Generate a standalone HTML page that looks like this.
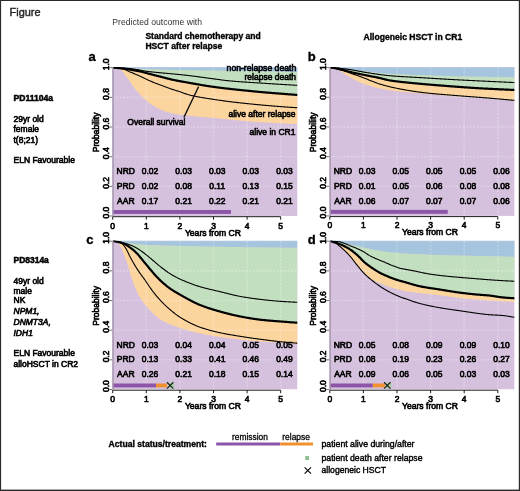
<!DOCTYPE html>
<html><head><meta charset="utf-8"><style>
html,body{margin:0;padding:0;background:#fff;}
svg{display:block;font-family:"Liberation Sans",sans-serif;}
</style></head><body>
<svg width="520" height="491" viewBox="0 0 520 491">
<defs><clipPath id="clipa"><rect x="112.5" y="67.0" width="185.0" height="149.0"/></clipPath><clipPath id="clipb"><rect x="329.6" y="66.89999999999999" width="185.0" height="149.0"/></clipPath><clipPath id="clipc"><rect x="112.5" y="240.5" width="185.0" height="149.0"/></clipPath><clipPath id="clipd"><rect x="329.6" y="240.5" width="185.0" height="149.0"/></clipPath><filter id="bl" x="0" y="0" width="100%" height="100%" filterUnits="userSpaceOnUse"><feGaussianBlur stdDeviation="0.3"/></filter></defs>
<rect x="0" y="0" width="520" height="491" fill="#fff"/>
<g filter="url(#bl)">
<g clip-path="url(#clipa)">
<rect x="112.5" y="67.0" width="185.0" height="0.8" fill="#a5c4de"/>
<rect x="112.5" y="67.7" width="185.0" height="148.3" fill="#d5c1dd"/>
<polygon points="112.70,67.70 113.37,67.70 114.04,67.70 114.72,67.70 115.39,67.70 116.06,67.70 116.73,67.70 117.40,67.70 118.08,67.70 118.75,67.70 119.42,67.70 120.09,67.70 120.76,67.70 121.44,67.70 122.11,67.70 122.78,67.70 123.45,67.70 124.12,67.70 124.80,67.70 125.47,67.70 126.14,67.70 126.81,67.70 127.48,67.70 128.16,67.70 128.83,67.70 129.50,67.70 130.17,67.70 130.84,67.70 131.52,67.70 132.19,67.70 132.86,67.70 133.53,67.70 134.20,67.70 134.88,67.70 135.55,67.70 136.22,67.70 136.89,67.70 137.56,67.70 138.24,67.70 138.91,67.70 139.58,67.70 140.25,67.70 140.92,67.70 141.60,67.70 142.27,67.70 142.94,67.70 143.61,67.70 144.28,67.70 144.96,67.70 145.63,67.70 146.30,67.70 146.97,67.70 147.64,67.70 148.32,67.70 148.99,67.70 149.66,67.70 150.33,67.70 151.00,67.70 151.68,67.70 152.35,67.70 153.02,67.70 153.69,67.70 154.36,67.70 155.04,67.70 155.71,67.70 156.38,67.70 157.05,67.70 157.72,67.70 158.40,67.70 159.07,67.70 159.74,67.70 160.41,67.70 161.08,67.70 161.76,67.70 162.43,67.70 163.10,67.70 163.77,67.70 164.44,67.70 165.12,67.70 165.79,67.70 166.46,67.70 167.13,67.70 167.80,67.70 168.48,67.70 169.15,67.70 169.82,67.70 170.49,67.70 171.16,67.70 171.84,67.70 172.51,67.70 173.18,67.70 173.85,67.70 174.52,67.70 175.20,67.70 175.87,67.70 176.54,67.70 177.21,67.70 177.88,67.70 178.56,67.70 179.23,67.70 179.90,67.70 180.57,67.70 181.24,67.70 181.92,67.70 182.59,67.70 183.26,67.70 183.93,67.70 184.60,67.70 185.28,67.70 185.95,67.70 186.62,67.70 187.29,67.70 187.96,67.70 188.64,67.70 189.31,67.70 189.98,67.70 190.65,67.70 191.32,67.70 192.00,67.70 192.67,67.70 193.34,67.70 194.01,67.70 194.68,67.70 195.36,67.70 196.03,67.70 196.70,67.70 197.37,67.70 198.04,67.70 198.72,67.70 199.39,67.70 200.06,67.70 200.73,67.70 201.40,67.70 202.08,67.70 202.75,67.70 203.42,67.70 204.09,67.70 204.76,67.70 205.44,67.70 206.11,67.70 206.78,67.70 207.45,67.70 208.12,67.70 208.80,67.70 209.47,67.70 210.14,67.70 210.81,67.70 211.48,67.70 212.16,67.70 212.83,67.70 213.50,67.70 214.17,67.70 214.84,67.70 215.52,67.70 216.19,67.70 216.86,67.70 217.53,67.70 218.20,67.70 218.88,67.70 219.55,67.70 220.22,67.70 220.89,67.70 221.56,67.70 222.24,67.70 222.91,67.70 223.58,67.70 224.25,67.70 224.92,67.70 225.60,67.70 226.27,67.70 226.94,67.70 227.61,67.70 228.28,67.70 228.96,67.70 229.63,67.70 230.30,67.70 230.97,67.70 231.64,67.70 232.32,67.70 232.99,67.70 233.66,67.70 234.33,67.70 235.00,67.70 235.68,67.70 236.35,67.70 237.02,67.70 237.69,67.70 238.36,67.70 239.04,67.70 239.71,67.70 240.38,67.70 241.05,67.70 241.72,67.70 242.40,67.70 243.07,67.70 243.74,67.70 244.41,67.70 245.08,67.70 245.76,67.70 246.43,67.70 247.10,67.70 247.77,67.70 248.44,67.70 249.12,67.70 249.79,67.70 250.46,67.70 251.13,67.70 251.80,67.70 252.48,67.70 253.15,67.70 253.82,67.70 254.49,67.70 255.16,67.70 255.84,67.70 256.51,67.70 257.18,67.70 257.85,67.70 258.52,67.70 259.20,67.70 259.87,67.70 260.54,67.70 261.21,67.70 261.88,67.70 262.56,67.70 263.23,67.70 263.90,67.70 264.57,67.70 265.24,67.70 265.92,67.70 266.59,67.70 267.26,67.70 267.93,67.70 268.60,67.70 269.28,67.70 269.95,67.70 270.62,67.70 271.29,67.70 271.96,67.70 272.64,67.70 273.31,67.70 273.98,67.70 274.65,67.70 275.32,67.70 276.00,67.70 276.67,67.70 277.34,67.70 278.01,67.70 278.68,67.70 279.36,67.70 280.03,67.70 280.70,67.70 281.37,67.70 282.04,67.70 282.72,67.70 283.39,67.70 284.06,67.70 284.73,67.70 285.40,67.70 286.08,67.70 286.75,67.70 287.42,67.70 288.09,67.70 288.76,67.70 289.44,67.70 290.11,67.70 290.78,67.70 291.45,67.70 292.12,67.70 292.80,67.70 293.47,67.70 294.14,67.70 294.81,67.70 295.48,67.70 296.16,67.70 296.83,67.70 297.50,67.70 297.50,72.15 296.83,72.13 296.16,72.12 295.48,72.10 294.81,72.09 294.14,72.07 293.47,72.06 292.80,72.04 292.12,72.03 291.45,72.01 290.78,72.00 290.11,71.98 289.44,71.97 288.76,71.95 288.09,71.94 287.42,71.92 286.75,71.91 286.08,71.89 285.40,71.87 284.73,71.86 284.06,71.84 283.39,71.83 282.72,71.81 282.04,71.80 281.37,71.78 280.70,71.77 280.03,71.75 279.36,71.74 278.68,71.72 278.01,71.71 277.34,71.69 276.67,71.68 276.00,71.66 275.32,71.65 274.65,71.63 273.98,71.62 273.31,71.60 272.64,71.59 271.96,71.57 271.29,71.56 270.62,71.54 269.95,71.53 269.28,71.52 268.60,71.50 267.93,71.49 267.26,71.47 266.59,71.46 265.92,71.45 265.24,71.43 264.57,71.42 263.90,71.41 263.23,71.39 262.56,71.38 261.88,71.37 261.21,71.36 260.54,71.34 259.87,71.33 259.20,71.32 258.52,71.30 257.85,71.29 257.18,71.28 256.51,71.27 255.84,71.25 255.16,71.24 254.49,71.23 253.82,71.22 253.15,71.21 252.48,71.19 251.80,71.18 251.13,71.17 250.46,71.16 249.79,71.15 249.12,71.13 248.44,71.12 247.77,71.11 247.10,71.10 246.43,71.09 245.76,71.08 245.08,71.06 244.41,71.05 243.74,71.04 243.07,71.03 242.40,71.02 241.72,71.01 241.05,71.00 240.38,70.98 239.71,70.97 239.04,70.96 238.36,70.95 237.69,70.94 237.02,70.93 236.35,70.92 235.68,70.91 235.00,70.90 234.33,70.89 233.66,70.87 232.99,70.86 232.32,70.85 231.64,70.84 230.97,70.83 230.30,70.82 229.63,70.81 228.96,70.80 228.28,70.79 227.61,70.78 226.94,70.77 226.27,70.76 225.60,70.75 224.92,70.74 224.25,70.73 223.58,70.72 222.91,70.71 222.24,70.70 221.56,70.69 220.89,70.68 220.22,70.67 219.55,70.66 218.88,70.65 218.20,70.64 217.53,70.63 216.86,70.62 216.19,70.61 215.52,70.60 214.84,70.59 214.17,70.58 213.50,70.57 212.83,70.56 212.16,70.55 211.48,70.54 210.81,70.53 210.14,70.53 209.47,70.52 208.80,70.51 208.12,70.50 207.45,70.49 206.78,70.48 206.11,70.47 205.44,70.46 204.76,70.45 204.09,70.44 203.42,70.43 202.75,70.42 202.08,70.41 201.40,70.40 200.73,70.39 200.06,70.38 199.39,70.37 198.72,70.36 198.04,70.35 197.37,70.34 196.70,70.33 196.03,70.32 195.36,70.31 194.68,70.30 194.01,70.29 193.34,70.28 192.67,70.27 192.00,70.25 191.32,70.24 190.65,70.23 189.98,70.22 189.31,70.21 188.64,70.20 187.96,70.19 187.29,70.18 186.62,70.16 185.95,70.15 185.28,70.14 184.60,70.13 183.93,70.12 183.26,70.11 182.59,70.09 181.92,70.08 181.24,70.07 180.57,70.06 179.90,70.05 179.23,70.03 178.56,70.02 177.88,70.01 177.21,70.00 176.54,69.98 175.87,69.97 175.20,69.96 174.52,69.95 173.85,69.93 173.18,69.92 172.51,69.91 171.84,69.89 171.16,69.88 170.49,69.87 169.82,69.85 169.15,69.84 168.48,69.82 167.80,69.81 167.13,69.79 166.46,69.78 165.79,69.76 165.12,69.75 164.44,69.73 163.77,69.72 163.10,69.70 162.43,69.69 161.76,69.67 161.08,69.65 160.41,69.64 159.74,69.62 159.07,69.60 158.40,69.58 157.72,69.57 157.05,69.55 156.38,69.53 155.71,69.51 155.04,69.49 154.36,69.47 153.69,69.45 153.02,69.43 152.35,69.41 151.68,69.38 151.00,69.36 150.33,69.34 149.66,69.31 148.99,69.29 148.32,69.26 147.64,69.24 146.97,69.21 146.30,69.18 145.63,69.15 144.96,69.12 144.28,69.08 143.61,69.05 142.94,69.00 142.27,68.96 141.60,68.92 140.92,68.87 140.25,68.82 139.58,68.78 138.91,68.73 138.24,68.68 137.56,68.63 136.89,68.58 136.22,68.53 135.55,68.48 134.88,68.44 134.20,68.39 133.53,68.35 132.86,68.31 132.19,68.27 131.52,68.24 130.84,68.20 130.17,68.17 129.50,68.14 128.83,68.12 128.16,68.09 127.48,68.07 126.81,68.04 126.14,68.02 125.47,67.99 124.80,67.97 124.12,67.95 123.45,67.92 122.78,67.90 122.11,67.88 121.44,67.85 120.76,67.83 120.09,67.82 119.42,67.80 118.75,67.78 118.08,67.76 117.40,67.75 116.73,67.74 116.06,67.73 115.39,67.72 114.72,67.71 114.04,67.70 113.37,67.70 112.70,67.70" fill="#a5c4de"/>
<polygon points="112.70,67.70 113.37,67.70 114.04,67.70 114.72,67.71 115.39,67.72 116.06,67.73 116.73,67.74 117.40,67.75 118.08,67.76 118.75,67.78 119.42,67.80 120.09,67.82 120.76,67.83 121.44,67.85 122.11,67.88 122.78,67.90 123.45,67.92 124.12,67.95 124.80,67.97 125.47,67.99 126.14,68.02 126.81,68.04 127.48,68.07 128.16,68.09 128.83,68.12 129.50,68.14 130.17,68.17 130.84,68.20 131.52,68.24 132.19,68.27 132.86,68.31 133.53,68.35 134.20,68.39 134.88,68.44 135.55,68.48 136.22,68.53 136.89,68.58 137.56,68.63 138.24,68.68 138.91,68.73 139.58,68.78 140.25,68.82 140.92,68.87 141.60,68.92 142.27,68.96 142.94,69.00 143.61,69.05 144.28,69.08 144.96,69.12 145.63,69.15 146.30,69.18 146.97,69.21 147.64,69.24 148.32,69.26 148.99,69.29 149.66,69.31 150.33,69.34 151.00,69.36 151.68,69.38 152.35,69.41 153.02,69.43 153.69,69.45 154.36,69.47 155.04,69.49 155.71,69.51 156.38,69.53 157.05,69.55 157.72,69.57 158.40,69.58 159.07,69.60 159.74,69.62 160.41,69.64 161.08,69.65 161.76,69.67 162.43,69.69 163.10,69.70 163.77,69.72 164.44,69.73 165.12,69.75 165.79,69.76 166.46,69.78 167.13,69.79 167.80,69.81 168.48,69.82 169.15,69.84 169.82,69.85 170.49,69.87 171.16,69.88 171.84,69.89 172.51,69.91 173.18,69.92 173.85,69.93 174.52,69.95 175.20,69.96 175.87,69.97 176.54,69.98 177.21,70.00 177.88,70.01 178.56,70.02 179.23,70.03 179.90,70.05 180.57,70.06 181.24,70.07 181.92,70.08 182.59,70.09 183.26,70.11 183.93,70.12 184.60,70.13 185.28,70.14 185.95,70.15 186.62,70.16 187.29,70.18 187.96,70.19 188.64,70.20 189.31,70.21 189.98,70.22 190.65,70.23 191.32,70.24 192.00,70.25 192.67,70.27 193.34,70.28 194.01,70.29 194.68,70.30 195.36,70.31 196.03,70.32 196.70,70.33 197.37,70.34 198.04,70.35 198.72,70.36 199.39,70.37 200.06,70.38 200.73,70.39 201.40,70.40 202.08,70.41 202.75,70.42 203.42,70.43 204.09,70.44 204.76,70.45 205.44,70.46 206.11,70.47 206.78,70.48 207.45,70.49 208.12,70.50 208.80,70.51 209.47,70.52 210.14,70.53 210.81,70.53 211.48,70.54 212.16,70.55 212.83,70.56 213.50,70.57 214.17,70.58 214.84,70.59 215.52,70.60 216.19,70.61 216.86,70.62 217.53,70.63 218.20,70.64 218.88,70.65 219.55,70.66 220.22,70.67 220.89,70.68 221.56,70.69 222.24,70.70 222.91,70.71 223.58,70.72 224.25,70.73 224.92,70.74 225.60,70.75 226.27,70.76 226.94,70.77 227.61,70.78 228.28,70.79 228.96,70.80 229.63,70.81 230.30,70.82 230.97,70.83 231.64,70.84 232.32,70.85 232.99,70.86 233.66,70.87 234.33,70.89 235.00,70.90 235.68,70.91 236.35,70.92 237.02,70.93 237.69,70.94 238.36,70.95 239.04,70.96 239.71,70.97 240.38,70.98 241.05,71.00 241.72,71.01 242.40,71.02 243.07,71.03 243.74,71.04 244.41,71.05 245.08,71.06 245.76,71.08 246.43,71.09 247.10,71.10 247.77,71.11 248.44,71.12 249.12,71.13 249.79,71.15 250.46,71.16 251.13,71.17 251.80,71.18 252.48,71.19 253.15,71.21 253.82,71.22 254.49,71.23 255.16,71.24 255.84,71.25 256.51,71.27 257.18,71.28 257.85,71.29 258.52,71.30 259.20,71.32 259.87,71.33 260.54,71.34 261.21,71.36 261.88,71.37 262.56,71.38 263.23,71.39 263.90,71.41 264.57,71.42 265.24,71.43 265.92,71.45 266.59,71.46 267.26,71.47 267.93,71.49 268.60,71.50 269.28,71.52 269.95,71.53 270.62,71.54 271.29,71.56 271.96,71.57 272.64,71.59 273.31,71.60 273.98,71.62 274.65,71.63 275.32,71.65 276.00,71.66 276.67,71.68 277.34,71.69 278.01,71.71 278.68,71.72 279.36,71.74 280.03,71.75 280.70,71.77 281.37,71.78 282.04,71.80 282.72,71.81 283.39,71.83 284.06,71.84 284.73,71.86 285.40,71.87 286.08,71.89 286.75,71.91 287.42,71.92 288.09,71.94 288.76,71.95 289.44,71.97 290.11,71.98 290.78,72.00 291.45,72.01 292.12,72.03 292.80,72.04 293.47,72.06 294.14,72.07 294.81,72.09 295.48,72.10 296.16,72.12 296.83,72.13 297.50,72.15 297.50,94.99 296.83,94.93 296.16,94.88 295.48,94.83 294.81,94.77 294.14,94.72 293.47,94.66 292.80,94.61 292.12,94.56 291.45,94.50 290.78,94.45 290.11,94.39 289.44,94.34 288.76,94.29 288.09,94.23 287.42,94.18 286.75,94.13 286.08,94.08 285.40,94.03 284.73,93.97 284.06,93.92 283.39,93.87 282.72,93.82 282.04,93.77 281.37,93.72 280.70,93.67 280.03,93.61 279.36,93.56 278.68,93.51 278.01,93.46 277.34,93.41 276.67,93.36 276.00,93.30 275.32,93.25 274.65,93.20 273.98,93.15 273.31,93.10 272.64,93.04 271.96,92.99 271.29,92.94 270.62,92.88 269.95,92.83 269.28,92.77 268.60,92.72 267.93,92.66 267.26,92.61 266.59,92.55 265.92,92.49 265.24,92.43 264.57,92.38 263.90,92.32 263.23,92.26 262.56,92.20 261.88,92.14 261.21,92.08 260.54,92.01 259.87,91.95 259.20,91.89 258.52,91.82 257.85,91.76 257.18,91.69 256.51,91.63 255.84,91.56 255.16,91.50 254.49,91.43 253.82,91.36 253.15,91.29 252.48,91.23 251.80,91.16 251.13,91.09 250.46,91.02 249.79,90.96 249.12,90.89 248.44,90.82 247.77,90.75 247.10,90.69 246.43,90.62 245.76,90.55 245.08,90.48 244.41,90.42 243.74,90.35 243.07,90.28 242.40,90.22 241.72,90.15 241.05,90.08 240.38,90.01 239.71,89.95 239.04,89.88 238.36,89.81 237.69,89.74 237.02,89.67 236.35,89.60 235.68,89.53 235.00,89.46 234.33,89.39 233.66,89.32 232.99,89.24 232.32,89.17 231.64,89.10 230.97,89.02 230.30,88.95 229.63,88.87 228.96,88.79 228.28,88.71 227.61,88.64 226.94,88.56 226.27,88.48 225.60,88.40 224.92,88.32 224.25,88.24 223.58,88.16 222.91,88.08 222.24,87.99 221.56,87.91 220.89,87.83 220.22,87.74 219.55,87.66 218.88,87.57 218.20,87.49 217.53,87.40 216.86,87.31 216.19,87.22 215.52,87.13 214.84,87.04 214.17,86.95 213.50,86.86 212.83,86.77 212.16,86.67 211.48,86.58 210.81,86.48 210.14,86.39 209.47,86.29 208.80,86.19 208.12,86.09 207.45,85.98 206.78,85.88 206.11,85.77 205.44,85.66 204.76,85.55 204.09,85.44 203.42,85.33 202.75,85.22 202.08,85.11 201.40,84.99 200.73,84.88 200.06,84.76 199.39,84.64 198.72,84.53 198.04,84.41 197.37,84.29 196.70,84.17 196.03,84.05 195.36,83.93 194.68,83.81 194.01,83.69 193.34,83.57 192.67,83.45 192.00,83.33 191.32,83.21 190.65,83.09 189.98,82.97 189.31,82.86 188.64,82.74 187.96,82.62 187.29,82.50 186.62,82.38 185.95,82.27 185.28,82.15 184.60,82.03 183.93,81.91 183.26,81.79 182.59,81.68 181.92,81.56 181.24,81.43 180.57,81.31 179.90,81.19 179.23,81.06 178.56,80.94 177.88,80.81 177.21,80.68 176.54,80.55 175.87,80.42 175.20,80.28 174.52,80.14 173.85,80.00 173.18,79.86 172.51,79.71 171.84,79.56 171.16,79.41 170.49,79.25 169.82,79.09 169.15,78.93 168.48,78.76 167.80,78.59 167.13,78.42 166.46,78.25 165.79,78.08 165.12,77.90 164.44,77.73 163.77,77.55 163.10,77.38 162.43,77.20 161.76,77.03 161.08,76.85 160.41,76.68 159.74,76.51 159.07,76.34 158.40,76.17 157.72,76.00 157.05,75.83 156.38,75.66 155.71,75.49 155.04,75.31 154.36,75.14 153.69,74.97 153.02,74.79 152.35,74.62 151.68,74.45 151.00,74.27 150.33,74.10 149.66,73.93 148.99,73.75 148.32,73.57 147.64,73.39 146.97,73.21 146.30,73.02 145.63,72.83 144.96,72.65 144.28,72.47 143.61,72.29 142.94,72.11 142.27,71.94 141.60,71.78 140.92,71.63 140.25,71.48 139.58,71.34 138.91,71.20 138.24,71.07 137.56,70.93 136.89,70.80 136.22,70.67 135.55,70.55 134.88,70.42 134.20,70.30 133.53,70.18 132.86,70.06 132.19,69.94 131.52,69.83 130.84,69.72 130.17,69.61 129.50,69.50 128.83,69.40 128.16,69.29 127.48,69.20 126.81,69.10 126.14,69.01 125.47,68.92 124.80,68.83 124.12,68.75 123.45,68.67 122.78,68.59 122.11,68.51 121.44,68.43 120.76,68.35 120.09,68.27 119.42,68.19 118.75,68.11 118.08,68.04 117.40,67.97 116.73,67.90 116.06,67.85 115.39,67.80 114.72,67.76 114.04,67.73 113.37,67.71 112.70,67.70" fill="#c2dfc0"/>
<polygon points="112.70,67.70 113.37,67.71 114.04,67.73 114.72,67.76 115.39,67.80 116.06,67.85 116.73,67.90 117.40,67.97 118.08,68.04 118.75,68.11 119.42,68.19 120.09,68.27 120.76,68.35 121.44,68.43 122.11,68.51 122.78,68.59 123.45,68.67 124.12,68.75 124.80,68.83 125.47,68.92 126.14,69.01 126.81,69.10 127.48,69.20 128.16,69.29 128.83,69.40 129.50,69.50 130.17,69.61 130.84,69.72 131.52,69.83 132.19,69.94 132.86,70.06 133.53,70.18 134.20,70.30 134.88,70.42 135.55,70.55 136.22,70.67 136.89,70.80 137.56,70.93 138.24,71.07 138.91,71.20 139.58,71.34 140.25,71.48 140.92,71.63 141.60,71.78 142.27,71.94 142.94,72.11 143.61,72.29 144.28,72.47 144.96,72.65 145.63,72.83 146.30,73.02 146.97,73.21 147.64,73.39 148.32,73.57 148.99,73.75 149.66,73.93 150.33,74.10 151.00,74.27 151.68,74.45 152.35,74.62 153.02,74.79 153.69,74.97 154.36,75.14 155.04,75.31 155.71,75.49 156.38,75.66 157.05,75.83 157.72,76.00 158.40,76.17 159.07,76.34 159.74,76.51 160.41,76.68 161.08,76.85 161.76,77.03 162.43,77.20 163.10,77.38 163.77,77.55 164.44,77.73 165.12,77.90 165.79,78.08 166.46,78.25 167.13,78.42 167.80,78.59 168.48,78.76 169.15,78.93 169.82,79.09 170.49,79.25 171.16,79.41 171.84,79.56 172.51,79.71 173.18,79.86 173.85,80.00 174.52,80.14 175.20,80.28 175.87,80.42 176.54,80.55 177.21,80.68 177.88,80.81 178.56,80.94 179.23,81.06 179.90,81.19 180.57,81.31 181.24,81.43 181.92,81.56 182.59,81.68 183.26,81.79 183.93,81.91 184.60,82.03 185.28,82.15 185.95,82.27 186.62,82.38 187.29,82.50 187.96,82.62 188.64,82.74 189.31,82.86 189.98,82.97 190.65,83.09 191.32,83.21 192.00,83.33 192.67,83.45 193.34,83.57 194.01,83.69 194.68,83.81 195.36,83.93 196.03,84.05 196.70,84.17 197.37,84.29 198.04,84.41 198.72,84.53 199.39,84.64 200.06,84.76 200.73,84.88 201.40,84.99 202.08,85.11 202.75,85.22 203.42,85.33 204.09,85.44 204.76,85.55 205.44,85.66 206.11,85.77 206.78,85.88 207.45,85.98 208.12,86.09 208.80,86.19 209.47,86.29 210.14,86.39 210.81,86.48 211.48,86.58 212.16,86.67 212.83,86.77 213.50,86.86 214.17,86.95 214.84,87.04 215.52,87.13 216.19,87.22 216.86,87.31 217.53,87.40 218.20,87.49 218.88,87.57 219.55,87.66 220.22,87.74 220.89,87.83 221.56,87.91 222.24,87.99 222.91,88.08 223.58,88.16 224.25,88.24 224.92,88.32 225.60,88.40 226.27,88.48 226.94,88.56 227.61,88.64 228.28,88.71 228.96,88.79 229.63,88.87 230.30,88.95 230.97,89.02 231.64,89.10 232.32,89.17 232.99,89.24 233.66,89.32 234.33,89.39 235.00,89.46 235.68,89.53 236.35,89.60 237.02,89.67 237.69,89.74 238.36,89.81 239.04,89.88 239.71,89.95 240.38,90.01 241.05,90.08 241.72,90.15 242.40,90.22 243.07,90.28 243.74,90.35 244.41,90.42 245.08,90.48 245.76,90.55 246.43,90.62 247.10,90.69 247.77,90.75 248.44,90.82 249.12,90.89 249.79,90.96 250.46,91.02 251.13,91.09 251.80,91.16 252.48,91.23 253.15,91.29 253.82,91.36 254.49,91.43 255.16,91.50 255.84,91.56 256.51,91.63 257.18,91.69 257.85,91.76 258.52,91.82 259.20,91.89 259.87,91.95 260.54,92.01 261.21,92.08 261.88,92.14 262.56,92.20 263.23,92.26 263.90,92.32 264.57,92.38 265.24,92.43 265.92,92.49 266.59,92.55 267.26,92.61 267.93,92.66 268.60,92.72 269.28,92.77 269.95,92.83 270.62,92.88 271.29,92.94 271.96,92.99 272.64,93.04 273.31,93.10 273.98,93.15 274.65,93.20 275.32,93.25 276.00,93.30 276.67,93.36 277.34,93.41 278.01,93.46 278.68,93.51 279.36,93.56 280.03,93.61 280.70,93.67 281.37,93.72 282.04,93.77 282.72,93.82 283.39,93.87 284.06,93.92 284.73,93.97 285.40,94.03 286.08,94.08 286.75,94.13 287.42,94.18 288.09,94.23 288.76,94.29 289.44,94.34 290.11,94.39 290.78,94.45 291.45,94.50 292.12,94.56 292.80,94.61 293.47,94.66 294.14,94.72 294.81,94.77 295.48,94.83 296.16,94.88 296.83,94.93 297.50,94.99 297.50,124.20 296.83,124.17 296.16,124.13 295.48,124.10 294.81,124.06 294.14,124.02 293.47,123.99 292.80,123.95 292.12,123.92 291.45,123.88 290.78,123.85 290.11,123.81 289.44,123.78 288.76,123.74 288.09,123.70 287.42,123.67 286.75,123.63 286.08,123.60 285.40,123.56 284.73,123.53 284.06,123.49 283.39,123.45 282.72,123.42 282.04,123.38 281.37,123.35 280.70,123.31 280.03,123.28 279.36,123.24 278.68,123.21 278.01,123.17 277.34,123.14 276.67,123.10 276.00,123.07 275.32,123.04 274.65,123.00 273.98,122.97 273.31,122.93 272.64,122.90 271.96,122.87 271.29,122.83 270.62,122.80 269.95,122.76 269.28,122.73 268.60,122.69 267.93,122.65 267.26,122.62 266.59,122.58 265.92,122.54 265.24,122.50 264.57,122.46 263.90,122.42 263.23,122.38 262.56,122.34 261.88,122.30 261.21,122.26 260.54,122.21 259.87,122.17 259.20,122.13 258.52,122.08 257.85,122.04 257.18,121.99 256.51,121.94 255.84,121.90 255.16,121.85 254.49,121.80 253.82,121.75 253.15,121.71 252.48,121.66 251.80,121.61 251.13,121.55 250.46,121.50 249.79,121.45 249.12,121.40 248.44,121.34 247.77,121.29 247.10,121.24 246.43,121.18 245.76,121.12 245.08,121.06 244.41,121.00 243.74,120.94 243.07,120.88 242.40,120.82 241.72,120.75 241.05,120.69 240.38,120.62 239.71,120.55 239.04,120.49 238.36,120.42 237.69,120.35 237.02,120.28 236.35,120.21 235.68,120.14 235.00,120.08 234.33,120.01 233.66,119.94 232.99,119.87 232.32,119.80 231.64,119.74 230.97,119.67 230.30,119.61 229.63,119.54 228.96,119.47 228.28,119.41 227.61,119.34 226.94,119.28 226.27,119.21 225.60,119.14 224.92,119.08 224.25,119.01 223.58,118.94 222.91,118.88 222.24,118.81 221.56,118.75 220.89,118.68 220.22,118.61 219.55,118.55 218.88,118.48 218.20,118.42 217.53,118.35 216.86,118.29 216.19,118.23 215.52,118.16 214.84,118.10 214.17,118.04 213.50,117.97 212.83,117.91 212.16,117.85 211.48,117.79 210.81,117.73 210.14,117.67 209.47,117.62 208.80,117.56 208.12,117.50 207.45,117.44 206.78,117.39 206.11,117.33 205.44,117.27 204.76,117.21 204.09,117.15 203.42,117.09 202.75,117.04 202.08,116.97 201.40,116.91 200.73,116.85 200.06,116.79 199.39,116.72 198.72,116.66 198.04,116.59 197.37,116.53 196.70,116.46 196.03,116.39 195.36,116.32 194.68,116.25 194.01,116.18 193.34,116.11 192.67,116.04 192.00,115.97 191.32,115.90 190.65,115.82 189.98,115.75 189.31,115.68 188.64,115.60 187.96,115.53 187.29,115.46 186.62,115.38 185.95,115.31 185.28,115.23 184.60,115.16 183.93,115.08 183.26,115.00 182.59,114.92 181.92,114.83 181.24,114.75 180.57,114.66 179.90,114.56 179.23,114.47 178.56,114.37 177.88,114.27 177.21,114.17 176.54,114.07 175.87,113.96 175.20,113.85 174.52,113.73 173.85,113.61 173.18,113.49 172.51,113.36 171.84,113.23 171.16,113.09 170.49,112.94 169.82,112.78 169.15,112.62 168.48,112.44 167.80,112.25 167.13,112.05 166.46,111.83 165.79,111.61 165.12,111.38 164.44,111.13 163.77,110.88 163.10,110.62 162.43,110.36 161.76,110.08 161.08,109.80 160.41,109.52 159.74,109.22 159.07,108.92 158.40,108.59 157.72,108.25 157.05,107.90 156.38,107.53 155.71,107.15 155.04,106.75 154.36,106.35 153.69,105.94 153.02,105.52 152.35,105.08 151.68,104.63 151.00,104.16 150.33,103.67 149.66,103.17 148.99,102.65 148.32,102.13 147.64,101.59 146.97,101.03 146.30,100.47 145.63,99.90 144.96,99.31 144.28,98.70 143.61,98.08 142.94,97.44 142.27,96.79 141.60,96.12 140.92,95.44 140.25,94.74 139.58,94.04 138.91,93.32 138.24,92.58 137.56,91.82 136.89,91.04 136.22,90.24 135.55,89.43 134.88,88.59 134.20,87.73 133.53,86.83 132.86,85.89 132.19,84.94 131.52,83.96 130.84,82.99 130.17,82.03 129.50,81.06 128.83,80.08 128.16,79.08 127.48,78.10 126.81,77.17 126.14,76.30 125.47,75.45 124.80,74.58 124.12,73.70 123.45,72.84 122.78,72.02 122.11,71.25 121.44,70.56 120.76,69.97 120.09,69.51 119.42,69.18 118.75,68.94 118.08,68.71 117.40,68.50 116.73,68.31 116.06,68.13 115.39,67.99 114.72,67.87 114.04,67.78 113.37,67.72 112.70,67.70" fill="#fcd49e"/>
<line x1="146.3" y1="67.7" x2="146.3" y2="216.0" stroke="#fff" stroke-opacity="0.25" stroke-width="1.6" stroke-dasharray="2,1.5"/>
<line x1="179.9" y1="67.7" x2="179.9" y2="216.0" stroke="#fff" stroke-opacity="0.25" stroke-width="1.6" stroke-dasharray="2,1.5"/>
<line x1="213.5" y1="67.7" x2="213.5" y2="216.0" stroke="#fff" stroke-opacity="0.25" stroke-width="1.6" stroke-dasharray="2,1.5"/>
<line x1="247.1" y1="67.7" x2="247.1" y2="216.0" stroke="#fff" stroke-opacity="0.25" stroke-width="1.6" stroke-dasharray="2,1.5"/>
<line x1="280.7" y1="67.7" x2="280.7" y2="216.0" stroke="#fff" stroke-opacity="0.25" stroke-width="1.6" stroke-dasharray="2,1.5"/>
<line x1="112.5" y1="186.3" x2="297.5" y2="186.3" stroke="#fff" stroke-opacity="0.25" stroke-width="1.6" stroke-dasharray="2,1.5"/>
<line x1="112.5" y1="156.7" x2="297.5" y2="156.7" stroke="#fff" stroke-opacity="0.25" stroke-width="1.6" stroke-dasharray="2,1.5"/>
<line x1="112.5" y1="127.0" x2="297.5" y2="127.0" stroke="#fff" stroke-opacity="0.25" stroke-width="1.6" stroke-dasharray="2,1.5"/>
<line x1="112.5" y1="97.4" x2="297.5" y2="97.4" stroke="#fff" stroke-opacity="0.25" stroke-width="1.6" stroke-dasharray="2,1.5"/>
<polyline points="112.70,67.70 113.37,67.70 114.04,67.71 114.72,67.72 115.39,67.73 116.06,67.74 116.73,67.76 117.40,67.78 118.08,67.80 118.75,67.83 119.42,67.85 120.09,67.88 120.76,67.91 121.44,67.94 122.11,67.97 122.78,68.00 123.45,68.03 124.12,68.07 124.80,68.11 125.47,68.17 126.14,68.22 126.81,68.28 127.48,68.35 128.16,68.41 128.83,68.49 129.50,68.56 130.17,68.64 130.84,68.72 131.52,68.80 132.19,68.88 132.86,68.97 133.53,69.05 134.20,69.14 134.88,69.23 135.55,69.32 136.22,69.43 136.89,69.54 137.56,69.66 138.24,69.79 138.91,69.91 139.58,70.05 140.25,70.18 140.92,70.31 141.60,70.45 142.27,70.58 142.94,70.70 143.61,70.83 144.28,70.95 144.96,71.06 145.63,71.16 146.30,71.26 146.97,71.35 147.64,71.43 148.32,71.52 148.99,71.60 149.66,71.68 150.33,71.76 151.00,71.83 151.68,71.90 152.35,71.98 153.02,72.05 153.69,72.11 154.36,72.18 155.04,72.25 155.71,72.32 156.38,72.38 157.05,72.45 157.72,72.51 158.40,72.58 159.07,72.64 159.74,72.71 160.41,72.78 161.08,72.84 161.76,72.90 162.43,72.97 163.10,73.03 163.77,73.09 164.44,73.15 165.12,73.21 165.79,73.26 166.46,73.32 167.13,73.38 167.80,73.44 168.48,73.50 169.15,73.56 169.82,73.62 170.49,73.68 171.16,73.74 171.84,73.80 172.51,73.86 173.18,73.93 173.85,73.99 174.52,74.06 175.20,74.13 175.87,74.19 176.54,74.26 177.21,74.33 177.88,74.40 178.56,74.46 179.23,74.53 179.90,74.60 180.57,74.67 181.24,74.74 181.92,74.81 182.59,74.88 183.26,74.95 183.93,75.03 184.60,75.10 185.28,75.17 185.95,75.25 186.62,75.32 187.29,75.40 187.96,75.48 188.64,75.55 189.31,75.63 189.98,75.71 190.65,75.79 191.32,75.87 192.00,75.95 192.67,76.03 193.34,76.12 194.01,76.20 194.68,76.29 195.36,76.38 196.03,76.47 196.70,76.56 197.37,76.65 198.04,76.74 198.72,76.83 199.39,76.92 200.06,77.01 200.73,77.10 201.40,77.20 202.08,77.29 202.75,77.38 203.42,77.47 204.09,77.57 204.76,77.66 205.44,77.75 206.11,77.84 206.78,77.93 207.45,78.02 208.12,78.11 208.80,78.20 209.47,78.29 210.14,78.38 210.81,78.47 211.48,78.55 212.16,78.64 212.83,78.74 213.50,78.83 214.17,78.92 214.84,79.01 215.52,79.11 216.19,79.20 216.86,79.29 217.53,79.38 218.20,79.48 218.88,79.57 219.55,79.66 220.22,79.75 220.89,79.84 221.56,79.93 222.24,80.02 222.91,80.11 223.58,80.19 224.25,80.28 224.92,80.36 225.60,80.44 226.27,80.51 226.94,80.59 227.61,80.66 228.28,80.73 228.96,80.80 229.63,80.87 230.30,80.93 230.97,80.99 231.64,81.05 232.32,81.11 232.99,81.17 233.66,81.23 234.33,81.28 235.00,81.34 235.68,81.39 236.35,81.44 237.02,81.50 237.69,81.55 238.36,81.60 239.04,81.65 239.71,81.70 240.38,81.75 241.05,81.80 241.72,81.85 242.40,81.89 243.07,81.94 243.74,81.99 244.41,82.03 245.08,82.08 245.76,82.12 246.43,82.17 247.10,82.21 247.77,82.25 248.44,82.30 249.12,82.34 249.79,82.38 250.46,82.43 251.13,82.47 251.80,82.51 252.48,82.55 253.15,82.59 253.82,82.64 254.49,82.68 255.16,82.72 255.84,82.76 256.51,82.80 257.18,82.84 257.85,82.89 258.52,82.93 259.20,82.97 259.87,83.01 260.54,83.05 261.21,83.10 261.88,83.14 262.56,83.18 263.23,83.23 263.90,83.27 264.57,83.32 265.24,83.36 265.92,83.40 266.59,83.45 267.26,83.49 267.93,83.53 268.60,83.58 269.28,83.62 269.95,83.66 270.62,83.70 271.29,83.75 271.96,83.79 272.64,83.83 273.31,83.87 273.98,83.92 274.65,83.96 275.32,84.00 276.00,84.04 276.67,84.08 277.34,84.12 278.01,84.16 278.68,84.21 279.36,84.25 280.03,84.29 280.70,84.33 281.37,84.37 282.04,84.41 282.72,84.45 283.39,84.49 284.06,84.53 284.73,84.58 285.40,84.62 286.08,84.66 286.75,84.70 287.42,84.74 288.09,84.78 288.76,84.82 289.44,84.86 290.11,84.90 290.78,84.94 291.45,84.98 292.12,85.03 292.80,85.07 293.47,85.11 294.14,85.15 294.81,85.19 295.48,85.23 296.16,85.27 296.83,85.31 297.50,85.35" fill="none" stroke="#000" stroke-width="1.1" stroke-linejoin="round"/>
<polyline points="112.70,67.70 113.37,67.71 114.04,67.72 114.72,67.75 115.39,67.80 116.06,67.85 116.73,67.90 117.40,67.97 118.08,68.04 118.75,68.12 119.42,68.21 120.09,68.30 120.76,68.39 121.44,68.50 122.11,68.64 122.78,68.83 123.45,69.05 124.12,69.30 124.80,69.58 125.47,69.87 126.14,70.18 126.81,70.49 127.48,70.81 128.16,71.12 128.83,71.42 129.50,71.70 130.17,71.98 130.84,72.25 131.52,72.53 132.19,72.81 132.86,73.09 133.53,73.37 134.20,73.66 134.88,73.95 135.55,74.23 136.22,74.52 136.89,74.82 137.56,75.11 138.24,75.41 138.91,75.70 139.58,76.00 140.25,76.30 140.92,76.61 141.60,76.93 142.27,77.25 142.94,77.57 143.61,77.90 144.28,78.23 144.96,78.55 145.63,78.88 146.30,79.20 146.97,79.53 147.64,79.84 148.32,80.15 148.99,80.46 149.66,80.75 150.33,81.04 151.00,81.32 151.68,81.60 152.35,81.88 153.02,82.16 153.69,82.43 154.36,82.69 155.04,82.96 155.71,83.22 156.38,83.49 157.05,83.75 157.72,84.00 158.40,84.26 159.07,84.52 159.74,84.77 160.41,85.03 161.08,85.29 161.76,85.54 162.43,85.79 163.10,86.04 163.77,86.30 164.44,86.55 165.12,86.79 165.79,87.04 166.46,87.28 167.13,87.53 167.80,87.77 168.48,88.01 169.15,88.24 169.82,88.48 170.49,88.71 171.16,88.94 171.84,89.17 172.51,89.39 173.18,89.61 173.85,89.82 174.52,90.03 175.20,90.24 175.87,90.45 176.54,90.66 177.21,90.87 177.88,91.08 178.56,91.29 179.23,91.51 179.90,91.72 180.57,91.95 181.24,92.18 181.92,92.42 182.59,92.67 183.26,92.91 183.93,93.16 184.60,93.41 185.28,93.65 185.95,93.89 186.62,94.13 187.29,94.35 187.96,94.57 188.64,94.77 189.31,94.96 189.98,95.14 190.65,95.30 191.32,95.46 192.00,95.61 192.67,95.76 193.34,95.91 194.01,96.05 194.68,96.19 195.36,96.33 196.03,96.46 196.70,96.59 197.37,96.72 198.04,96.85 198.72,96.97 199.39,97.09 200.06,97.21 200.73,97.32 201.40,97.44 202.08,97.55 202.75,97.66 203.42,97.77 204.09,97.88 204.76,97.99 205.44,98.10 206.11,98.20 206.78,98.31 207.45,98.42 208.12,98.52 208.80,98.63 209.47,98.74 210.14,98.84 210.81,98.95 211.48,99.06 212.16,99.16 212.83,99.27 213.50,99.37 214.17,99.47 214.84,99.58 215.52,99.68 216.19,99.78 216.86,99.88 217.53,99.98 218.20,100.07 218.88,100.17 219.55,100.27 220.22,100.36 220.89,100.46 221.56,100.55 222.24,100.64 222.91,100.74 223.58,100.83 224.25,100.92 224.92,101.01 225.60,101.10 226.27,101.19 226.94,101.27 227.61,101.36 228.28,101.45 228.96,101.53 229.63,101.62 230.30,101.70 230.97,101.79 231.64,101.87 232.32,101.95 232.99,102.03 233.66,102.11 234.33,102.19 235.00,102.27 235.68,102.35 236.35,102.42 237.02,102.50 237.69,102.58 238.36,102.65 239.04,102.73 239.71,102.80 240.38,102.87 241.05,102.95 241.72,103.02 242.40,103.09 243.07,103.16 243.74,103.24 244.41,103.31 245.08,103.38 245.76,103.45 246.43,103.52 247.10,103.59 247.77,103.66 248.44,103.73 249.12,103.80 249.79,103.87 250.46,103.94 251.13,104.00 251.80,104.07 252.48,104.14 253.15,104.21 253.82,104.27 254.49,104.34 255.16,104.41 255.84,104.47 256.51,104.54 257.18,104.60 257.85,104.67 258.52,104.73 259.20,104.79 259.87,104.86 260.54,104.92 261.21,104.98 261.88,105.04 262.56,105.10 263.23,105.16 263.90,105.22 264.57,105.28 265.24,105.34 265.92,105.40 266.59,105.45 267.26,105.51 267.93,105.57 268.60,105.63 269.28,105.69 269.95,105.74 270.62,105.80 271.29,105.86 271.96,105.91 272.64,105.97 273.31,106.03 273.98,106.08 274.65,106.14 275.32,106.19 276.00,106.25 276.67,106.30 277.34,106.35 278.01,106.41 278.68,106.46 279.36,106.51 280.03,106.57 280.70,106.62 281.37,106.67 282.04,106.72 282.72,106.77 283.39,106.82 284.06,106.87 284.73,106.92 285.40,106.97 286.08,107.02 286.75,107.07 287.42,107.11 288.09,107.16 288.76,107.21 289.44,107.25 290.11,107.30 290.78,107.34 291.45,107.38 292.12,107.42 292.80,107.46 293.47,107.50 294.14,107.54 294.81,107.58 295.48,107.62 296.16,107.66 296.83,107.70 297.50,107.74" fill="none" stroke="#000" stroke-width="1.1" stroke-linejoin="round"/>
<polyline points="112.70,67.70 113.37,67.71 114.04,67.73 114.72,67.76 115.39,67.80 116.06,67.85 116.73,67.90 117.40,67.97 118.08,68.04 118.75,68.11 119.42,68.19 120.09,68.27 120.76,68.35 121.44,68.43 122.11,68.51 122.78,68.59 123.45,68.67 124.12,68.75 124.80,68.83 125.47,68.92 126.14,69.01 126.81,69.10 127.48,69.20 128.16,69.29 128.83,69.40 129.50,69.50 130.17,69.61 130.84,69.72 131.52,69.83 132.19,69.94 132.86,70.06 133.53,70.18 134.20,70.30 134.88,70.42 135.55,70.55 136.22,70.67 136.89,70.80 137.56,70.93 138.24,71.07 138.91,71.20 139.58,71.34 140.25,71.48 140.92,71.63 141.60,71.78 142.27,71.94 142.94,72.11 143.61,72.29 144.28,72.47 144.96,72.65 145.63,72.83 146.30,73.02 146.97,73.21 147.64,73.39 148.32,73.57 148.99,73.75 149.66,73.93 150.33,74.10 151.00,74.27 151.68,74.45 152.35,74.62 153.02,74.79 153.69,74.97 154.36,75.14 155.04,75.31 155.71,75.49 156.38,75.66 157.05,75.83 157.72,76.00 158.40,76.17 159.07,76.34 159.74,76.51 160.41,76.68 161.08,76.85 161.76,77.03 162.43,77.20 163.10,77.38 163.77,77.55 164.44,77.73 165.12,77.90 165.79,78.08 166.46,78.25 167.13,78.42 167.80,78.59 168.48,78.76 169.15,78.93 169.82,79.09 170.49,79.25 171.16,79.41 171.84,79.56 172.51,79.71 173.18,79.86 173.85,80.00 174.52,80.14 175.20,80.28 175.87,80.42 176.54,80.55 177.21,80.68 177.88,80.81 178.56,80.94 179.23,81.06 179.90,81.19 180.57,81.31 181.24,81.43 181.92,81.56 182.59,81.68 183.26,81.79 183.93,81.91 184.60,82.03 185.28,82.15 185.95,82.27 186.62,82.38 187.29,82.50 187.96,82.62 188.64,82.74 189.31,82.86 189.98,82.97 190.65,83.09 191.32,83.21 192.00,83.33 192.67,83.45 193.34,83.57 194.01,83.69 194.68,83.81 195.36,83.93 196.03,84.05 196.70,84.17 197.37,84.29 198.04,84.41 198.72,84.53 199.39,84.64 200.06,84.76 200.73,84.88 201.40,84.99 202.08,85.11 202.75,85.22 203.42,85.33 204.09,85.44 204.76,85.55 205.44,85.66 206.11,85.77 206.78,85.88 207.45,85.98 208.12,86.09 208.80,86.19 209.47,86.29 210.14,86.39 210.81,86.48 211.48,86.58 212.16,86.67 212.83,86.77 213.50,86.86 214.17,86.95 214.84,87.04 215.52,87.13 216.19,87.22 216.86,87.31 217.53,87.40 218.20,87.49 218.88,87.57 219.55,87.66 220.22,87.74 220.89,87.83 221.56,87.91 222.24,87.99 222.91,88.08 223.58,88.16 224.25,88.24 224.92,88.32 225.60,88.40 226.27,88.48 226.94,88.56 227.61,88.64 228.28,88.71 228.96,88.79 229.63,88.87 230.30,88.95 230.97,89.02 231.64,89.10 232.32,89.17 232.99,89.24 233.66,89.32 234.33,89.39 235.00,89.46 235.68,89.53 236.35,89.60 237.02,89.67 237.69,89.74 238.36,89.81 239.04,89.88 239.71,89.95 240.38,90.01 241.05,90.08 241.72,90.15 242.40,90.22 243.07,90.28 243.74,90.35 244.41,90.42 245.08,90.48 245.76,90.55 246.43,90.62 247.10,90.69 247.77,90.75 248.44,90.82 249.12,90.89 249.79,90.96 250.46,91.02 251.13,91.09 251.80,91.16 252.48,91.23 253.15,91.29 253.82,91.36 254.49,91.43 255.16,91.50 255.84,91.56 256.51,91.63 257.18,91.69 257.85,91.76 258.52,91.82 259.20,91.89 259.87,91.95 260.54,92.01 261.21,92.08 261.88,92.14 262.56,92.20 263.23,92.26 263.90,92.32 264.57,92.38 265.24,92.43 265.92,92.49 266.59,92.55 267.26,92.61 267.93,92.66 268.60,92.72 269.28,92.77 269.95,92.83 270.62,92.88 271.29,92.94 271.96,92.99 272.64,93.04 273.31,93.10 273.98,93.15 274.65,93.20 275.32,93.25 276.00,93.30 276.67,93.36 277.34,93.41 278.01,93.46 278.68,93.51 279.36,93.56 280.03,93.61 280.70,93.67 281.37,93.72 282.04,93.77 282.72,93.82 283.39,93.87 284.06,93.92 284.73,93.97 285.40,94.03 286.08,94.08 286.75,94.13 287.42,94.18 288.09,94.23 288.76,94.29 289.44,94.34 290.11,94.39 290.78,94.45 291.45,94.50 292.12,94.56 292.80,94.61 293.47,94.66 294.14,94.72 294.81,94.77 295.48,94.83 296.16,94.88 296.83,94.93 297.50,94.99" fill="none" stroke="#000" stroke-width="2.2" stroke-linejoin="round"/>
</g>
<rect x="112.70" y="210.00" width="118.27" height="3.9" fill="#8b55a8"/>
<line x1="113.00" y1="67.7" x2="113.00" y2="216.0" stroke="#a494ac" stroke-width="1.5"/>
<line x1="109.20" y1="216.00" x2="112.20" y2="216.00" stroke="#666" stroke-width="0.9"/>
<text x="108.90" y="212.60" font-size="8.5" text-anchor="middle" fill="#000" stroke="#000" stroke-width="0.6" transform="rotate(-90 108.90 212.60)">0.0</text>
<line x1="109.20" y1="186.34" x2="112.20" y2="186.34" stroke="#666" stroke-width="0.9"/>
<text x="108.90" y="182.94" font-size="8.5" text-anchor="middle" fill="#000" stroke="#000" stroke-width="0.6" transform="rotate(-90 108.90 182.94)">0.2</text>
<line x1="109.20" y1="156.68" x2="112.20" y2="156.68" stroke="#666" stroke-width="0.9"/>
<text x="108.90" y="153.28" font-size="8.5" text-anchor="middle" fill="#000" stroke="#000" stroke-width="0.6" transform="rotate(-90 108.90 153.28)">0.4</text>
<line x1="109.20" y1="127.02" x2="112.20" y2="127.02" stroke="#666" stroke-width="0.9"/>
<text x="108.90" y="123.62" font-size="8.5" text-anchor="middle" fill="#000" stroke="#000" stroke-width="0.6" transform="rotate(-90 108.90 123.62)">0.6</text>
<line x1="109.20" y1="97.36" x2="112.20" y2="97.36" stroke="#666" stroke-width="0.9"/>
<text x="108.90" y="93.96" font-size="8.5" text-anchor="middle" fill="#000" stroke="#000" stroke-width="0.6" transform="rotate(-90 108.90 93.96)">0.8</text>
<line x1="109.20" y1="67.70" x2="112.20" y2="67.70" stroke="#666" stroke-width="0.9"/>
<text x="108.90" y="64.30" font-size="8.5" text-anchor="middle" fill="#000" stroke="#000" stroke-width="0.6" transform="rotate(-90 108.90 64.30)">1.0</text>
<line x1="112.70" y1="216.70" x2="280.70" y2="216.70" stroke="#000" stroke-width="0.9"/>
<line x1="112.70" y1="216.70" x2="112.70" y2="219.70" stroke="#000" stroke-width="0.9"/>
<text x="112.70" y="228.50" font-size="8.5" text-anchor="middle" fill="#000" stroke="#000" stroke-width="0.6">0</text>
<line x1="146.30" y1="216.70" x2="146.30" y2="219.70" stroke="#000" stroke-width="0.9"/>
<text x="146.30" y="228.50" font-size="8.5" text-anchor="middle" fill="#000" stroke="#000" stroke-width="0.6">1</text>
<line x1="179.90" y1="216.70" x2="179.90" y2="219.70" stroke="#000" stroke-width="0.9"/>
<text x="179.90" y="228.50" font-size="8.5" text-anchor="middle" fill="#000" stroke="#000" stroke-width="0.6">2</text>
<line x1="213.50" y1="216.70" x2="213.50" y2="219.70" stroke="#000" stroke-width="0.9"/>
<text x="213.50" y="228.50" font-size="8.5" text-anchor="middle" fill="#000" stroke="#000" stroke-width="0.6">3</text>
<line x1="247.10" y1="216.70" x2="247.10" y2="219.70" stroke="#000" stroke-width="0.9"/>
<text x="247.10" y="228.50" font-size="8.5" text-anchor="middle" fill="#000" stroke="#000" stroke-width="0.6">4</text>
<line x1="280.70" y1="216.70" x2="280.70" y2="219.70" stroke="#000" stroke-width="0.9"/>
<text x="280.70" y="228.50" font-size="8.5" text-anchor="middle" fill="#000" stroke="#000" stroke-width="0.6">5</text>
<text x="212.90" y="236.10" font-size="8.5" text-anchor="middle" textLength="56" lengthAdjust="spacingAndGlyphs" fill="#000" stroke="#000" stroke-width="0.6">Years from CR</text>
<text x="98.70" y="132.40" font-size="8.5" text-anchor="middle" fill="#000" stroke="#000" stroke-width="0.6" transform="rotate(-90 98.70 132.40)">Probability</text>
<text x="125.80" y="174.01" font-size="8.5" text-anchor="middle" fill="#000" stroke="#000" stroke-width="0.6">NRD</text>
<text x="150.00" y="174.01" font-size="8.5" text-anchor="middle" fill="#000" stroke="#000" stroke-width="0.6">0.02</text>
<text x="183.60" y="174.01" font-size="8.5" text-anchor="middle" fill="#000" stroke="#000" stroke-width="0.6">0.03</text>
<text x="217.20" y="174.01" font-size="8.5" text-anchor="middle" fill="#000" stroke="#000" stroke-width="0.6">0.03</text>
<text x="250.80" y="174.01" font-size="8.5" text-anchor="middle" fill="#000" stroke="#000" stroke-width="0.6">0.03</text>
<text x="284.40" y="174.01" font-size="8.5" text-anchor="middle" fill="#000" stroke="#000" stroke-width="0.6">0.03</text>
<text x="125.80" y="188.84" font-size="8.5" text-anchor="middle" fill="#000" stroke="#000" stroke-width="0.6">PRD</text>
<text x="150.00" y="188.84" font-size="8.5" text-anchor="middle" fill="#000" stroke="#000" stroke-width="0.6">0.02</text>
<text x="183.60" y="188.84" font-size="8.5" text-anchor="middle" fill="#000" stroke="#000" stroke-width="0.6">0.08</text>
<text x="217.20" y="188.84" font-size="8.5" text-anchor="middle" fill="#000" stroke="#000" stroke-width="0.6">0.11</text>
<text x="250.80" y="188.84" font-size="8.5" text-anchor="middle" fill="#000" stroke="#000" stroke-width="0.6">0.13</text>
<text x="284.40" y="188.84" font-size="8.5" text-anchor="middle" fill="#000" stroke="#000" stroke-width="0.6">0.15</text>
<text x="125.80" y="203.67" font-size="8.5" text-anchor="middle" fill="#000" stroke="#000" stroke-width="0.6">AAR</text>
<text x="150.00" y="203.67" font-size="8.5" text-anchor="middle" fill="#000" stroke="#000" stroke-width="0.6">0.17</text>
<text x="183.60" y="203.67" font-size="8.5" text-anchor="middle" fill="#000" stroke="#000" stroke-width="0.6">0.21</text>
<text x="217.20" y="203.67" font-size="8.5" text-anchor="middle" fill="#000" stroke="#000" stroke-width="0.6">0.22</text>
<text x="250.80" y="203.67" font-size="8.5" text-anchor="middle" fill="#000" stroke="#000" stroke-width="0.6">0.21</text>
<text x="284.40" y="203.67" font-size="8.5" text-anchor="middle" fill="#000" stroke="#000" stroke-width="0.6">0.21</text>
<g clip-path="url(#clipb)">
<rect x="329.6" y="66.89999999999999" width="185.0" height="0.8" fill="#a5c4de"/>
<rect x="329.6" y="67.6" width="185.0" height="148.3" fill="#d5c1dd"/>
<polygon points="329.80,67.60 330.47,67.60 331.14,67.60 331.82,67.60 332.49,67.60 333.16,67.60 333.83,67.60 334.50,67.60 335.18,67.60 335.85,67.60 336.52,67.60 337.19,67.60 337.86,67.60 338.54,67.60 339.21,67.60 339.88,67.60 340.55,67.60 341.22,67.60 341.90,67.60 342.57,67.60 343.24,67.60 343.91,67.60 344.58,67.60 345.26,67.60 345.93,67.60 346.60,67.60 347.27,67.60 347.94,67.60 348.62,67.60 349.29,67.60 349.96,67.60 350.63,67.60 351.30,67.60 351.98,67.60 352.65,67.60 353.32,67.60 353.99,67.60 354.66,67.60 355.34,67.60 356.01,67.60 356.68,67.60 357.35,67.60 358.02,67.60 358.70,67.60 359.37,67.60 360.04,67.60 360.71,67.60 361.38,67.60 362.06,67.60 362.73,67.60 363.40,67.60 364.07,67.60 364.74,67.60 365.42,67.60 366.09,67.60 366.76,67.60 367.43,67.60 368.10,67.60 368.78,67.60 369.45,67.60 370.12,67.60 370.79,67.60 371.46,67.60 372.14,67.60 372.81,67.60 373.48,67.60 374.15,67.60 374.82,67.60 375.50,67.60 376.17,67.60 376.84,67.60 377.51,67.60 378.18,67.60 378.86,67.60 379.53,67.60 380.20,67.60 380.87,67.60 381.54,67.60 382.22,67.60 382.89,67.60 383.56,67.60 384.23,67.60 384.90,67.60 385.58,67.60 386.25,67.60 386.92,67.60 387.59,67.60 388.26,67.60 388.94,67.60 389.61,67.60 390.28,67.60 390.95,67.60 391.62,67.60 392.30,67.60 392.97,67.60 393.64,67.60 394.31,67.60 394.98,67.60 395.66,67.60 396.33,67.60 397.00,67.60 397.67,67.60 398.34,67.60 399.02,67.60 399.69,67.60 400.36,67.60 401.03,67.60 401.70,67.60 402.38,67.60 403.05,67.60 403.72,67.60 404.39,67.60 405.06,67.60 405.74,67.60 406.41,67.60 407.08,67.60 407.75,67.60 408.42,67.60 409.10,67.60 409.77,67.60 410.44,67.60 411.11,67.60 411.78,67.60 412.46,67.60 413.13,67.60 413.80,67.60 414.47,67.60 415.14,67.60 415.82,67.60 416.49,67.60 417.16,67.60 417.83,67.60 418.50,67.60 419.18,67.60 419.85,67.60 420.52,67.60 421.19,67.60 421.86,67.60 422.54,67.60 423.21,67.60 423.88,67.60 424.55,67.60 425.22,67.60 425.90,67.60 426.57,67.60 427.24,67.60 427.91,67.60 428.58,67.60 429.26,67.60 429.93,67.60 430.60,67.60 431.27,67.60 431.94,67.60 432.62,67.60 433.29,67.60 433.96,67.60 434.63,67.60 435.30,67.60 435.98,67.60 436.65,67.60 437.32,67.60 437.99,67.60 438.66,67.60 439.34,67.60 440.01,67.60 440.68,67.60 441.35,67.60 442.02,67.60 442.70,67.60 443.37,67.60 444.04,67.60 444.71,67.60 445.38,67.60 446.06,67.60 446.73,67.60 447.40,67.60 448.07,67.60 448.74,67.60 449.42,67.60 450.09,67.60 450.76,67.60 451.43,67.60 452.10,67.60 452.78,67.60 453.45,67.60 454.12,67.60 454.79,67.60 455.46,67.60 456.14,67.60 456.81,67.60 457.48,67.60 458.15,67.60 458.82,67.60 459.50,67.60 460.17,67.60 460.84,67.60 461.51,67.60 462.18,67.60 462.86,67.60 463.53,67.60 464.20,67.60 464.87,67.60 465.54,67.60 466.22,67.60 466.89,67.60 467.56,67.60 468.23,67.60 468.90,67.60 469.58,67.60 470.25,67.60 470.92,67.60 471.59,67.60 472.26,67.60 472.94,67.60 473.61,67.60 474.28,67.60 474.95,67.60 475.62,67.60 476.30,67.60 476.97,67.60 477.64,67.60 478.31,67.60 478.98,67.60 479.66,67.60 480.33,67.60 481.00,67.60 481.67,67.60 482.34,67.60 483.02,67.60 483.69,67.60 484.36,67.60 485.03,67.60 485.70,67.60 486.38,67.60 487.05,67.60 487.72,67.60 488.39,67.60 489.06,67.60 489.74,67.60 490.41,67.60 491.08,67.60 491.75,67.60 492.42,67.60 493.10,67.60 493.77,67.60 494.44,67.60 495.11,67.60 495.78,67.60 496.46,67.60 497.13,67.60 497.80,67.60 498.47,67.60 499.14,67.60 499.82,67.60 500.49,67.60 501.16,67.60 501.83,67.60 502.50,67.60 503.18,67.60 503.85,67.60 504.52,67.60 505.19,67.60 505.86,67.60 506.54,67.60 507.21,67.60 507.88,67.60 508.55,67.60 509.22,67.60 509.90,67.60 510.57,67.60 511.24,67.60 511.91,67.60 512.58,67.60 513.26,67.60 513.93,67.60 514.60,67.60 514.60,77.24 513.93,77.23 513.26,77.22 512.58,77.21 511.91,77.20 511.24,77.19 510.57,77.18 509.90,77.17 509.22,77.16 508.55,77.15 507.88,77.15 507.21,77.14 506.54,77.13 505.86,77.12 505.19,77.11 504.52,77.10 503.85,77.09 503.18,77.08 502.50,77.07 501.83,77.07 501.16,77.06 500.49,77.05 499.82,77.04 499.14,77.03 498.47,77.02 497.80,77.01 497.13,77.01 496.46,77.00 495.78,76.99 495.11,76.98 494.44,76.97 493.77,76.96 493.10,76.95 492.42,76.94 491.75,76.94 491.08,76.93 490.41,76.92 489.74,76.91 489.06,76.90 488.39,76.89 487.72,76.88 487.05,76.87 486.38,76.86 485.70,76.85 485.03,76.85 484.36,76.84 483.69,76.83 483.02,76.82 482.34,76.81 481.67,76.80 481.00,76.79 480.33,76.78 479.66,76.77 478.98,76.76 478.31,76.75 477.64,76.74 476.97,76.73 476.30,76.72 475.62,76.71 474.95,76.69 474.28,76.68 473.61,76.67 472.94,76.66 472.26,76.65 471.59,76.64 470.92,76.63 470.25,76.61 469.58,76.60 468.90,76.59 468.23,76.58 467.56,76.56 466.89,76.55 466.22,76.54 465.54,76.53 464.87,76.51 464.20,76.50 463.53,76.48 462.86,76.47 462.18,76.45 461.51,76.44 460.84,76.42 460.17,76.41 459.50,76.39 458.82,76.37 458.15,76.36 457.48,76.34 456.81,76.32 456.14,76.30 455.46,76.28 454.79,76.26 454.12,76.24 453.45,76.22 452.78,76.20 452.10,76.18 451.43,76.16 450.76,76.14 450.09,76.12 449.42,76.10 448.74,76.08 448.07,76.06 447.40,76.03 446.73,76.01 446.06,75.99 445.38,75.97 444.71,75.94 444.04,75.92 443.37,75.90 442.70,75.88 442.02,75.85 441.35,75.83 440.68,75.81 440.01,75.78 439.34,75.76 438.66,75.74 437.99,75.71 437.32,75.69 436.65,75.67 435.98,75.64 435.30,75.62 434.63,75.60 433.96,75.57 433.29,75.55 432.62,75.53 431.94,75.51 431.27,75.48 430.60,75.46 429.93,75.44 429.26,75.42 428.58,75.39 427.91,75.37 427.24,75.35 426.57,75.33 425.90,75.31 425.22,75.29 424.55,75.27 423.88,75.25 423.21,75.22 422.54,75.20 421.86,75.18 421.19,75.16 420.52,75.14 419.85,75.12 419.18,75.10 418.50,75.08 417.83,75.06 417.16,75.04 416.49,75.02 415.82,75.00 415.14,74.98 414.47,74.96 413.80,74.94 413.13,74.92 412.46,74.89 411.78,74.87 411.11,74.85 410.44,74.83 409.77,74.81 409.10,74.78 408.42,74.76 407.75,74.74 407.08,74.71 406.41,74.69 405.74,74.67 405.06,74.64 404.39,74.62 403.72,74.59 403.05,74.57 402.38,74.54 401.70,74.51 401.03,74.49 400.36,74.46 399.69,74.43 399.02,74.40 398.34,74.37 397.67,74.34 397.00,74.31 396.33,74.28 395.66,74.25 394.98,74.22 394.31,74.19 393.64,74.15 392.97,74.12 392.30,74.09 391.62,74.05 390.95,74.01 390.28,73.98 389.61,73.94 388.94,73.90 388.26,73.85 387.59,73.81 386.92,73.76 386.25,73.71 385.58,73.66 384.90,73.61 384.23,73.55 383.56,73.50 382.89,73.44 382.22,73.38 381.54,73.31 380.87,73.25 380.20,73.19 379.53,73.12 378.86,73.05 378.18,72.98 377.51,72.91 376.84,72.84 376.17,72.77 375.50,72.70 374.82,72.62 374.15,72.55 373.48,72.47 372.81,72.40 372.14,72.32 371.46,72.24 370.79,72.17 370.12,72.09 369.45,72.01 368.78,71.93 368.10,71.85 367.43,71.78 366.76,71.70 366.09,71.62 365.42,71.54 364.74,71.46 364.07,71.38 363.40,71.31 362.73,71.23 362.06,71.15 361.38,71.06 360.71,70.98 360.04,70.89 359.37,70.80 358.70,70.70 358.02,70.61 357.35,70.51 356.68,70.42 356.01,70.32 355.34,70.22 354.66,70.13 353.99,70.03 353.32,69.94 352.65,69.84 351.98,69.75 351.30,69.66 350.63,69.57 349.96,69.48 349.29,69.40 348.62,69.31 347.94,69.23 347.27,69.16 346.60,69.08 345.93,69.01 345.26,68.94 344.58,68.86 343.91,68.78 343.24,68.70 342.57,68.62 341.90,68.54 341.22,68.46 340.55,68.38 339.88,68.30 339.21,68.23 338.54,68.15 337.86,68.08 337.19,68.02 336.52,67.95 335.85,67.89 335.18,67.83 334.50,67.78 333.83,67.74 333.16,67.70 332.49,67.66 331.82,67.64 331.14,67.62 330.47,67.60 329.80,67.60" fill="#a5c4de"/>
<polygon points="329.80,67.60 330.47,67.60 331.14,67.62 331.82,67.64 332.49,67.66 333.16,67.70 333.83,67.74 334.50,67.78 335.18,67.83 335.85,67.89 336.52,67.95 337.19,68.02 337.86,68.08 338.54,68.15 339.21,68.23 339.88,68.30 340.55,68.38 341.22,68.46 341.90,68.54 342.57,68.62 343.24,68.70 343.91,68.78 344.58,68.86 345.26,68.94 345.93,69.01 346.60,69.08 347.27,69.16 347.94,69.23 348.62,69.31 349.29,69.40 349.96,69.48 350.63,69.57 351.30,69.66 351.98,69.75 352.65,69.84 353.32,69.94 353.99,70.03 354.66,70.13 355.34,70.22 356.01,70.32 356.68,70.42 357.35,70.51 358.02,70.61 358.70,70.70 359.37,70.80 360.04,70.89 360.71,70.98 361.38,71.06 362.06,71.15 362.73,71.23 363.40,71.31 364.07,71.38 364.74,71.46 365.42,71.54 366.09,71.62 366.76,71.70 367.43,71.78 368.10,71.85 368.78,71.93 369.45,72.01 370.12,72.09 370.79,72.17 371.46,72.24 372.14,72.32 372.81,72.40 373.48,72.47 374.15,72.55 374.82,72.62 375.50,72.70 376.17,72.77 376.84,72.84 377.51,72.91 378.18,72.98 378.86,73.05 379.53,73.12 380.20,73.19 380.87,73.25 381.54,73.31 382.22,73.38 382.89,73.44 383.56,73.50 384.23,73.55 384.90,73.61 385.58,73.66 386.25,73.71 386.92,73.76 387.59,73.81 388.26,73.85 388.94,73.90 389.61,73.94 390.28,73.98 390.95,74.01 391.62,74.05 392.30,74.09 392.97,74.12 393.64,74.15 394.31,74.19 394.98,74.22 395.66,74.25 396.33,74.28 397.00,74.31 397.67,74.34 398.34,74.37 399.02,74.40 399.69,74.43 400.36,74.46 401.03,74.49 401.70,74.51 402.38,74.54 403.05,74.57 403.72,74.59 404.39,74.62 405.06,74.64 405.74,74.67 406.41,74.69 407.08,74.71 407.75,74.74 408.42,74.76 409.10,74.78 409.77,74.81 410.44,74.83 411.11,74.85 411.78,74.87 412.46,74.89 413.13,74.92 413.80,74.94 414.47,74.96 415.14,74.98 415.82,75.00 416.49,75.02 417.16,75.04 417.83,75.06 418.50,75.08 419.18,75.10 419.85,75.12 420.52,75.14 421.19,75.16 421.86,75.18 422.54,75.20 423.21,75.22 423.88,75.25 424.55,75.27 425.22,75.29 425.90,75.31 426.57,75.33 427.24,75.35 427.91,75.37 428.58,75.39 429.26,75.42 429.93,75.44 430.60,75.46 431.27,75.48 431.94,75.51 432.62,75.53 433.29,75.55 433.96,75.57 434.63,75.60 435.30,75.62 435.98,75.64 436.65,75.67 437.32,75.69 437.99,75.71 438.66,75.74 439.34,75.76 440.01,75.78 440.68,75.81 441.35,75.83 442.02,75.85 442.70,75.88 443.37,75.90 444.04,75.92 444.71,75.94 445.38,75.97 446.06,75.99 446.73,76.01 447.40,76.03 448.07,76.06 448.74,76.08 449.42,76.10 450.09,76.12 450.76,76.14 451.43,76.16 452.10,76.18 452.78,76.20 453.45,76.22 454.12,76.24 454.79,76.26 455.46,76.28 456.14,76.30 456.81,76.32 457.48,76.34 458.15,76.36 458.82,76.37 459.50,76.39 460.17,76.41 460.84,76.42 461.51,76.44 462.18,76.45 462.86,76.47 463.53,76.48 464.20,76.50 464.87,76.51 465.54,76.53 466.22,76.54 466.89,76.55 467.56,76.56 468.23,76.58 468.90,76.59 469.58,76.60 470.25,76.61 470.92,76.63 471.59,76.64 472.26,76.65 472.94,76.66 473.61,76.67 474.28,76.68 474.95,76.69 475.62,76.71 476.30,76.72 476.97,76.73 477.64,76.74 478.31,76.75 478.98,76.76 479.66,76.77 480.33,76.78 481.00,76.79 481.67,76.80 482.34,76.81 483.02,76.82 483.69,76.83 484.36,76.84 485.03,76.85 485.70,76.85 486.38,76.86 487.05,76.87 487.72,76.88 488.39,76.89 489.06,76.90 489.74,76.91 490.41,76.92 491.08,76.93 491.75,76.94 492.42,76.94 493.10,76.95 493.77,76.96 494.44,76.97 495.11,76.98 495.78,76.99 496.46,77.00 497.13,77.01 497.80,77.01 498.47,77.02 499.14,77.03 499.82,77.04 500.49,77.05 501.16,77.06 501.83,77.07 502.50,77.07 503.18,77.08 503.85,77.09 504.52,77.10 505.19,77.11 505.86,77.12 506.54,77.13 507.21,77.14 507.88,77.15 508.55,77.15 509.22,77.16 509.90,77.17 510.57,77.18 511.24,77.19 511.91,77.20 512.58,77.21 513.26,77.22 513.93,77.23 514.60,77.24 514.60,89.99 513.93,89.96 513.26,89.93 512.58,89.90 511.91,89.86 511.24,89.83 510.57,89.80 509.90,89.77 509.22,89.74 508.55,89.71 507.88,89.68 507.21,89.65 506.54,89.61 505.86,89.58 505.19,89.55 504.52,89.52 503.85,89.49 503.18,89.46 502.50,89.43 501.83,89.40 501.16,89.37 500.49,89.34 499.82,89.31 499.14,89.28 498.47,89.24 497.80,89.21 497.13,89.18 496.46,89.15 495.78,89.12 495.11,89.09 494.44,89.06 493.77,89.02 493.10,88.99 492.42,88.96 491.75,88.93 491.08,88.89 490.41,88.86 489.74,88.83 489.06,88.79 488.39,88.76 487.72,88.72 487.05,88.69 486.38,88.66 485.70,88.62 485.03,88.58 484.36,88.55 483.69,88.51 483.02,88.48 482.34,88.44 481.67,88.40 481.00,88.36 480.33,88.32 479.66,88.28 478.98,88.24 478.31,88.20 477.64,88.16 476.97,88.12 476.30,88.08 475.62,88.04 474.95,88.00 474.28,87.96 473.61,87.91 472.94,87.87 472.26,87.83 471.59,87.78 470.92,87.74 470.25,87.69 469.58,87.65 468.90,87.60 468.23,87.56 467.56,87.51 466.89,87.46 466.22,87.42 465.54,87.37 464.87,87.32 464.20,87.28 463.53,87.23 462.86,87.18 462.18,87.13 461.51,87.08 460.84,87.03 460.17,86.99 459.50,86.94 458.82,86.89 458.15,86.84 457.48,86.79 456.81,86.74 456.14,86.69 455.46,86.64 454.79,86.59 454.12,86.54 453.45,86.49 452.78,86.44 452.10,86.39 451.43,86.34 450.76,86.29 450.09,86.24 449.42,86.18 448.74,86.13 448.07,86.08 447.40,86.03 446.73,85.98 446.06,85.93 445.38,85.88 444.71,85.82 444.04,85.77 443.37,85.72 442.70,85.67 442.02,85.62 441.35,85.56 440.68,85.51 440.01,85.46 439.34,85.40 438.66,85.35 437.99,85.30 437.32,85.24 436.65,85.19 435.98,85.14 435.30,85.08 434.63,85.03 433.96,84.97 433.29,84.92 432.62,84.86 431.94,84.80 431.27,84.75 430.60,84.69 429.93,84.63 429.26,84.58 428.58,84.52 427.91,84.46 427.24,84.41 426.57,84.35 425.90,84.29 425.22,84.23 424.55,84.17 423.88,84.11 423.21,84.05 422.54,83.99 421.86,83.93 421.19,83.87 420.52,83.81 419.85,83.75 419.18,83.68 418.50,83.62 417.83,83.56 417.16,83.49 416.49,83.43 415.82,83.37 415.14,83.30 414.47,83.24 413.80,83.17 413.13,83.11 412.46,83.04 411.78,82.98 411.11,82.91 410.44,82.85 409.77,82.78 409.10,82.72 408.42,82.65 407.75,82.59 407.08,82.53 406.41,82.46 405.74,82.39 405.06,82.33 404.39,82.26 403.72,82.19 403.05,82.12 402.38,82.05 401.70,81.98 401.03,81.91 400.36,81.84 399.69,81.76 399.02,81.68 398.34,81.60 397.67,81.52 397.00,81.44 396.33,81.36 395.66,81.27 394.98,81.19 394.31,81.10 393.64,81.00 392.97,80.91 392.30,80.81 391.62,80.71 390.95,80.61 390.28,80.50 389.61,80.39 388.94,80.26 388.26,80.13 387.59,79.98 386.92,79.83 386.25,79.67 385.58,79.50 384.90,79.33 384.23,79.16 383.56,78.99 382.89,78.81 382.22,78.64 381.54,78.47 380.87,78.30 380.20,78.14 379.53,77.98 378.86,77.83 378.18,77.69 377.51,77.55 376.84,77.41 376.17,77.27 375.50,77.14 374.82,77.00 374.15,76.87 373.48,76.74 372.81,76.61 372.14,76.48 371.46,76.35 370.79,76.22 370.12,76.09 369.45,75.96 368.78,75.83 368.10,75.70 367.43,75.57 366.76,75.43 366.09,75.30 365.42,75.16 364.74,75.03 364.07,74.89 363.40,74.76 362.73,74.62 362.06,74.49 361.38,74.35 360.71,74.22 360.04,74.08 359.37,73.95 358.70,73.81 358.02,73.67 357.35,73.53 356.68,73.39 356.01,73.25 355.34,73.10 354.66,72.96 353.99,72.81 353.32,72.66 352.65,72.50 351.98,72.35 351.30,72.18 350.63,72.01 349.96,71.83 349.29,71.64 348.62,71.44 347.94,71.25 347.27,71.04 346.60,70.84 345.93,70.64 345.26,70.44 344.58,70.25 343.91,70.06 343.24,69.87 342.57,69.69 341.90,69.52 341.22,69.36 340.55,69.22 339.88,69.08 339.21,68.95 338.54,68.82 337.86,68.69 337.19,68.55 336.52,68.42 335.85,68.29 335.18,68.16 334.50,68.05 333.83,67.94 333.16,67.84 332.49,67.76 331.82,67.69 331.14,67.64 330.47,67.61 329.80,67.60" fill="#c2dfc0"/>
<polygon points="329.80,67.60 330.47,67.61 331.14,67.64 331.82,67.69 332.49,67.76 333.16,67.84 333.83,67.94 334.50,68.05 335.18,68.16 335.85,68.29 336.52,68.42 337.19,68.55 337.86,68.69 338.54,68.82 339.21,68.95 339.88,69.08 340.55,69.22 341.22,69.36 341.90,69.52 342.57,69.69 343.24,69.87 343.91,70.06 344.58,70.25 345.26,70.44 345.93,70.64 346.60,70.84 347.27,71.04 347.94,71.25 348.62,71.44 349.29,71.64 349.96,71.83 350.63,72.01 351.30,72.18 351.98,72.35 352.65,72.50 353.32,72.66 353.99,72.81 354.66,72.96 355.34,73.10 356.01,73.25 356.68,73.39 357.35,73.53 358.02,73.67 358.70,73.81 359.37,73.95 360.04,74.08 360.71,74.22 361.38,74.35 362.06,74.49 362.73,74.62 363.40,74.76 364.07,74.89 364.74,75.03 365.42,75.16 366.09,75.30 366.76,75.43 367.43,75.57 368.10,75.70 368.78,75.83 369.45,75.96 370.12,76.09 370.79,76.22 371.46,76.35 372.14,76.48 372.81,76.61 373.48,76.74 374.15,76.87 374.82,77.00 375.50,77.14 376.17,77.27 376.84,77.41 377.51,77.55 378.18,77.69 378.86,77.83 379.53,77.98 380.20,78.14 380.87,78.30 381.54,78.47 382.22,78.64 382.89,78.81 383.56,78.99 384.23,79.16 384.90,79.33 385.58,79.50 386.25,79.67 386.92,79.83 387.59,79.98 388.26,80.13 388.94,80.26 389.61,80.39 390.28,80.50 390.95,80.61 391.62,80.71 392.30,80.81 392.97,80.91 393.64,81.00 394.31,81.10 394.98,81.19 395.66,81.27 396.33,81.36 397.00,81.44 397.67,81.52 398.34,81.60 399.02,81.68 399.69,81.76 400.36,81.84 401.03,81.91 401.70,81.98 402.38,82.05 403.05,82.12 403.72,82.19 404.39,82.26 405.06,82.33 405.74,82.39 406.41,82.46 407.08,82.53 407.75,82.59 408.42,82.65 409.10,82.72 409.77,82.78 410.44,82.85 411.11,82.91 411.78,82.98 412.46,83.04 413.13,83.11 413.80,83.17 414.47,83.24 415.14,83.30 415.82,83.37 416.49,83.43 417.16,83.49 417.83,83.56 418.50,83.62 419.18,83.68 419.85,83.75 420.52,83.81 421.19,83.87 421.86,83.93 422.54,83.99 423.21,84.05 423.88,84.11 424.55,84.17 425.22,84.23 425.90,84.29 426.57,84.35 427.24,84.41 427.91,84.46 428.58,84.52 429.26,84.58 429.93,84.63 430.60,84.69 431.27,84.75 431.94,84.80 432.62,84.86 433.29,84.92 433.96,84.97 434.63,85.03 435.30,85.08 435.98,85.14 436.65,85.19 437.32,85.24 437.99,85.30 438.66,85.35 439.34,85.40 440.01,85.46 440.68,85.51 441.35,85.56 442.02,85.62 442.70,85.67 443.37,85.72 444.04,85.77 444.71,85.82 445.38,85.88 446.06,85.93 446.73,85.98 447.40,86.03 448.07,86.08 448.74,86.13 449.42,86.18 450.09,86.24 450.76,86.29 451.43,86.34 452.10,86.39 452.78,86.44 453.45,86.49 454.12,86.54 454.79,86.59 455.46,86.64 456.14,86.69 456.81,86.74 457.48,86.79 458.15,86.84 458.82,86.89 459.50,86.94 460.17,86.99 460.84,87.03 461.51,87.08 462.18,87.13 462.86,87.18 463.53,87.23 464.20,87.28 464.87,87.32 465.54,87.37 466.22,87.42 466.89,87.46 467.56,87.51 468.23,87.56 468.90,87.60 469.58,87.65 470.25,87.69 470.92,87.74 471.59,87.78 472.26,87.83 472.94,87.87 473.61,87.91 474.28,87.96 474.95,88.00 475.62,88.04 476.30,88.08 476.97,88.12 477.64,88.16 478.31,88.20 478.98,88.24 479.66,88.28 480.33,88.32 481.00,88.36 481.67,88.40 482.34,88.44 483.02,88.48 483.69,88.51 484.36,88.55 485.03,88.58 485.70,88.62 486.38,88.66 487.05,88.69 487.72,88.72 488.39,88.76 489.06,88.79 489.74,88.83 490.41,88.86 491.08,88.89 491.75,88.93 492.42,88.96 493.10,88.99 493.77,89.02 494.44,89.06 495.11,89.09 495.78,89.12 496.46,89.15 497.13,89.18 497.80,89.21 498.47,89.24 499.14,89.28 499.82,89.31 500.49,89.34 501.16,89.37 501.83,89.40 502.50,89.43 503.18,89.46 503.85,89.49 504.52,89.52 505.19,89.55 505.86,89.58 506.54,89.61 507.21,89.65 507.88,89.68 508.55,89.71 509.22,89.74 509.90,89.77 510.57,89.80 511.24,89.83 511.91,89.86 512.58,89.90 513.26,89.93 513.93,89.96 514.60,89.99 514.60,100.67 513.93,100.62 513.26,100.56 512.58,100.51 511.91,100.46 511.24,100.40 510.57,100.35 509.90,100.29 509.22,100.24 508.55,100.18 507.88,100.13 507.21,100.07 506.54,100.02 505.86,99.96 505.19,99.91 504.52,99.85 503.85,99.80 503.18,99.74 502.50,99.69 501.83,99.63 501.16,99.58 500.49,99.52 499.82,99.47 499.14,99.41 498.47,99.36 497.80,99.30 497.13,99.25 496.46,99.19 495.78,99.14 495.11,99.09 494.44,99.03 493.77,98.98 493.10,98.92 492.42,98.87 491.75,98.82 491.08,98.76 490.41,98.71 489.74,98.66 489.06,98.61 488.39,98.55 487.72,98.50 487.05,98.45 486.38,98.40 485.70,98.35 485.03,98.30 484.36,98.25 483.69,98.20 483.02,98.15 482.34,98.10 481.67,98.05 481.00,98.00 480.33,97.95 479.66,97.91 478.98,97.86 478.31,97.81 477.64,97.77 476.97,97.72 476.30,97.68 475.62,97.63 474.95,97.59 474.28,97.55 473.61,97.50 472.94,97.46 472.26,97.41 471.59,97.37 470.92,97.33 470.25,97.28 469.58,97.24 468.90,97.19 468.23,97.15 467.56,97.11 466.89,97.06 466.22,97.02 465.54,96.98 464.87,96.93 464.20,96.89 463.53,96.85 462.86,96.81 462.18,96.76 461.51,96.72 460.84,96.68 460.17,96.64 459.50,96.59 458.82,96.55 458.15,96.51 457.48,96.47 456.81,96.42 456.14,96.38 455.46,96.34 454.79,96.29 454.12,96.25 453.45,96.20 452.78,96.16 452.10,96.11 451.43,96.07 450.76,96.02 450.09,95.97 449.42,95.92 448.74,95.88 448.07,95.83 447.40,95.78 446.73,95.73 446.06,95.68 445.38,95.62 444.71,95.57 444.04,95.52 443.37,95.46 442.70,95.41 442.02,95.35 441.35,95.30 440.68,95.24 440.01,95.18 439.34,95.12 438.66,95.07 437.99,95.01 437.32,94.95 436.65,94.89 435.98,94.83 435.30,94.77 434.63,94.71 433.96,94.65 433.29,94.59 432.62,94.53 431.94,94.47 431.27,94.41 430.60,94.35 429.93,94.29 429.26,94.23 428.58,94.17 427.91,94.11 427.24,94.05 426.57,93.99 425.90,93.93 425.22,93.87 424.55,93.80 423.88,93.74 423.21,93.68 422.54,93.62 421.86,93.55 421.19,93.49 420.52,93.43 419.85,93.36 419.18,93.30 418.50,93.24 417.83,93.18 417.16,93.12 416.49,93.05 415.82,92.99 415.14,92.93 414.47,92.87 413.80,92.81 413.13,92.75 412.46,92.69 411.78,92.64 411.11,92.58 410.44,92.53 409.77,92.48 409.10,92.42 408.42,92.37 407.75,92.32 407.08,92.27 406.41,92.21 405.74,92.16 405.06,92.10 404.39,92.05 403.72,91.99 403.05,91.93 402.38,91.86 401.70,91.80 401.03,91.73 400.36,91.66 399.69,91.59 399.02,91.51 398.34,91.43 397.67,91.35 397.00,91.26 396.33,91.18 395.66,91.09 394.98,90.99 394.31,90.90 393.64,90.80 392.97,90.70 392.30,90.60 391.62,90.49 390.95,90.39 390.28,90.28 389.61,90.17 388.94,90.06 388.26,89.94 387.59,89.83 386.92,89.71 386.25,89.59 385.58,89.47 384.90,89.35 384.23,89.23 383.56,89.10 382.89,88.98 382.22,88.85 381.54,88.72 380.87,88.58 380.20,88.44 379.53,88.30 378.86,88.16 378.18,88.01 377.51,87.86 376.84,87.71 376.17,87.55 375.50,87.39 374.82,87.23 374.15,87.06 373.48,86.89 372.81,86.72 372.14,86.54 371.46,86.36 370.79,86.18 370.12,85.99 369.45,85.80 368.78,85.60 368.10,85.39 367.43,85.18 366.76,84.96 366.09,84.73 365.42,84.50 364.74,84.26 364.07,84.02 363.40,83.77 362.73,83.51 362.06,83.25 361.38,82.98 360.71,82.71 360.04,82.43 359.37,82.14 358.70,81.84 358.02,81.53 357.35,81.21 356.68,80.87 356.01,80.53 355.34,80.19 354.66,79.83 353.99,79.47 353.32,79.10 352.65,78.74 351.98,78.36 351.30,77.99 350.63,77.61 349.96,77.24 349.29,76.85 348.62,76.45 347.94,76.02 347.27,75.58 346.60,75.13 345.93,74.68 345.26,74.22 344.58,73.76 343.91,73.31 343.24,72.86 342.57,72.43 341.90,72.01 341.22,71.61 340.55,71.23 339.88,70.88 339.21,70.56 338.54,70.27 337.86,69.99 337.19,69.71 336.52,69.43 335.85,69.15 335.18,68.88 334.50,68.62 333.83,68.38 333.16,68.16 332.49,67.97 331.82,67.82 331.14,67.70 330.47,67.63 329.80,67.60" fill="#fcd49e"/>
<line x1="363.4" y1="67.6" x2="363.4" y2="215.9" stroke="#fff" stroke-opacity="0.25" stroke-width="1.6" stroke-dasharray="2,1.5"/>
<line x1="397.0" y1="67.6" x2="397.0" y2="215.9" stroke="#fff" stroke-opacity="0.25" stroke-width="1.6" stroke-dasharray="2,1.5"/>
<line x1="430.6" y1="67.6" x2="430.6" y2="215.9" stroke="#fff" stroke-opacity="0.25" stroke-width="1.6" stroke-dasharray="2,1.5"/>
<line x1="464.2" y1="67.6" x2="464.2" y2="215.9" stroke="#fff" stroke-opacity="0.25" stroke-width="1.6" stroke-dasharray="2,1.5"/>
<line x1="497.8" y1="67.6" x2="497.8" y2="215.9" stroke="#fff" stroke-opacity="0.25" stroke-width="1.6" stroke-dasharray="2,1.5"/>
<line x1="329.6" y1="186.2" x2="514.6" y2="186.2" stroke="#fff" stroke-opacity="0.25" stroke-width="1.6" stroke-dasharray="2,1.5"/>
<line x1="329.6" y1="156.6" x2="514.6" y2="156.6" stroke="#fff" stroke-opacity="0.25" stroke-width="1.6" stroke-dasharray="2,1.5"/>
<line x1="329.6" y1="126.9" x2="514.6" y2="126.9" stroke="#fff" stroke-opacity="0.25" stroke-width="1.6" stroke-dasharray="2,1.5"/>
<line x1="329.6" y1="97.3" x2="514.6" y2="97.3" stroke="#fff" stroke-opacity="0.25" stroke-width="1.6" stroke-dasharray="2,1.5"/>
<polyline points="329.80,67.60 330.47,67.60 331.14,67.62 331.82,67.63 332.49,67.66 333.16,67.69 333.83,67.73 334.50,67.77 335.18,67.82 335.85,67.88 336.52,67.93 337.19,68.00 337.86,68.06 338.54,68.13 339.21,68.20 339.88,68.28 340.55,68.36 341.22,68.44 341.90,68.52 342.57,68.60 343.24,68.68 343.91,68.76 344.58,68.84 345.26,68.92 345.93,69.00 346.60,69.08 347.27,69.16 347.94,69.25 348.62,69.34 349.29,69.44 349.96,69.54 350.63,69.65 351.30,69.76 351.98,69.87 352.65,69.99 353.32,70.11 353.99,70.23 354.66,70.35 355.34,70.48 356.01,70.60 356.68,70.73 357.35,70.86 358.02,70.99 358.70,71.12 359.37,71.25 360.04,71.38 360.71,71.51 361.38,71.63 362.06,71.76 362.73,71.88 363.40,72.00 364.07,72.12 364.74,72.23 365.42,72.35 366.09,72.46 366.76,72.57 367.43,72.67 368.10,72.78 368.78,72.89 369.45,73.00 370.12,73.11 370.79,73.22 371.46,73.33 372.14,73.43 372.81,73.54 373.48,73.64 374.15,73.75 374.82,73.85 375.50,73.95 376.17,74.05 376.84,74.14 377.51,74.24 378.18,74.33 378.86,74.42 379.53,74.51 380.20,74.60 380.87,74.69 381.54,74.78 382.22,74.86 382.89,74.95 383.56,75.03 384.23,75.12 384.90,75.20 385.58,75.28 386.25,75.35 386.92,75.43 387.59,75.50 388.26,75.57 388.94,75.63 389.61,75.70 390.28,75.76 390.95,75.81 391.62,75.87 392.30,75.92 392.97,75.98 393.64,76.03 394.31,76.08 394.98,76.13 395.66,76.18 396.33,76.23 397.00,76.27 397.67,76.32 398.34,76.36 399.02,76.41 399.69,76.45 400.36,76.50 401.03,76.54 401.70,76.58 402.38,76.62 403.05,76.66 403.72,76.70 404.39,76.74 405.06,76.78 405.74,76.82 406.41,76.86 407.08,76.90 407.75,76.93 408.42,76.97 409.10,77.01 409.77,77.04 410.44,77.08 411.11,77.12 411.78,77.15 412.46,77.19 413.13,77.23 413.80,77.26 414.47,77.30 415.14,77.33 415.82,77.37 416.49,77.41 417.16,77.45 417.83,77.48 418.50,77.52 419.18,77.56 419.85,77.60 420.52,77.63 421.19,77.67 421.86,77.71 422.54,77.75 423.21,77.79 423.88,77.83 424.55,77.87 425.22,77.92 425.90,77.96 426.57,78.00 427.24,78.04 427.91,78.08 428.58,78.12 429.26,78.17 429.93,78.21 430.60,78.25 431.27,78.29 431.94,78.33 432.62,78.38 433.29,78.42 433.96,78.46 434.63,78.50 435.30,78.54 435.98,78.59 436.65,78.63 437.32,78.67 437.99,78.71 438.66,78.75 439.34,78.79 440.01,78.84 440.68,78.88 441.35,78.92 442.02,78.96 442.70,79.00 443.37,79.04 444.04,79.08 444.71,79.12 445.38,79.16 446.06,79.20 446.73,79.24 447.40,79.28 448.07,79.31 448.74,79.35 449.42,79.39 450.09,79.43 450.76,79.46 451.43,79.50 452.10,79.54 452.78,79.57 453.45,79.61 454.12,79.65 454.79,79.68 455.46,79.72 456.14,79.75 456.81,79.79 457.48,79.82 458.15,79.86 458.82,79.90 459.50,79.93 460.17,79.96 460.84,80.00 461.51,80.03 462.18,80.07 462.86,80.10 463.53,80.14 464.20,80.17 464.87,80.20 465.54,80.24 466.22,80.27 466.89,80.31 467.56,80.34 468.23,80.37 468.90,80.41 469.58,80.44 470.25,80.47 470.92,80.51 471.59,80.54 472.26,80.57 472.94,80.60 473.61,80.64 474.28,80.67 474.95,80.70 475.62,80.73 476.30,80.77 476.97,80.80 477.64,80.83 478.31,80.86 478.98,80.89 479.66,80.93 480.33,80.96 481.00,80.99 481.67,81.02 482.34,81.05 483.02,81.09 483.69,81.12 484.36,81.15 485.03,81.18 485.70,81.21 486.38,81.24 487.05,81.28 487.72,81.31 488.39,81.34 489.06,81.37 489.74,81.40 490.41,81.43 491.08,81.46 491.75,81.50 492.42,81.53 493.10,81.56 493.77,81.59 494.44,81.62 495.11,81.65 495.78,81.68 496.46,81.72 497.13,81.75 497.80,81.78 498.47,81.81 499.14,81.84 499.82,81.87 500.49,81.90 501.16,81.94 501.83,81.97 502.50,82.00 503.18,82.03 503.85,82.06 504.52,82.09 505.19,82.13 505.86,82.16 506.54,82.19 507.21,82.22 507.88,82.25 508.55,82.29 509.22,82.32 509.90,82.35 510.57,82.38 511.24,82.42 511.91,82.45 512.58,82.48 513.26,82.51 513.93,82.55 514.60,82.58" fill="none" stroke="#000" stroke-width="1.1" stroke-linejoin="round"/>
<polyline points="329.80,67.60 330.47,67.62 331.14,67.67 331.82,67.75 332.49,67.85 333.16,67.98 333.83,68.13 334.50,68.30 335.18,68.48 335.85,68.66 336.52,68.86 337.19,69.06 337.86,69.26 338.54,69.45 339.21,69.64 339.88,69.82 340.55,70.00 341.22,70.19 341.90,70.38 342.57,70.58 343.24,70.78 343.91,70.98 344.58,71.20 345.26,71.41 345.93,71.63 346.60,71.85 347.27,72.08 347.94,72.30 348.62,72.53 349.29,72.76 349.96,72.99 350.63,73.22 351.30,73.45 351.98,73.68 352.65,73.91 353.32,74.14 353.99,74.38 354.66,74.61 355.34,74.85 356.01,75.09 356.68,75.33 357.35,75.58 358.02,75.82 358.70,76.07 359.37,76.32 360.04,76.56 360.71,76.81 361.38,77.06 362.06,77.31 362.73,77.57 363.40,77.82 364.07,78.07 364.74,78.32 365.42,78.57 366.09,78.83 366.76,79.09 367.43,79.36 368.10,79.63 368.78,79.90 369.45,80.17 370.12,80.45 370.79,80.73 371.46,81.00 372.14,81.28 372.81,81.55 373.48,81.82 374.15,82.09 374.82,82.35 375.50,82.60 376.17,82.85 376.84,83.09 377.51,83.33 378.18,83.55 378.86,83.76 379.53,83.97 380.20,84.18 380.87,84.38 381.54,84.58 382.22,84.77 382.89,84.96 383.56,85.15 384.23,85.34 384.90,85.52 385.58,85.70 386.25,85.88 386.92,86.05 387.59,86.23 388.26,86.39 388.94,86.56 389.61,86.72 390.28,86.88 390.95,87.04 391.62,87.19 392.30,87.34 392.97,87.49 393.64,87.64 394.31,87.78 394.98,87.92 395.66,88.05 396.33,88.19 397.00,88.33 397.67,88.46 398.34,88.59 399.02,88.72 399.69,88.85 400.36,88.98 401.03,89.11 401.70,89.24 402.38,89.36 403.05,89.49 403.72,89.61 404.39,89.73 405.06,89.86 405.74,89.98 406.41,90.09 407.08,90.21 407.75,90.33 408.42,90.44 409.10,90.55 409.77,90.67 410.44,90.78 411.11,90.88 411.78,90.99 412.46,91.10 413.13,91.20 413.80,91.31 414.47,91.41 415.14,91.51 415.82,91.61 416.49,91.70 417.16,91.80 417.83,91.89 418.50,91.98 419.18,92.07 419.85,92.16 420.52,92.25 421.19,92.34 421.86,92.42 422.54,92.50 423.21,92.58 423.88,92.66 424.55,92.74 425.22,92.82 425.90,92.89 426.57,92.97 427.24,93.04 427.91,93.11 428.58,93.18 429.26,93.25 429.93,93.32 430.60,93.39 431.27,93.45 431.94,93.52 432.62,93.59 433.29,93.65 433.96,93.71 434.63,93.78 435.30,93.84 435.98,93.90 436.65,93.96 437.32,94.02 437.99,94.08 438.66,94.14 439.34,94.20 440.01,94.25 440.68,94.31 441.35,94.37 442.02,94.42 442.70,94.48 443.37,94.53 444.04,94.59 444.71,94.64 445.38,94.70 446.06,94.75 446.73,94.81 447.40,94.86 448.07,94.91 448.74,94.97 449.42,95.02 450.09,95.07 450.76,95.12 451.43,95.18 452.10,95.23 452.78,95.28 453.45,95.34 454.12,95.39 454.79,95.44 455.46,95.49 456.14,95.55 456.81,95.60 457.48,95.65 458.15,95.71 458.82,95.76 459.50,95.82 460.17,95.87 460.84,95.93 461.51,95.98 462.18,96.03 462.86,96.09 463.53,96.14 464.20,96.20 464.87,96.25 465.54,96.30 466.22,96.35 466.89,96.40 467.56,96.46 468.23,96.51 468.90,96.56 469.58,96.61 470.25,96.66 470.92,96.71 471.59,96.76 472.26,96.81 472.94,96.86 473.61,96.91 474.28,96.96 474.95,97.01 475.62,97.06 476.30,97.11 476.97,97.16 477.64,97.21 478.31,97.26 478.98,97.32 479.66,97.37 480.33,97.42 481.00,97.47 481.67,97.52 482.34,97.57 483.02,97.62 483.69,97.68 484.36,97.73 485.03,97.78 485.70,97.84 486.38,97.89 487.05,97.95 487.72,98.00 488.39,98.06 489.06,98.11 489.74,98.17 490.41,98.23 491.08,98.28 491.75,98.34 492.42,98.40 493.10,98.46 493.77,98.51 494.44,98.57 495.11,98.63 495.78,98.69 496.46,98.75 497.13,98.81 497.80,98.87 498.47,98.93 499.14,98.99 499.82,99.05 500.49,99.11 501.16,99.17 501.83,99.23 502.50,99.29 503.18,99.35 503.85,99.41 504.52,99.47 505.19,99.53 505.86,99.59 506.54,99.65 507.21,99.71 507.88,99.77 508.55,99.83 509.22,99.89 509.90,99.96 510.57,100.02 511.24,100.08 511.91,100.14 512.58,100.20 513.26,100.26 513.93,100.31 514.60,100.37" fill="none" stroke="#000" stroke-width="1.1" stroke-linejoin="round"/>
<polyline points="329.80,67.60 330.47,67.61 331.14,67.64 331.82,67.69 332.49,67.76 333.16,67.84 333.83,67.94 334.50,68.05 335.18,68.16 335.85,68.29 336.52,68.42 337.19,68.55 337.86,68.69 338.54,68.82 339.21,68.95 339.88,69.08 340.55,69.22 341.22,69.36 341.90,69.52 342.57,69.69 343.24,69.87 343.91,70.06 344.58,70.25 345.26,70.44 345.93,70.64 346.60,70.84 347.27,71.04 347.94,71.25 348.62,71.44 349.29,71.64 349.96,71.83 350.63,72.01 351.30,72.18 351.98,72.35 352.65,72.50 353.32,72.66 353.99,72.81 354.66,72.96 355.34,73.10 356.01,73.25 356.68,73.39 357.35,73.53 358.02,73.67 358.70,73.81 359.37,73.95 360.04,74.08 360.71,74.22 361.38,74.35 362.06,74.49 362.73,74.62 363.40,74.76 364.07,74.89 364.74,75.03 365.42,75.16 366.09,75.30 366.76,75.43 367.43,75.57 368.10,75.70 368.78,75.83 369.45,75.96 370.12,76.09 370.79,76.22 371.46,76.35 372.14,76.48 372.81,76.61 373.48,76.74 374.15,76.87 374.82,77.00 375.50,77.14 376.17,77.27 376.84,77.41 377.51,77.55 378.18,77.69 378.86,77.83 379.53,77.98 380.20,78.14 380.87,78.30 381.54,78.47 382.22,78.64 382.89,78.81 383.56,78.99 384.23,79.16 384.90,79.33 385.58,79.50 386.25,79.67 386.92,79.83 387.59,79.98 388.26,80.13 388.94,80.26 389.61,80.39 390.28,80.50 390.95,80.61 391.62,80.71 392.30,80.81 392.97,80.91 393.64,81.00 394.31,81.10 394.98,81.19 395.66,81.27 396.33,81.36 397.00,81.44 397.67,81.52 398.34,81.60 399.02,81.68 399.69,81.76 400.36,81.84 401.03,81.91 401.70,81.98 402.38,82.05 403.05,82.12 403.72,82.19 404.39,82.26 405.06,82.33 405.74,82.39 406.41,82.46 407.08,82.53 407.75,82.59 408.42,82.65 409.10,82.72 409.77,82.78 410.44,82.85 411.11,82.91 411.78,82.98 412.46,83.04 413.13,83.11 413.80,83.17 414.47,83.24 415.14,83.30 415.82,83.37 416.49,83.43 417.16,83.49 417.83,83.56 418.50,83.62 419.18,83.68 419.85,83.75 420.52,83.81 421.19,83.87 421.86,83.93 422.54,83.99 423.21,84.05 423.88,84.11 424.55,84.17 425.22,84.23 425.90,84.29 426.57,84.35 427.24,84.41 427.91,84.46 428.58,84.52 429.26,84.58 429.93,84.63 430.60,84.69 431.27,84.75 431.94,84.80 432.62,84.86 433.29,84.92 433.96,84.97 434.63,85.03 435.30,85.08 435.98,85.14 436.65,85.19 437.32,85.24 437.99,85.30 438.66,85.35 439.34,85.40 440.01,85.46 440.68,85.51 441.35,85.56 442.02,85.62 442.70,85.67 443.37,85.72 444.04,85.77 444.71,85.82 445.38,85.88 446.06,85.93 446.73,85.98 447.40,86.03 448.07,86.08 448.74,86.13 449.42,86.18 450.09,86.24 450.76,86.29 451.43,86.34 452.10,86.39 452.78,86.44 453.45,86.49 454.12,86.54 454.79,86.59 455.46,86.64 456.14,86.69 456.81,86.74 457.48,86.79 458.15,86.84 458.82,86.89 459.50,86.94 460.17,86.99 460.84,87.03 461.51,87.08 462.18,87.13 462.86,87.18 463.53,87.23 464.20,87.28 464.87,87.32 465.54,87.37 466.22,87.42 466.89,87.46 467.56,87.51 468.23,87.56 468.90,87.60 469.58,87.65 470.25,87.69 470.92,87.74 471.59,87.78 472.26,87.83 472.94,87.87 473.61,87.91 474.28,87.96 474.95,88.00 475.62,88.04 476.30,88.08 476.97,88.12 477.64,88.16 478.31,88.20 478.98,88.24 479.66,88.28 480.33,88.32 481.00,88.36 481.67,88.40 482.34,88.44 483.02,88.48 483.69,88.51 484.36,88.55 485.03,88.58 485.70,88.62 486.38,88.66 487.05,88.69 487.72,88.72 488.39,88.76 489.06,88.79 489.74,88.83 490.41,88.86 491.08,88.89 491.75,88.93 492.42,88.96 493.10,88.99 493.77,89.02 494.44,89.06 495.11,89.09 495.78,89.12 496.46,89.15 497.13,89.18 497.80,89.21 498.47,89.24 499.14,89.28 499.82,89.31 500.49,89.34 501.16,89.37 501.83,89.40 502.50,89.43 503.18,89.46 503.85,89.49 504.52,89.52 505.19,89.55 505.86,89.58 506.54,89.61 507.21,89.65 507.88,89.68 508.55,89.71 509.22,89.74 509.90,89.77 510.57,89.80 511.24,89.83 511.91,89.86 512.58,89.90 513.26,89.93 513.93,89.96 514.60,89.99" fill="none" stroke="#000" stroke-width="2.2" stroke-linejoin="round"/>
</g>
<rect x="329.80" y="209.90" width="117.94" height="3.9" fill="#8b55a8"/>
<line x1="330.10" y1="67.6" x2="330.10" y2="215.9" stroke="#a494ac" stroke-width="1.5"/>
<line x1="326.30" y1="215.90" x2="329.30" y2="215.90" stroke="#666" stroke-width="0.9"/>
<text x="326.00" y="212.50" font-size="8.5" text-anchor="middle" fill="#000" stroke="#000" stroke-width="0.6" transform="rotate(-90 326.00 212.50)">0.0</text>
<line x1="326.30" y1="186.24" x2="329.30" y2="186.24" stroke="#666" stroke-width="0.9"/>
<text x="326.00" y="182.84" font-size="8.5" text-anchor="middle" fill="#000" stroke="#000" stroke-width="0.6" transform="rotate(-90 326.00 182.84)">0.2</text>
<line x1="326.30" y1="156.58" x2="329.30" y2="156.58" stroke="#666" stroke-width="0.9"/>
<text x="326.00" y="153.18" font-size="8.5" text-anchor="middle" fill="#000" stroke="#000" stroke-width="0.6" transform="rotate(-90 326.00 153.18)">0.4</text>
<line x1="326.30" y1="126.92" x2="329.30" y2="126.92" stroke="#666" stroke-width="0.9"/>
<text x="326.00" y="123.52" font-size="8.5" text-anchor="middle" fill="#000" stroke="#000" stroke-width="0.6" transform="rotate(-90 326.00 123.52)">0.6</text>
<line x1="326.30" y1="97.26" x2="329.30" y2="97.26" stroke="#666" stroke-width="0.9"/>
<text x="326.00" y="93.86" font-size="8.5" text-anchor="middle" fill="#000" stroke="#000" stroke-width="0.6" transform="rotate(-90 326.00 93.86)">0.8</text>
<line x1="326.30" y1="67.60" x2="329.30" y2="67.60" stroke="#666" stroke-width="0.9"/>
<text x="326.00" y="64.20" font-size="8.5" text-anchor="middle" fill="#000" stroke="#000" stroke-width="0.6" transform="rotate(-90 326.00 64.20)">1.0</text>
<line x1="329.80" y1="216.60" x2="497.80" y2="216.60" stroke="#000" stroke-width="0.9"/>
<line x1="329.80" y1="216.60" x2="329.80" y2="219.60" stroke="#000" stroke-width="0.9"/>
<text x="329.80" y="228.40" font-size="8.5" text-anchor="middle" fill="#000" stroke="#000" stroke-width="0.6">0</text>
<line x1="363.40" y1="216.60" x2="363.40" y2="219.60" stroke="#000" stroke-width="0.9"/>
<text x="363.40" y="228.40" font-size="8.5" text-anchor="middle" fill="#000" stroke="#000" stroke-width="0.6">1</text>
<line x1="397.00" y1="216.60" x2="397.00" y2="219.60" stroke="#000" stroke-width="0.9"/>
<text x="397.00" y="228.40" font-size="8.5" text-anchor="middle" fill="#000" stroke="#000" stroke-width="0.6">2</text>
<line x1="430.60" y1="216.60" x2="430.60" y2="219.60" stroke="#000" stroke-width="0.9"/>
<text x="430.60" y="228.40" font-size="8.5" text-anchor="middle" fill="#000" stroke="#000" stroke-width="0.6">3</text>
<line x1="464.20" y1="216.60" x2="464.20" y2="219.60" stroke="#000" stroke-width="0.9"/>
<text x="464.20" y="228.40" font-size="8.5" text-anchor="middle" fill="#000" stroke="#000" stroke-width="0.6">4</text>
<line x1="497.80" y1="216.60" x2="497.80" y2="219.60" stroke="#000" stroke-width="0.9"/>
<text x="497.80" y="228.40" font-size="8.5" text-anchor="middle" fill="#000" stroke="#000" stroke-width="0.6">5</text>
<text x="430.00" y="234.70" font-size="8.5" text-anchor="middle" textLength="56" lengthAdjust="spacingAndGlyphs" fill="#000" stroke="#000" stroke-width="0.6">Years from CR</text>
<text x="315.80" y="132.30" font-size="8.5" text-anchor="middle" fill="#000" stroke="#000" stroke-width="0.6" transform="rotate(-90 315.80 132.30)">Probability</text>
<text x="342.90" y="173.91" font-size="8.5" text-anchor="middle" fill="#000" stroke="#000" stroke-width="0.6">NRD</text>
<text x="367.10" y="173.91" font-size="8.5" text-anchor="middle" fill="#000" stroke="#000" stroke-width="0.6">0.03</text>
<text x="400.70" y="173.91" font-size="8.5" text-anchor="middle" fill="#000" stroke="#000" stroke-width="0.6">0.05</text>
<text x="434.30" y="173.91" font-size="8.5" text-anchor="middle" fill="#000" stroke="#000" stroke-width="0.6">0.05</text>
<text x="467.90" y="173.91" font-size="8.5" text-anchor="middle" fill="#000" stroke="#000" stroke-width="0.6">0.05</text>
<text x="501.50" y="173.91" font-size="8.5" text-anchor="middle" fill="#000" stroke="#000" stroke-width="0.6">0.06</text>
<text x="342.90" y="188.74" font-size="8.5" text-anchor="middle" fill="#000" stroke="#000" stroke-width="0.6">PRD</text>
<text x="367.10" y="188.74" font-size="8.5" text-anchor="middle" fill="#000" stroke="#000" stroke-width="0.6">0.01</text>
<text x="400.70" y="188.74" font-size="8.5" text-anchor="middle" fill="#000" stroke="#000" stroke-width="0.6">0.05</text>
<text x="434.30" y="188.74" font-size="8.5" text-anchor="middle" fill="#000" stroke="#000" stroke-width="0.6">0.06</text>
<text x="467.90" y="188.74" font-size="8.5" text-anchor="middle" fill="#000" stroke="#000" stroke-width="0.6">0.08</text>
<text x="501.50" y="188.74" font-size="8.5" text-anchor="middle" fill="#000" stroke="#000" stroke-width="0.6">0.08</text>
<text x="342.90" y="203.57" font-size="8.5" text-anchor="middle" fill="#000" stroke="#000" stroke-width="0.6">AAR</text>
<text x="367.10" y="203.57" font-size="8.5" text-anchor="middle" fill="#000" stroke="#000" stroke-width="0.6">0.06</text>
<text x="400.70" y="203.57" font-size="8.5" text-anchor="middle" fill="#000" stroke="#000" stroke-width="0.6">0.07</text>
<text x="434.30" y="203.57" font-size="8.5" text-anchor="middle" fill="#000" stroke="#000" stroke-width="0.6">0.07</text>
<text x="467.90" y="203.57" font-size="8.5" text-anchor="middle" fill="#000" stroke="#000" stroke-width="0.6">0.07</text>
<text x="501.50" y="203.57" font-size="8.5" text-anchor="middle" fill="#000" stroke="#000" stroke-width="0.6">0.06</text>
<g clip-path="url(#clipc)">
<rect x="112.5" y="240.5" width="185.0" height="0.8" fill="#a5c4de"/>
<rect x="112.5" y="241.2" width="185.0" height="148.3" fill="#d5c1dd"/>
<polygon points="112.70,241.20 113.37,241.20 114.04,241.20 114.72,241.20 115.39,241.20 116.06,241.20 116.73,241.20 117.40,241.20 118.08,241.20 118.75,241.20 119.42,241.20 120.09,241.20 120.76,241.20 121.44,241.20 122.11,241.20 122.78,241.20 123.45,241.20 124.12,241.20 124.80,241.20 125.47,241.20 126.14,241.20 126.81,241.20 127.48,241.20 128.16,241.20 128.83,241.20 129.50,241.20 130.17,241.20 130.84,241.20 131.52,241.20 132.19,241.20 132.86,241.20 133.53,241.20 134.20,241.20 134.88,241.20 135.55,241.20 136.22,241.20 136.89,241.20 137.56,241.20 138.24,241.20 138.91,241.20 139.58,241.20 140.25,241.20 140.92,241.20 141.60,241.20 142.27,241.20 142.94,241.20 143.61,241.20 144.28,241.20 144.96,241.20 145.63,241.20 146.30,241.20 146.97,241.20 147.64,241.20 148.32,241.20 148.99,241.20 149.66,241.20 150.33,241.20 151.00,241.20 151.68,241.20 152.35,241.20 153.02,241.20 153.69,241.20 154.36,241.20 155.04,241.20 155.71,241.20 156.38,241.20 157.05,241.20 157.72,241.20 158.40,241.20 159.07,241.20 159.74,241.20 160.41,241.20 161.08,241.20 161.76,241.20 162.43,241.20 163.10,241.20 163.77,241.20 164.44,241.20 165.12,241.20 165.79,241.20 166.46,241.20 167.13,241.20 167.80,241.20 168.48,241.20 169.15,241.20 169.82,241.20 170.49,241.20 171.16,241.20 171.84,241.20 172.51,241.20 173.18,241.20 173.85,241.20 174.52,241.20 175.20,241.20 175.87,241.20 176.54,241.20 177.21,241.20 177.88,241.20 178.56,241.20 179.23,241.20 179.90,241.20 180.57,241.20 181.24,241.20 181.92,241.20 182.59,241.20 183.26,241.20 183.93,241.20 184.60,241.20 185.28,241.20 185.95,241.20 186.62,241.20 187.29,241.20 187.96,241.20 188.64,241.20 189.31,241.20 189.98,241.20 190.65,241.20 191.32,241.20 192.00,241.20 192.67,241.20 193.34,241.20 194.01,241.20 194.68,241.20 195.36,241.20 196.03,241.20 196.70,241.20 197.37,241.20 198.04,241.20 198.72,241.20 199.39,241.20 200.06,241.20 200.73,241.20 201.40,241.20 202.08,241.20 202.75,241.20 203.42,241.20 204.09,241.20 204.76,241.20 205.44,241.20 206.11,241.20 206.78,241.20 207.45,241.20 208.12,241.20 208.80,241.20 209.47,241.20 210.14,241.20 210.81,241.20 211.48,241.20 212.16,241.20 212.83,241.20 213.50,241.20 214.17,241.20 214.84,241.20 215.52,241.20 216.19,241.20 216.86,241.20 217.53,241.20 218.20,241.20 218.88,241.20 219.55,241.20 220.22,241.20 220.89,241.20 221.56,241.20 222.24,241.20 222.91,241.20 223.58,241.20 224.25,241.20 224.92,241.20 225.60,241.20 226.27,241.20 226.94,241.20 227.61,241.20 228.28,241.20 228.96,241.20 229.63,241.20 230.30,241.20 230.97,241.20 231.64,241.20 232.32,241.20 232.99,241.20 233.66,241.20 234.33,241.20 235.00,241.20 235.68,241.20 236.35,241.20 237.02,241.20 237.69,241.20 238.36,241.20 239.04,241.20 239.71,241.20 240.38,241.20 241.05,241.20 241.72,241.20 242.40,241.20 243.07,241.20 243.74,241.20 244.41,241.20 245.08,241.20 245.76,241.20 246.43,241.20 247.10,241.20 247.77,241.20 248.44,241.20 249.12,241.20 249.79,241.20 250.46,241.20 251.13,241.20 251.80,241.20 252.48,241.20 253.15,241.20 253.82,241.20 254.49,241.20 255.16,241.20 255.84,241.20 256.51,241.20 257.18,241.20 257.85,241.20 258.52,241.20 259.20,241.20 259.87,241.20 260.54,241.20 261.21,241.20 261.88,241.20 262.56,241.20 263.23,241.20 263.90,241.20 264.57,241.20 265.24,241.20 265.92,241.20 266.59,241.20 267.26,241.20 267.93,241.20 268.60,241.20 269.28,241.20 269.95,241.20 270.62,241.20 271.29,241.20 271.96,241.20 272.64,241.20 273.31,241.20 273.98,241.20 274.65,241.20 275.32,241.20 276.00,241.20 276.67,241.20 277.34,241.20 278.01,241.20 278.68,241.20 279.36,241.20 280.03,241.20 280.70,241.20 281.37,241.20 282.04,241.20 282.72,241.20 283.39,241.20 284.06,241.20 284.73,241.20 285.40,241.20 286.08,241.20 286.75,241.20 287.42,241.20 288.09,241.20 288.76,241.20 289.44,241.20 290.11,241.20 290.78,241.20 291.45,241.20 292.12,241.20 292.80,241.20 293.47,241.20 294.14,241.20 294.81,241.20 295.48,241.20 296.16,241.20 296.83,241.20 297.50,241.20 297.50,247.87 296.83,247.86 296.16,247.85 295.48,247.85 294.81,247.84 294.14,247.83 293.47,247.82 292.80,247.81 292.12,247.80 291.45,247.79 290.78,247.78 290.11,247.77 289.44,247.76 288.76,247.75 288.09,247.74 287.42,247.74 286.75,247.73 286.08,247.72 285.40,247.71 284.73,247.70 284.06,247.69 283.39,247.68 282.72,247.67 282.04,247.66 281.37,247.65 280.70,247.65 280.03,247.64 279.36,247.63 278.68,247.62 278.01,247.61 277.34,247.60 276.67,247.59 276.00,247.58 275.32,247.58 274.65,247.57 273.98,247.56 273.31,247.55 272.64,247.54 271.96,247.53 271.29,247.52 270.62,247.52 269.95,247.51 269.28,247.50 268.60,247.49 267.93,247.48 267.26,247.47 266.59,247.46 265.92,247.45 265.24,247.45 264.57,247.44 263.90,247.43 263.23,247.42 262.56,247.41 261.88,247.40 261.21,247.39 260.54,247.38 259.87,247.38 259.20,247.37 258.52,247.36 257.85,247.35 257.18,247.34 256.51,247.33 255.84,247.32 255.16,247.31 254.49,247.31 253.82,247.30 253.15,247.29 252.48,247.28 251.80,247.27 251.13,247.26 250.46,247.25 249.79,247.24 249.12,247.23 248.44,247.22 247.77,247.22 247.10,247.21 246.43,247.20 245.76,247.19 245.08,247.18 244.41,247.17 243.74,247.16 243.07,247.15 242.40,247.14 241.72,247.13 241.05,247.12 240.38,247.11 239.71,247.10 239.04,247.09 238.36,247.08 237.69,247.07 237.02,247.06 236.35,247.05 235.68,247.04 235.00,247.03 234.33,247.02 233.66,247.01 232.99,247.00 232.32,246.99 231.64,246.98 230.97,246.97 230.30,246.96 229.63,246.95 228.96,246.94 228.28,246.93 227.61,246.92 226.94,246.91 226.27,246.90 225.60,246.89 224.92,246.88 224.25,246.87 223.58,246.86 222.91,246.85 222.24,246.84 221.56,246.83 220.89,246.81 220.22,246.80 219.55,246.79 218.88,246.78 218.20,246.77 217.53,246.76 216.86,246.75 216.19,246.73 215.52,246.72 214.84,246.71 214.17,246.70 213.50,246.69 212.83,246.68 212.16,246.66 211.48,246.65 210.81,246.64 210.14,246.63 209.47,246.61 208.80,246.60 208.12,246.59 207.45,246.57 206.78,246.56 206.11,246.55 205.44,246.53 204.76,246.52 204.09,246.51 203.42,246.49 202.75,246.48 202.08,246.47 201.40,246.45 200.73,246.44 200.06,246.42 199.39,246.41 198.72,246.39 198.04,246.38 197.37,246.36 196.70,246.35 196.03,246.33 195.36,246.32 194.68,246.30 194.01,246.29 193.34,246.27 192.67,246.26 192.00,246.24 191.32,246.23 190.65,246.21 189.98,246.20 189.31,246.18 188.64,246.16 187.96,246.15 187.29,246.13 186.62,246.11 185.95,246.10 185.28,246.08 184.60,246.06 183.93,246.05 183.26,246.03 182.59,246.01 181.92,246.00 181.24,245.98 180.57,245.96 179.90,245.95 179.23,245.93 178.56,245.91 177.88,245.89 177.21,245.88 176.54,245.86 175.87,245.84 175.20,245.83 174.52,245.81 173.85,245.79 173.18,245.78 172.51,245.76 171.84,245.75 171.16,245.73 170.49,245.71 169.82,245.70 169.15,245.68 168.48,245.66 167.80,245.65 167.13,245.63 166.46,245.61 165.79,245.59 165.12,245.58 164.44,245.56 163.77,245.54 163.10,245.52 162.43,245.50 161.76,245.48 161.08,245.46 160.41,245.44 159.74,245.42 159.07,245.40 158.40,245.38 157.72,245.36 157.05,245.34 156.38,245.31 155.71,245.29 155.04,245.27 154.36,245.24 153.69,245.22 153.02,245.19 152.35,245.17 151.68,245.14 151.00,245.12 150.33,245.09 149.66,245.06 148.99,245.03 148.32,245.00 147.64,244.97 146.97,244.94 146.30,244.91 145.63,244.87 144.96,244.84 144.28,244.80 143.61,244.76 142.94,244.71 142.27,244.67 141.60,244.62 140.92,244.57 140.25,244.52 139.58,244.46 138.91,244.41 138.24,244.35 137.56,244.29 136.89,244.23 136.22,244.17 135.55,244.10 134.88,244.04 134.20,243.97 133.53,243.90 132.86,243.83 132.19,243.76 131.52,243.69 130.84,243.61 130.17,243.54 129.50,243.46 128.83,243.39 128.16,243.31 127.48,243.24 126.81,243.16 126.14,243.08 125.47,243.00 124.80,242.92 124.12,242.84 123.45,242.76 122.78,242.68 122.11,242.59 121.44,242.49 120.76,242.38 120.09,242.25 119.42,242.12 118.75,241.99 118.08,241.86 117.40,241.73 116.73,241.61 116.06,241.50 115.39,241.40 114.72,241.32 114.04,241.25 113.37,241.21 112.70,241.20" fill="#a5c4de"/>
<polygon points="112.70,241.20 113.37,241.21 114.04,241.25 114.72,241.32 115.39,241.40 116.06,241.50 116.73,241.61 117.40,241.73 118.08,241.86 118.75,241.99 119.42,242.12 120.09,242.25 120.76,242.38 121.44,242.49 122.11,242.59 122.78,242.68 123.45,242.76 124.12,242.84 124.80,242.92 125.47,243.00 126.14,243.08 126.81,243.16 127.48,243.24 128.16,243.31 128.83,243.39 129.50,243.46 130.17,243.54 130.84,243.61 131.52,243.69 132.19,243.76 132.86,243.83 133.53,243.90 134.20,243.97 134.88,244.04 135.55,244.10 136.22,244.17 136.89,244.23 137.56,244.29 138.24,244.35 138.91,244.41 139.58,244.46 140.25,244.52 140.92,244.57 141.60,244.62 142.27,244.67 142.94,244.71 143.61,244.76 144.28,244.80 144.96,244.84 145.63,244.87 146.30,244.91 146.97,244.94 147.64,244.97 148.32,245.00 148.99,245.03 149.66,245.06 150.33,245.09 151.00,245.12 151.68,245.14 152.35,245.17 153.02,245.19 153.69,245.22 154.36,245.24 155.04,245.27 155.71,245.29 156.38,245.31 157.05,245.34 157.72,245.36 158.40,245.38 159.07,245.40 159.74,245.42 160.41,245.44 161.08,245.46 161.76,245.48 162.43,245.50 163.10,245.52 163.77,245.54 164.44,245.56 165.12,245.58 165.79,245.59 166.46,245.61 167.13,245.63 167.80,245.65 168.48,245.66 169.15,245.68 169.82,245.70 170.49,245.71 171.16,245.73 171.84,245.75 172.51,245.76 173.18,245.78 173.85,245.79 174.52,245.81 175.20,245.83 175.87,245.84 176.54,245.86 177.21,245.88 177.88,245.89 178.56,245.91 179.23,245.93 179.90,245.95 180.57,245.96 181.24,245.98 181.92,246.00 182.59,246.01 183.26,246.03 183.93,246.05 184.60,246.06 185.28,246.08 185.95,246.10 186.62,246.11 187.29,246.13 187.96,246.15 188.64,246.16 189.31,246.18 189.98,246.20 190.65,246.21 191.32,246.23 192.00,246.24 192.67,246.26 193.34,246.27 194.01,246.29 194.68,246.30 195.36,246.32 196.03,246.33 196.70,246.35 197.37,246.36 198.04,246.38 198.72,246.39 199.39,246.41 200.06,246.42 200.73,246.44 201.40,246.45 202.08,246.47 202.75,246.48 203.42,246.49 204.09,246.51 204.76,246.52 205.44,246.53 206.11,246.55 206.78,246.56 207.45,246.57 208.12,246.59 208.80,246.60 209.47,246.61 210.14,246.63 210.81,246.64 211.48,246.65 212.16,246.66 212.83,246.68 213.50,246.69 214.17,246.70 214.84,246.71 215.52,246.72 216.19,246.73 216.86,246.75 217.53,246.76 218.20,246.77 218.88,246.78 219.55,246.79 220.22,246.80 220.89,246.81 221.56,246.83 222.24,246.84 222.91,246.85 223.58,246.86 224.25,246.87 224.92,246.88 225.60,246.89 226.27,246.90 226.94,246.91 227.61,246.92 228.28,246.93 228.96,246.94 229.63,246.95 230.30,246.96 230.97,246.97 231.64,246.98 232.32,246.99 232.99,247.00 233.66,247.01 234.33,247.02 235.00,247.03 235.68,247.04 236.35,247.05 237.02,247.06 237.69,247.07 238.36,247.08 239.04,247.09 239.71,247.10 240.38,247.11 241.05,247.12 241.72,247.13 242.40,247.14 243.07,247.15 243.74,247.16 244.41,247.17 245.08,247.18 245.76,247.19 246.43,247.20 247.10,247.21 247.77,247.22 248.44,247.22 249.12,247.23 249.79,247.24 250.46,247.25 251.13,247.26 251.80,247.27 252.48,247.28 253.15,247.29 253.82,247.30 254.49,247.31 255.16,247.31 255.84,247.32 256.51,247.33 257.18,247.34 257.85,247.35 258.52,247.36 259.20,247.37 259.87,247.38 260.54,247.38 261.21,247.39 261.88,247.40 262.56,247.41 263.23,247.42 263.90,247.43 264.57,247.44 265.24,247.45 265.92,247.45 266.59,247.46 267.26,247.47 267.93,247.48 268.60,247.49 269.28,247.50 269.95,247.51 270.62,247.52 271.29,247.52 271.96,247.53 272.64,247.54 273.31,247.55 273.98,247.56 274.65,247.57 275.32,247.58 276.00,247.58 276.67,247.59 277.34,247.60 278.01,247.61 278.68,247.62 279.36,247.63 280.03,247.64 280.70,247.65 281.37,247.65 282.04,247.66 282.72,247.67 283.39,247.68 284.06,247.69 284.73,247.70 285.40,247.71 286.08,247.72 286.75,247.73 287.42,247.74 288.09,247.74 288.76,247.75 289.44,247.76 290.11,247.77 290.78,247.78 291.45,247.79 292.12,247.80 292.80,247.81 293.47,247.82 294.14,247.83 294.81,247.84 295.48,247.85 296.16,247.85 296.83,247.86 297.50,247.87 297.50,322.76 296.83,322.72 296.16,322.67 295.48,322.62 294.81,322.57 294.14,322.52 293.47,322.47 292.80,322.42 292.12,322.38 291.45,322.33 290.78,322.28 290.11,322.23 289.44,322.18 288.76,322.13 288.09,322.08 287.42,322.02 286.75,321.97 286.08,321.92 285.40,321.87 284.73,321.82 284.06,321.77 283.39,321.72 282.72,321.66 282.04,321.61 281.37,321.56 280.70,321.51 280.03,321.46 279.36,321.41 278.68,321.36 278.01,321.31 277.34,321.26 276.67,321.21 276.00,321.16 275.32,321.10 274.65,321.05 273.98,321.00 273.31,320.94 272.64,320.89 271.96,320.83 271.29,320.77 270.62,320.72 269.95,320.66 269.28,320.60 268.60,320.54 267.93,320.48 267.26,320.42 266.59,320.35 265.92,320.29 265.24,320.22 264.57,320.16 263.90,320.09 263.23,320.02 262.56,319.95 261.88,319.87 261.21,319.80 260.54,319.72 259.87,319.64 259.20,319.56 258.52,319.48 257.85,319.39 257.18,319.30 256.51,319.21 255.84,319.12 255.16,319.02 254.49,318.92 253.82,318.82 253.15,318.72 252.48,318.61 251.80,318.51 251.13,318.40 250.46,318.29 249.79,318.18 249.12,318.07 248.44,317.95 247.77,317.83 247.10,317.72 246.43,317.60 245.76,317.48 245.08,317.35 244.41,317.23 243.74,317.11 243.07,316.98 242.40,316.86 241.72,316.73 241.05,316.60 240.38,316.47 239.71,316.34 239.04,316.21 238.36,316.07 237.69,315.93 237.02,315.79 236.35,315.64 235.68,315.50 235.00,315.35 234.33,315.20 233.66,315.04 232.99,314.89 232.32,314.73 231.64,314.57 230.97,314.41 230.30,314.24 229.63,314.08 228.96,313.91 228.28,313.74 227.61,313.57 226.94,313.40 226.27,313.22 225.60,313.05 224.92,312.87 224.25,312.69 223.58,312.51 222.91,312.33 222.24,312.14 221.56,311.96 220.89,311.77 220.22,311.59 219.55,311.40 218.88,311.21 218.20,311.02 217.53,310.83 216.86,310.64 216.19,310.44 215.52,310.24 214.84,310.04 214.17,309.84 213.50,309.64 212.83,309.43 212.16,309.23 211.48,309.02 210.81,308.80 210.14,308.59 209.47,308.37 208.80,308.15 208.12,307.93 207.45,307.70 206.78,307.47 206.11,307.23 205.44,307.00 204.76,306.76 204.09,306.51 203.42,306.27 202.75,306.01 202.08,305.76 201.40,305.50 200.73,305.24 200.06,304.97 199.39,304.70 198.72,304.41 198.04,304.13 197.37,303.83 196.70,303.53 196.03,303.22 195.36,302.91 194.68,302.58 194.01,302.26 193.34,301.93 192.67,301.59 192.00,301.25 191.32,300.90 190.65,300.55 189.98,300.20 189.31,299.84 188.64,299.48 187.96,299.11 187.29,298.75 186.62,298.37 185.95,298.00 185.28,297.63 184.60,297.25 183.93,296.87 183.26,296.49 182.59,296.11 181.92,295.73 181.24,295.35 180.57,294.97 179.90,294.59 179.23,294.21 178.56,293.82 177.88,293.44 177.21,293.05 176.54,292.66 175.87,292.26 175.20,291.86 174.52,291.45 173.85,291.04 173.18,290.61 172.51,290.18 171.84,289.74 171.16,289.29 170.49,288.83 169.82,288.36 169.15,287.87 168.48,287.38 167.80,286.87 167.13,286.34 166.46,285.81 165.79,285.26 165.12,284.71 164.44,284.14 163.77,283.56 163.10,282.97 162.43,282.37 161.76,281.76 161.08,281.15 160.41,280.52 159.74,279.88 159.07,279.22 158.40,278.54 157.72,277.84 157.05,277.13 156.38,276.40 155.71,275.66 155.04,274.91 154.36,274.16 153.69,273.40 153.02,272.64 152.35,271.87 151.68,271.09 151.00,270.30 150.33,269.50 149.66,268.69 148.99,267.87 148.32,267.05 147.64,266.24 146.97,265.42 146.30,264.61 145.63,263.80 144.96,263.00 144.28,262.20 143.61,261.38 142.94,260.56 142.27,259.73 141.60,258.90 140.92,258.07 140.25,257.25 139.58,256.44 138.91,255.64 138.24,254.86 137.56,254.11 136.89,253.38 136.22,252.69 135.55,252.03 134.88,251.40 134.20,250.79 133.53,250.20 132.86,249.64 132.19,249.09 131.52,248.56 130.84,248.05 130.17,247.55 129.50,247.06 128.83,246.57 128.16,246.09 127.48,245.63 126.81,245.20 126.14,244.81 125.47,244.46 124.80,244.15 124.12,243.84 123.45,243.56 122.78,243.28 122.11,243.03 121.44,242.80 120.76,242.59 120.09,242.40 119.42,242.24 118.75,242.09 118.08,241.94 117.40,241.80 116.73,241.66 116.06,241.53 115.39,241.42 114.72,241.33 114.04,241.26 113.37,241.22 112.70,241.20" fill="#c2dfc0"/>
<polygon points="112.70,241.20 113.37,241.22 114.04,241.26 114.72,241.33 115.39,241.42 116.06,241.53 116.73,241.66 117.40,241.80 118.08,241.94 118.75,242.09 119.42,242.24 120.09,242.40 120.76,242.59 121.44,242.80 122.11,243.03 122.78,243.28 123.45,243.56 124.12,243.84 124.80,244.15 125.47,244.46 126.14,244.81 126.81,245.20 127.48,245.63 128.16,246.09 128.83,246.57 129.50,247.06 130.17,247.55 130.84,248.05 131.52,248.56 132.19,249.09 132.86,249.64 133.53,250.20 134.20,250.79 134.88,251.40 135.55,252.03 136.22,252.69 136.89,253.38 137.56,254.11 138.24,254.86 138.91,255.64 139.58,256.44 140.25,257.25 140.92,258.07 141.60,258.90 142.27,259.73 142.94,260.56 143.61,261.38 144.28,262.20 144.96,263.00 145.63,263.80 146.30,264.61 146.97,265.42 147.64,266.24 148.32,267.05 148.99,267.87 149.66,268.69 150.33,269.50 151.00,270.30 151.68,271.09 152.35,271.87 153.02,272.64 153.69,273.40 154.36,274.16 155.04,274.91 155.71,275.66 156.38,276.40 157.05,277.13 157.72,277.84 158.40,278.54 159.07,279.22 159.74,279.88 160.41,280.52 161.08,281.15 161.76,281.76 162.43,282.37 163.10,282.97 163.77,283.56 164.44,284.14 165.12,284.71 165.79,285.26 166.46,285.81 167.13,286.34 167.80,286.87 168.48,287.38 169.15,287.87 169.82,288.36 170.49,288.83 171.16,289.29 171.84,289.74 172.51,290.18 173.18,290.61 173.85,291.04 174.52,291.45 175.20,291.86 175.87,292.26 176.54,292.66 177.21,293.05 177.88,293.44 178.56,293.82 179.23,294.21 179.90,294.59 180.57,294.97 181.24,295.35 181.92,295.73 182.59,296.11 183.26,296.49 183.93,296.87 184.60,297.25 185.28,297.63 185.95,298.00 186.62,298.37 187.29,298.75 187.96,299.11 188.64,299.48 189.31,299.84 189.98,300.20 190.65,300.55 191.32,300.90 192.00,301.25 192.67,301.59 193.34,301.93 194.01,302.26 194.68,302.58 195.36,302.91 196.03,303.22 196.70,303.53 197.37,303.83 198.04,304.13 198.72,304.41 199.39,304.70 200.06,304.97 200.73,305.24 201.40,305.50 202.08,305.76 202.75,306.01 203.42,306.27 204.09,306.51 204.76,306.76 205.44,307.00 206.11,307.23 206.78,307.47 207.45,307.70 208.12,307.93 208.80,308.15 209.47,308.37 210.14,308.59 210.81,308.80 211.48,309.02 212.16,309.23 212.83,309.43 213.50,309.64 214.17,309.84 214.84,310.04 215.52,310.24 216.19,310.44 216.86,310.64 217.53,310.83 218.20,311.02 218.88,311.21 219.55,311.40 220.22,311.59 220.89,311.77 221.56,311.96 222.24,312.14 222.91,312.33 223.58,312.51 224.25,312.69 224.92,312.87 225.60,313.05 226.27,313.22 226.94,313.40 227.61,313.57 228.28,313.74 228.96,313.91 229.63,314.08 230.30,314.24 230.97,314.41 231.64,314.57 232.32,314.73 232.99,314.89 233.66,315.04 234.33,315.20 235.00,315.35 235.68,315.50 236.35,315.64 237.02,315.79 237.69,315.93 238.36,316.07 239.04,316.21 239.71,316.34 240.38,316.47 241.05,316.60 241.72,316.73 242.40,316.86 243.07,316.98 243.74,317.11 244.41,317.23 245.08,317.35 245.76,317.48 246.43,317.60 247.10,317.72 247.77,317.83 248.44,317.95 249.12,318.07 249.79,318.18 250.46,318.29 251.13,318.40 251.80,318.51 252.48,318.61 253.15,318.72 253.82,318.82 254.49,318.92 255.16,319.02 255.84,319.12 256.51,319.21 257.18,319.30 257.85,319.39 258.52,319.48 259.20,319.56 259.87,319.64 260.54,319.72 261.21,319.80 261.88,319.87 262.56,319.95 263.23,320.02 263.90,320.09 264.57,320.16 265.24,320.22 265.92,320.29 266.59,320.35 267.26,320.42 267.93,320.48 268.60,320.54 269.28,320.60 269.95,320.66 270.62,320.72 271.29,320.77 271.96,320.83 272.64,320.89 273.31,320.94 273.98,321.00 274.65,321.05 275.32,321.10 276.00,321.16 276.67,321.21 277.34,321.26 278.01,321.31 278.68,321.36 279.36,321.41 280.03,321.46 280.70,321.51 281.37,321.56 282.04,321.61 282.72,321.66 283.39,321.72 284.06,321.77 284.73,321.82 285.40,321.87 286.08,321.92 286.75,321.97 287.42,322.02 288.09,322.08 288.76,322.13 289.44,322.18 290.11,322.23 290.78,322.28 291.45,322.33 292.12,322.38 292.80,322.42 293.47,322.47 294.14,322.52 294.81,322.57 295.48,322.62 296.16,322.67 296.83,322.72 297.50,322.76 297.50,343.97 296.83,343.92 296.16,343.88 295.48,343.83 294.81,343.78 294.14,343.74 293.47,343.69 292.80,343.64 292.12,343.59 291.45,343.55 290.78,343.50 290.11,343.45 289.44,343.41 288.76,343.36 288.09,343.31 287.42,343.26 286.75,343.22 286.08,343.17 285.40,343.12 284.73,343.07 284.06,343.03 283.39,342.98 282.72,342.93 282.04,342.88 281.37,342.83 280.70,342.79 280.03,342.74 279.36,342.69 278.68,342.64 278.01,342.60 277.34,342.55 276.67,342.50 276.00,342.46 275.32,342.41 274.65,342.36 273.98,342.32 273.31,342.27 272.64,342.23 271.96,342.18 271.29,342.14 270.62,342.09 269.95,342.05 269.28,342.00 268.60,341.96 267.93,341.91 267.26,341.86 266.59,341.82 265.92,341.77 265.24,341.72 264.57,341.68 263.90,341.63 263.23,341.58 262.56,341.53 261.88,341.49 261.21,341.44 260.54,341.39 259.87,341.34 259.20,341.29 258.52,341.23 257.85,341.18 257.18,341.13 256.51,341.08 255.84,341.02 255.16,340.97 254.49,340.91 253.82,340.86 253.15,340.80 252.48,340.74 251.80,340.68 251.13,340.62 250.46,340.56 249.79,340.50 249.12,340.44 248.44,340.37 247.77,340.31 247.10,340.24 246.43,340.17 245.76,340.10 245.08,340.04 244.41,339.97 243.74,339.89 243.07,339.82 242.40,339.75 241.72,339.67 241.05,339.60 240.38,339.52 239.71,339.45 239.04,339.37 238.36,339.29 237.69,339.21 237.02,339.13 236.35,339.05 235.68,338.97 235.00,338.89 234.33,338.80 233.66,338.72 232.99,338.64 232.32,338.55 231.64,338.46 230.97,338.38 230.30,338.29 229.63,338.20 228.96,338.11 228.28,338.02 227.61,337.93 226.94,337.84 226.27,337.75 225.60,337.66 224.92,337.57 224.25,337.47 223.58,337.38 222.91,337.28 222.24,337.19 221.56,337.09 220.89,337.00 220.22,336.90 219.55,336.81 218.88,336.71 218.20,336.61 217.53,336.51 216.86,336.41 216.19,336.31 215.52,336.21 214.84,336.10 214.17,336.00 213.50,335.89 212.83,335.78 212.16,335.68 211.48,335.57 210.81,335.45 210.14,335.34 209.47,335.23 208.80,335.11 208.12,334.99 207.45,334.88 206.78,334.75 206.11,334.63 205.44,334.51 204.76,334.38 204.09,334.25 203.42,334.12 202.75,333.99 202.08,333.86 201.40,333.72 200.73,333.58 200.06,333.44 199.39,333.30 198.72,333.15 198.04,333.00 197.37,332.85 196.70,332.69 196.03,332.53 195.36,332.37 194.68,332.21 194.01,332.04 193.34,331.87 192.67,331.69 192.00,331.52 191.32,331.34 190.65,331.15 189.98,330.97 189.31,330.78 188.64,330.59 187.96,330.40 187.29,330.21 186.62,330.01 185.95,329.82 185.28,329.62 184.60,329.41 183.93,329.21 183.26,329.01 182.59,328.80 181.92,328.59 181.24,328.38 180.57,328.17 179.90,327.96 179.23,327.74 178.56,327.52 177.88,327.30 177.21,327.07 176.54,326.84 175.87,326.60 175.20,326.36 174.52,326.11 173.85,325.86 173.18,325.60 172.51,325.34 171.84,325.08 171.16,324.81 170.49,324.53 169.82,324.25 169.15,323.96 168.48,323.67 167.80,323.37 167.13,323.07 166.46,322.76 165.79,322.44 165.12,322.12 164.44,321.78 163.77,321.43 163.10,321.06 162.43,320.69 161.76,320.30 161.08,319.89 160.41,319.45 159.74,318.99 159.07,318.50 158.40,317.99 157.72,317.47 157.05,316.92 156.38,316.36 155.71,315.79 155.04,315.21 154.36,314.59 153.69,313.95 153.02,313.30 152.35,312.62 151.68,311.93 151.00,311.23 150.33,310.52 149.66,309.80 148.99,309.08 148.32,308.36 147.64,307.63 146.97,306.88 146.30,306.11 145.63,305.32 144.96,304.50 144.28,303.64 143.61,302.74 142.94,301.81 142.27,300.86 141.60,299.86 140.92,298.83 140.25,297.76 139.58,296.64 138.91,295.47 138.24,294.25 137.56,292.96 136.89,291.62 136.22,290.18 135.55,288.62 134.88,286.94 134.20,285.18 133.53,283.34 132.86,281.44 132.19,279.50 131.52,277.53 130.84,275.46 130.17,273.24 129.50,270.94 128.83,268.62 128.16,266.35 127.48,264.19 126.81,262.10 126.14,260.05 125.47,258.07 124.80,256.18 124.12,254.41 123.45,252.64 122.78,250.93 122.11,249.36 121.44,248.00 120.76,246.89 120.09,245.85 119.42,244.87 118.75,243.98 118.08,243.22 117.40,242.63 116.73,242.24 116.06,241.97 115.39,241.72 114.72,241.51 114.04,241.34 113.37,241.24 112.70,241.20" fill="#fcd49e"/>
<line x1="146.3" y1="241.2" x2="146.3" y2="389.5" stroke="#fff" stroke-opacity="0.25" stroke-width="1.6" stroke-dasharray="2,1.5"/>
<line x1="179.9" y1="241.2" x2="179.9" y2="389.5" stroke="#fff" stroke-opacity="0.25" stroke-width="1.6" stroke-dasharray="2,1.5"/>
<line x1="213.5" y1="241.2" x2="213.5" y2="389.5" stroke="#fff" stroke-opacity="0.25" stroke-width="1.6" stroke-dasharray="2,1.5"/>
<line x1="247.1" y1="241.2" x2="247.1" y2="389.5" stroke="#fff" stroke-opacity="0.25" stroke-width="1.6" stroke-dasharray="2,1.5"/>
<line x1="280.7" y1="241.2" x2="280.7" y2="389.5" stroke="#fff" stroke-opacity="0.25" stroke-width="1.6" stroke-dasharray="2,1.5"/>
<line x1="112.5" y1="359.8" x2="297.5" y2="359.8" stroke="#fff" stroke-opacity="0.25" stroke-width="1.6" stroke-dasharray="2,1.5"/>
<line x1="112.5" y1="330.2" x2="297.5" y2="330.2" stroke="#fff" stroke-opacity="0.25" stroke-width="1.6" stroke-dasharray="2,1.5"/>
<line x1="112.5" y1="300.5" x2="297.5" y2="300.5" stroke="#fff" stroke-opacity="0.25" stroke-width="1.6" stroke-dasharray="2,1.5"/>
<line x1="112.5" y1="270.9" x2="297.5" y2="270.9" stroke="#fff" stroke-opacity="0.25" stroke-width="1.6" stroke-dasharray="2,1.5"/>
<polyline points="112.70,241.20 113.37,241.21 114.04,241.24 114.72,241.28 115.39,241.35 116.06,241.43 116.73,241.52 117.40,241.62 118.08,241.74 118.75,241.86 119.42,242.00 120.09,242.14 120.76,242.29 121.44,242.45 122.11,242.61 122.78,242.77 123.45,242.93 124.12,243.10 124.80,243.26 125.47,243.42 126.14,243.60 126.81,243.79 127.48,244.00 128.16,244.23 128.83,244.47 129.50,244.72 130.17,244.97 130.84,245.23 131.52,245.51 132.19,245.80 132.86,246.10 133.53,246.41 134.20,246.74 134.88,247.08 135.55,247.43 136.22,247.80 136.89,248.19 137.56,248.59 138.24,249.02 138.91,249.45 139.58,249.91 140.25,250.37 140.92,250.84 141.60,251.32 142.27,251.81 142.94,252.30 143.61,252.80 144.28,253.30 144.96,253.81 145.63,254.32 146.30,254.84 146.97,255.38 147.64,255.93 148.32,256.49 148.99,257.05 149.66,257.63 150.33,258.20 151.00,258.77 151.68,259.35 152.35,259.91 153.02,260.48 153.69,261.04 154.36,261.61 155.04,262.19 155.71,262.77 156.38,263.34 157.05,263.92 157.72,264.49 158.40,265.05 159.07,265.60 159.74,266.15 160.41,266.67 161.08,267.20 161.76,267.73 162.43,268.25 163.10,268.77 163.77,269.28 164.44,269.79 165.12,270.29 165.79,270.78 166.46,271.27 167.13,271.74 167.80,272.21 168.48,272.66 169.15,273.10 169.82,273.53 170.49,273.95 171.16,274.36 171.84,274.76 172.51,275.15 173.18,275.54 173.85,275.92 174.52,276.30 175.20,276.66 175.87,277.02 176.54,277.38 177.21,277.72 177.88,278.06 178.56,278.38 179.23,278.70 179.90,279.02 180.57,279.32 181.24,279.63 181.92,279.93 182.59,280.22 183.26,280.52 183.93,280.81 184.60,281.09 185.28,281.38 185.95,281.66 186.62,281.94 187.29,282.21 187.96,282.48 188.64,282.75 189.31,283.01 189.98,283.27 190.65,283.53 191.32,283.78 192.00,284.03 192.67,284.28 193.34,284.52 194.01,284.76 194.68,284.99 195.36,285.22 196.03,285.45 196.70,285.67 197.37,285.89 198.04,286.11 198.72,286.32 199.39,286.52 200.06,286.73 200.73,286.93 201.40,287.12 202.08,287.31 202.75,287.50 203.42,287.68 204.09,287.86 204.76,288.04 205.44,288.21 206.11,288.38 206.78,288.55 207.45,288.72 208.12,288.88 208.80,289.04 209.47,289.20 210.14,289.36 210.81,289.52 211.48,289.67 212.16,289.83 212.83,289.98 213.50,290.14 214.17,290.29 214.84,290.45 215.52,290.60 216.19,290.75 216.86,290.91 217.53,291.07 218.20,291.22 218.88,291.38 219.55,291.54 220.22,291.70 220.89,291.87 221.56,292.03 222.24,292.20 222.91,292.37 223.58,292.54 224.25,292.70 224.92,292.87 225.60,293.05 226.27,293.22 226.94,293.39 227.61,293.56 228.28,293.73 228.96,293.89 229.63,294.06 230.30,294.23 230.97,294.40 231.64,294.56 232.32,294.72 232.99,294.88 233.66,295.04 234.33,295.20 235.00,295.35 235.68,295.50 236.35,295.65 237.02,295.79 237.69,295.93 238.36,296.07 239.04,296.20 239.71,296.33 240.38,296.46 241.05,296.58 241.72,296.69 242.40,296.81 243.07,296.93 243.74,297.04 244.41,297.15 245.08,297.26 245.76,297.37 246.43,297.48 247.10,297.58 247.77,297.69 248.44,297.79 249.12,297.89 249.79,297.99 250.46,298.09 251.13,298.19 251.80,298.28 252.48,298.38 253.15,298.47 253.82,298.56 254.49,298.65 255.16,298.74 255.84,298.83 256.51,298.91 257.18,299.00 257.85,299.08 258.52,299.16 259.20,299.24 259.87,299.32 260.54,299.40 261.21,299.48 261.88,299.56 262.56,299.64 263.23,299.71 263.90,299.79 264.57,299.86 265.24,299.93 265.92,300.01 266.59,300.08 267.26,300.15 267.93,300.22 268.60,300.29 269.28,300.36 269.95,300.43 270.62,300.50 271.29,300.56 271.96,300.63 272.64,300.69 273.31,300.75 273.98,300.81 274.65,300.87 275.32,300.93 276.00,300.99 276.67,301.05 277.34,301.10 278.01,301.16 278.68,301.21 279.36,301.26 280.03,301.31 280.70,301.36 281.37,301.41 282.04,301.46 282.72,301.50 283.39,301.54 284.06,301.58 284.73,301.62 285.40,301.66 286.08,301.70 286.75,301.74 287.42,301.78 288.09,301.81 288.76,301.85 289.44,301.88 290.11,301.92 290.78,301.95 291.45,301.99 292.12,302.02 292.80,302.05 293.47,302.09 294.14,302.12 294.81,302.16 295.48,302.19 296.16,302.23 296.83,302.26 297.50,302.30" fill="none" stroke="#000" stroke-width="1.1" stroke-linejoin="round"/>
<polyline points="112.70,241.20 113.37,241.22 114.04,241.27 114.72,241.36 115.39,241.46 116.06,241.59 116.73,241.72 117.40,241.87 118.08,242.02 118.75,242.20 119.42,242.42 120.09,242.68 120.76,242.98 121.44,243.33 122.11,243.72 122.78,244.25 123.45,244.97 124.12,245.83 124.80,246.79 125.47,247.81 126.14,248.86 126.81,250.07 127.48,251.41 128.16,252.83 128.83,254.26 129.50,255.65 130.17,256.94 130.84,258.18 131.52,259.42 132.19,260.64 132.86,261.84 133.53,263.03 134.20,264.20 134.88,265.35 135.55,266.47 136.22,267.57 136.89,268.64 137.56,269.67 138.24,270.68 138.91,271.66 139.58,272.62 140.25,273.56 140.92,274.49 141.60,275.41 142.27,276.33 142.94,277.25 143.61,278.17 144.28,279.11 144.96,280.05 145.63,281.02 146.30,282.00 146.97,282.99 147.64,283.98 148.32,284.97 148.99,285.96 149.66,286.94 150.33,287.92 151.00,288.88 151.68,289.82 152.35,290.73 153.02,291.62 153.69,292.49 154.36,293.35 155.04,294.20 155.71,295.03 156.38,295.85 157.05,296.66 157.72,297.44 158.40,298.22 159.07,298.97 159.74,299.71 160.41,300.43 161.08,301.14 161.76,301.84 162.43,302.53 163.10,303.21 163.77,303.87 164.44,304.53 165.12,305.17 165.79,305.81 166.46,306.44 167.13,307.05 167.80,307.66 168.48,308.25 169.15,308.84 169.82,309.42 170.49,309.99 171.16,310.56 171.84,311.12 172.51,311.68 173.18,312.23 173.85,312.77 174.52,313.30 175.20,313.83 175.87,314.34 176.54,314.84 177.21,315.33 177.88,315.80 178.56,316.26 179.23,316.70 179.90,317.13 180.57,317.54 181.24,317.95 181.92,318.36 182.59,318.76 183.26,319.16 183.93,319.55 184.60,319.93 185.28,320.31 185.95,320.69 186.62,321.06 187.29,321.43 187.96,321.79 188.64,322.14 189.31,322.49 189.98,322.84 190.65,323.17 191.32,323.50 192.00,323.83 192.67,324.15 193.34,324.46 194.01,324.77 194.68,325.07 195.36,325.36 196.03,325.65 196.70,325.93 197.37,326.20 198.04,326.46 198.72,326.72 199.39,326.97 200.06,327.21 200.73,327.45 201.40,327.68 202.08,327.91 202.75,328.14 203.42,328.36 204.09,328.57 204.76,328.78 205.44,328.99 206.11,329.20 206.78,329.40 207.45,329.59 208.12,329.79 208.80,329.98 209.47,330.16 210.14,330.35 210.81,330.53 211.48,330.71 212.16,330.88 212.83,331.05 213.50,331.22 214.17,331.39 214.84,331.55 215.52,331.71 216.19,331.87 216.86,332.02 217.53,332.18 218.20,332.33 218.88,332.48 219.55,332.63 220.22,332.77 220.89,332.92 221.56,333.06 222.24,333.20 222.91,333.33 223.58,333.47 224.25,333.60 224.92,333.73 225.60,333.86 226.27,333.98 226.94,334.11 227.61,334.23 228.28,334.35 228.96,334.47 229.63,334.59 230.30,334.70 230.97,334.82 231.64,334.93 232.32,335.05 232.99,335.16 233.66,335.27 234.33,335.38 235.00,335.49 235.68,335.60 236.35,335.71 237.02,335.82 237.69,335.93 238.36,336.03 239.04,336.14 239.71,336.25 240.38,336.35 241.05,336.46 241.72,336.57 242.40,336.67 243.07,336.78 243.74,336.88 244.41,336.99 245.08,337.09 245.76,337.19 246.43,337.29 247.10,337.39 247.77,337.49 248.44,337.59 249.12,337.69 249.79,337.79 250.46,337.89 251.13,337.99 251.80,338.08 252.48,338.18 253.15,338.27 253.82,338.37 254.49,338.46 255.16,338.56 255.84,338.65 256.51,338.74 257.18,338.83 257.85,338.92 258.52,339.02 259.20,339.11 259.87,339.20 260.54,339.29 261.21,339.37 261.88,339.46 262.56,339.55 263.23,339.64 263.90,339.73 264.57,339.82 265.24,339.90 265.92,339.99 266.59,340.08 267.26,340.17 267.93,340.25 268.60,340.34 269.28,340.42 269.95,340.51 270.62,340.59 271.29,340.68 271.96,340.76 272.64,340.84 273.31,340.92 273.98,341.00 274.65,341.08 275.32,341.16 276.00,341.24 276.67,341.31 277.34,341.39 278.01,341.46 278.68,341.54 279.36,341.61 280.03,341.68 280.70,341.75 281.37,341.82 282.04,341.88 282.72,341.95 283.39,342.01 284.06,342.07 284.73,342.14 285.40,342.20 286.08,342.26 286.75,342.32 287.42,342.37 288.09,342.43 288.76,342.49 289.44,342.55 290.11,342.60 290.78,342.66 291.45,342.72 292.12,342.77 292.80,342.83 293.47,342.88 294.14,342.94 294.81,343.00 295.48,343.06 296.16,343.11 296.83,343.17 297.50,343.23" fill="none" stroke="#000" stroke-width="1.1" stroke-linejoin="round"/>
<polyline points="112.70,241.20 113.37,241.22 114.04,241.26 114.72,241.33 115.39,241.42 116.06,241.53 116.73,241.66 117.40,241.80 118.08,241.94 118.75,242.09 119.42,242.24 120.09,242.40 120.76,242.59 121.44,242.80 122.11,243.03 122.78,243.28 123.45,243.56 124.12,243.84 124.80,244.15 125.47,244.46 126.14,244.81 126.81,245.20 127.48,245.63 128.16,246.09 128.83,246.57 129.50,247.06 130.17,247.55 130.84,248.05 131.52,248.56 132.19,249.09 132.86,249.64 133.53,250.20 134.20,250.79 134.88,251.40 135.55,252.03 136.22,252.69 136.89,253.38 137.56,254.11 138.24,254.86 138.91,255.64 139.58,256.44 140.25,257.25 140.92,258.07 141.60,258.90 142.27,259.73 142.94,260.56 143.61,261.38 144.28,262.20 144.96,263.00 145.63,263.80 146.30,264.61 146.97,265.42 147.64,266.24 148.32,267.05 148.99,267.87 149.66,268.69 150.33,269.50 151.00,270.30 151.68,271.09 152.35,271.87 153.02,272.64 153.69,273.40 154.36,274.16 155.04,274.91 155.71,275.66 156.38,276.40 157.05,277.13 157.72,277.84 158.40,278.54 159.07,279.22 159.74,279.88 160.41,280.52 161.08,281.15 161.76,281.76 162.43,282.37 163.10,282.97 163.77,283.56 164.44,284.14 165.12,284.71 165.79,285.26 166.46,285.81 167.13,286.34 167.80,286.87 168.48,287.38 169.15,287.87 169.82,288.36 170.49,288.83 171.16,289.29 171.84,289.74 172.51,290.18 173.18,290.61 173.85,291.04 174.52,291.45 175.20,291.86 175.87,292.26 176.54,292.66 177.21,293.05 177.88,293.44 178.56,293.82 179.23,294.21 179.90,294.59 180.57,294.97 181.24,295.35 181.92,295.73 182.59,296.11 183.26,296.49 183.93,296.87 184.60,297.25 185.28,297.63 185.95,298.00 186.62,298.37 187.29,298.75 187.96,299.11 188.64,299.48 189.31,299.84 189.98,300.20 190.65,300.55 191.32,300.90 192.00,301.25 192.67,301.59 193.34,301.93 194.01,302.26 194.68,302.58 195.36,302.91 196.03,303.22 196.70,303.53 197.37,303.83 198.04,304.13 198.72,304.41 199.39,304.70 200.06,304.97 200.73,305.24 201.40,305.50 202.08,305.76 202.75,306.01 203.42,306.27 204.09,306.51 204.76,306.76 205.44,307.00 206.11,307.23 206.78,307.47 207.45,307.70 208.12,307.93 208.80,308.15 209.47,308.37 210.14,308.59 210.81,308.80 211.48,309.02 212.16,309.23 212.83,309.43 213.50,309.64 214.17,309.84 214.84,310.04 215.52,310.24 216.19,310.44 216.86,310.64 217.53,310.83 218.20,311.02 218.88,311.21 219.55,311.40 220.22,311.59 220.89,311.77 221.56,311.96 222.24,312.14 222.91,312.33 223.58,312.51 224.25,312.69 224.92,312.87 225.60,313.05 226.27,313.22 226.94,313.40 227.61,313.57 228.28,313.74 228.96,313.91 229.63,314.08 230.30,314.24 230.97,314.41 231.64,314.57 232.32,314.73 232.99,314.89 233.66,315.04 234.33,315.20 235.00,315.35 235.68,315.50 236.35,315.64 237.02,315.79 237.69,315.93 238.36,316.07 239.04,316.21 239.71,316.34 240.38,316.47 241.05,316.60 241.72,316.73 242.40,316.86 243.07,316.98 243.74,317.11 244.41,317.23 245.08,317.35 245.76,317.48 246.43,317.60 247.10,317.72 247.77,317.83 248.44,317.95 249.12,318.07 249.79,318.18 250.46,318.29 251.13,318.40 251.80,318.51 252.48,318.61 253.15,318.72 253.82,318.82 254.49,318.92 255.16,319.02 255.84,319.12 256.51,319.21 257.18,319.30 257.85,319.39 258.52,319.48 259.20,319.56 259.87,319.64 260.54,319.72 261.21,319.80 261.88,319.87 262.56,319.95 263.23,320.02 263.90,320.09 264.57,320.16 265.24,320.22 265.92,320.29 266.59,320.35 267.26,320.42 267.93,320.48 268.60,320.54 269.28,320.60 269.95,320.66 270.62,320.72 271.29,320.77 271.96,320.83 272.64,320.89 273.31,320.94 273.98,321.00 274.65,321.05 275.32,321.10 276.00,321.16 276.67,321.21 277.34,321.26 278.01,321.31 278.68,321.36 279.36,321.41 280.03,321.46 280.70,321.51 281.37,321.56 282.04,321.61 282.72,321.66 283.39,321.72 284.06,321.77 284.73,321.82 285.40,321.87 286.08,321.92 286.75,321.97 287.42,322.02 288.09,322.08 288.76,322.13 289.44,322.18 290.11,322.23 290.78,322.28 291.45,322.33 292.12,322.38 292.80,322.42 293.47,322.47 294.14,322.52 294.81,322.57 295.48,322.62 296.16,322.67 296.83,322.72 297.50,322.76" fill="none" stroke="#000" stroke-width="2.2" stroke-linejoin="round"/>
</g>
<rect x="112.70" y="383.50" width="43.34" height="3.9" fill="#8b55a8"/>
<rect x="156.04" y="383.50" width="11.09" height="3.9" fill="#f0902f"/>
<circle cx="171.66" cy="385.40" r="3" fill="#9fd49a" opacity="0.7"/>
<path d="M166.96,382.20L173.36,388.60M166.96,388.60L173.36,382.20" stroke="#1a2a1a" stroke-width="1.3"/>
<line x1="113.00" y1="241.2" x2="113.00" y2="389.5" stroke="#a494ac" stroke-width="1.5"/>
<line x1="109.20" y1="389.50" x2="112.20" y2="389.50" stroke="#666" stroke-width="0.9"/>
<text x="108.90" y="386.10" font-size="8.5" text-anchor="middle" fill="#000" stroke="#000" stroke-width="0.6" transform="rotate(-90 108.90 386.10)">0.0</text>
<line x1="109.20" y1="359.84" x2="112.20" y2="359.84" stroke="#666" stroke-width="0.9"/>
<text x="108.90" y="356.44" font-size="8.5" text-anchor="middle" fill="#000" stroke="#000" stroke-width="0.6" transform="rotate(-90 108.90 356.44)">0.2</text>
<line x1="109.20" y1="330.18" x2="112.20" y2="330.18" stroke="#666" stroke-width="0.9"/>
<text x="108.90" y="326.78" font-size="8.5" text-anchor="middle" fill="#000" stroke="#000" stroke-width="0.6" transform="rotate(-90 108.90 326.78)">0.4</text>
<line x1="109.20" y1="300.52" x2="112.20" y2="300.52" stroke="#666" stroke-width="0.9"/>
<text x="108.90" y="297.12" font-size="8.5" text-anchor="middle" fill="#000" stroke="#000" stroke-width="0.6" transform="rotate(-90 108.90 297.12)">0.6</text>
<line x1="109.20" y1="270.86" x2="112.20" y2="270.86" stroke="#666" stroke-width="0.9"/>
<text x="108.90" y="267.46" font-size="8.5" text-anchor="middle" fill="#000" stroke="#000" stroke-width="0.6" transform="rotate(-90 108.90 267.46)">0.8</text>
<line x1="109.20" y1="241.20" x2="112.20" y2="241.20" stroke="#666" stroke-width="0.9"/>
<text x="108.90" y="237.80" font-size="8.5" text-anchor="middle" fill="#000" stroke="#000" stroke-width="0.6" transform="rotate(-90 108.90 237.80)">1.0</text>
<line x1="112.70" y1="390.20" x2="280.70" y2="390.20" stroke="#000" stroke-width="0.9"/>
<line x1="112.70" y1="390.20" x2="112.70" y2="393.20" stroke="#000" stroke-width="0.9"/>
<text x="112.70" y="402.00" font-size="8.5" text-anchor="middle" fill="#000" stroke="#000" stroke-width="0.6">0</text>
<line x1="146.30" y1="390.20" x2="146.30" y2="393.20" stroke="#000" stroke-width="0.9"/>
<text x="146.30" y="402.00" font-size="8.5" text-anchor="middle" fill="#000" stroke="#000" stroke-width="0.6">1</text>
<line x1="179.90" y1="390.20" x2="179.90" y2="393.20" stroke="#000" stroke-width="0.9"/>
<text x="179.90" y="402.00" font-size="8.5" text-anchor="middle" fill="#000" stroke="#000" stroke-width="0.6">2</text>
<line x1="213.50" y1="390.20" x2="213.50" y2="393.20" stroke="#000" stroke-width="0.9"/>
<text x="213.50" y="402.00" font-size="8.5" text-anchor="middle" fill="#000" stroke="#000" stroke-width="0.6">3</text>
<line x1="247.10" y1="390.20" x2="247.10" y2="393.20" stroke="#000" stroke-width="0.9"/>
<text x="247.10" y="402.00" font-size="8.5" text-anchor="middle" fill="#000" stroke="#000" stroke-width="0.6">4</text>
<line x1="280.70" y1="390.20" x2="280.70" y2="393.20" stroke="#000" stroke-width="0.9"/>
<text x="280.70" y="402.00" font-size="8.5" text-anchor="middle" fill="#000" stroke="#000" stroke-width="0.6">5</text>
<text x="212.90" y="409.00" font-size="8.5" text-anchor="middle" textLength="56" lengthAdjust="spacingAndGlyphs" fill="#000" stroke="#000" stroke-width="0.6">Years from CR</text>
<text x="98.70" y="305.90" font-size="8.5" text-anchor="middle" fill="#000" stroke="#000" stroke-width="0.6" transform="rotate(-90 98.70 305.90)">Probability</text>
<text x="125.80" y="347.51" font-size="8.5" text-anchor="middle" fill="#000" stroke="#000" stroke-width="0.6">NRD</text>
<text x="150.00" y="347.51" font-size="8.5" text-anchor="middle" fill="#000" stroke="#000" stroke-width="0.6">0.03</text>
<text x="183.60" y="347.51" font-size="8.5" text-anchor="middle" fill="#000" stroke="#000" stroke-width="0.6">0.04</text>
<text x="217.20" y="347.51" font-size="8.5" text-anchor="middle" fill="#000" stroke="#000" stroke-width="0.6">0.04</text>
<text x="250.80" y="347.51" font-size="8.5" text-anchor="middle" fill="#000" stroke="#000" stroke-width="0.6">0.05</text>
<text x="284.40" y="347.51" font-size="8.5" text-anchor="middle" fill="#000" stroke="#000" stroke-width="0.6">0.05</text>
<text x="125.80" y="362.34" font-size="8.5" text-anchor="middle" fill="#000" stroke="#000" stroke-width="0.6">PRD</text>
<text x="150.00" y="362.34" font-size="8.5" text-anchor="middle" fill="#000" stroke="#000" stroke-width="0.6">0.13</text>
<text x="183.60" y="362.34" font-size="8.5" text-anchor="middle" fill="#000" stroke="#000" stroke-width="0.6">0.33</text>
<text x="217.20" y="362.34" font-size="8.5" text-anchor="middle" fill="#000" stroke="#000" stroke-width="0.6">0.41</text>
<text x="250.80" y="362.34" font-size="8.5" text-anchor="middle" fill="#000" stroke="#000" stroke-width="0.6">0.46</text>
<text x="284.40" y="362.34" font-size="8.5" text-anchor="middle" fill="#000" stroke="#000" stroke-width="0.6">0.49</text>
<text x="125.80" y="377.17" font-size="8.5" text-anchor="middle" fill="#000" stroke="#000" stroke-width="0.6">AAR</text>
<text x="150.00" y="377.17" font-size="8.5" text-anchor="middle" fill="#000" stroke="#000" stroke-width="0.6">0.26</text>
<text x="183.60" y="377.17" font-size="8.5" text-anchor="middle" fill="#000" stroke="#000" stroke-width="0.6">0.21</text>
<text x="217.20" y="377.17" font-size="8.5" text-anchor="middle" fill="#000" stroke="#000" stroke-width="0.6">0.18</text>
<text x="250.80" y="377.17" font-size="8.5" text-anchor="middle" fill="#000" stroke="#000" stroke-width="0.6">0.15</text>
<text x="284.40" y="377.17" font-size="8.5" text-anchor="middle" fill="#000" stroke="#000" stroke-width="0.6">0.14</text>
<g clip-path="url(#clipd)">
<rect x="329.6" y="240.5" width="185.0" height="0.8" fill="#a5c4de"/>
<rect x="329.6" y="241.2" width="185.0" height="148.3" fill="#d5c1dd"/>
<polygon points="329.80,241.20 330.47,241.20 331.14,241.20 331.82,241.20 332.49,241.20 333.16,241.20 333.83,241.20 334.50,241.20 335.18,241.20 335.85,241.20 336.52,241.20 337.19,241.20 337.86,241.20 338.54,241.20 339.21,241.20 339.88,241.20 340.55,241.20 341.22,241.20 341.90,241.20 342.57,241.20 343.24,241.20 343.91,241.20 344.58,241.20 345.26,241.20 345.93,241.20 346.60,241.20 347.27,241.20 347.94,241.20 348.62,241.20 349.29,241.20 349.96,241.20 350.63,241.20 351.30,241.20 351.98,241.20 352.65,241.20 353.32,241.20 353.99,241.20 354.66,241.20 355.34,241.20 356.01,241.20 356.68,241.20 357.35,241.20 358.02,241.20 358.70,241.20 359.37,241.20 360.04,241.20 360.71,241.20 361.38,241.20 362.06,241.20 362.73,241.20 363.40,241.20 364.07,241.20 364.74,241.20 365.42,241.20 366.09,241.20 366.76,241.20 367.43,241.20 368.10,241.20 368.78,241.20 369.45,241.20 370.12,241.20 370.79,241.20 371.46,241.20 372.14,241.20 372.81,241.20 373.48,241.20 374.15,241.20 374.82,241.20 375.50,241.20 376.17,241.20 376.84,241.20 377.51,241.20 378.18,241.20 378.86,241.20 379.53,241.20 380.20,241.20 380.87,241.20 381.54,241.20 382.22,241.20 382.89,241.20 383.56,241.20 384.23,241.20 384.90,241.20 385.58,241.20 386.25,241.20 386.92,241.20 387.59,241.20 388.26,241.20 388.94,241.20 389.61,241.20 390.28,241.20 390.95,241.20 391.62,241.20 392.30,241.20 392.97,241.20 393.64,241.20 394.31,241.20 394.98,241.20 395.66,241.20 396.33,241.20 397.00,241.20 397.67,241.20 398.34,241.20 399.02,241.20 399.69,241.20 400.36,241.20 401.03,241.20 401.70,241.20 402.38,241.20 403.05,241.20 403.72,241.20 404.39,241.20 405.06,241.20 405.74,241.20 406.41,241.20 407.08,241.20 407.75,241.20 408.42,241.20 409.10,241.20 409.77,241.20 410.44,241.20 411.11,241.20 411.78,241.20 412.46,241.20 413.13,241.20 413.80,241.20 414.47,241.20 415.14,241.20 415.82,241.20 416.49,241.20 417.16,241.20 417.83,241.20 418.50,241.20 419.18,241.20 419.85,241.20 420.52,241.20 421.19,241.20 421.86,241.20 422.54,241.20 423.21,241.20 423.88,241.20 424.55,241.20 425.22,241.20 425.90,241.20 426.57,241.20 427.24,241.20 427.91,241.20 428.58,241.20 429.26,241.20 429.93,241.20 430.60,241.20 431.27,241.20 431.94,241.20 432.62,241.20 433.29,241.20 433.96,241.20 434.63,241.20 435.30,241.20 435.98,241.20 436.65,241.20 437.32,241.20 437.99,241.20 438.66,241.20 439.34,241.20 440.01,241.20 440.68,241.20 441.35,241.20 442.02,241.20 442.70,241.20 443.37,241.20 444.04,241.20 444.71,241.20 445.38,241.20 446.06,241.20 446.73,241.20 447.40,241.20 448.07,241.20 448.74,241.20 449.42,241.20 450.09,241.20 450.76,241.20 451.43,241.20 452.10,241.20 452.78,241.20 453.45,241.20 454.12,241.20 454.79,241.20 455.46,241.20 456.14,241.20 456.81,241.20 457.48,241.20 458.15,241.20 458.82,241.20 459.50,241.20 460.17,241.20 460.84,241.20 461.51,241.20 462.18,241.20 462.86,241.20 463.53,241.20 464.20,241.20 464.87,241.20 465.54,241.20 466.22,241.20 466.89,241.20 467.56,241.20 468.23,241.20 468.90,241.20 469.58,241.20 470.25,241.20 470.92,241.20 471.59,241.20 472.26,241.20 472.94,241.20 473.61,241.20 474.28,241.20 474.95,241.20 475.62,241.20 476.30,241.20 476.97,241.20 477.64,241.20 478.31,241.20 478.98,241.20 479.66,241.20 480.33,241.20 481.00,241.20 481.67,241.20 482.34,241.20 483.02,241.20 483.69,241.20 484.36,241.20 485.03,241.20 485.70,241.20 486.38,241.20 487.05,241.20 487.72,241.20 488.39,241.20 489.06,241.20 489.74,241.20 490.41,241.20 491.08,241.20 491.75,241.20 492.42,241.20 493.10,241.20 493.77,241.20 494.44,241.20 495.11,241.20 495.78,241.20 496.46,241.20 497.13,241.20 497.80,241.20 498.47,241.20 499.14,241.20 499.82,241.20 500.49,241.20 501.16,241.20 501.83,241.20 502.50,241.20 503.18,241.20 503.85,241.20 504.52,241.20 505.19,241.20 505.86,241.20 506.54,241.20 507.21,241.20 507.88,241.20 508.55,241.20 509.22,241.20 509.90,241.20 510.57,241.20 511.24,241.20 511.91,241.20 512.58,241.20 513.26,241.20 513.93,241.20 514.60,241.20 514.60,256.77 513.93,256.76 513.26,256.74 512.58,256.73 511.91,256.71 511.24,256.70 510.57,256.68 509.90,256.67 509.22,256.65 508.55,256.64 507.88,256.62 507.21,256.61 506.54,256.59 505.86,256.58 505.19,256.56 504.52,256.55 503.85,256.53 503.18,256.52 502.50,256.50 501.83,256.49 501.16,256.47 500.49,256.46 499.82,256.45 499.14,256.43 498.47,256.42 497.80,256.40 497.13,256.39 496.46,256.37 495.78,256.36 495.11,256.34 494.44,256.33 493.77,256.31 493.10,256.30 492.42,256.28 491.75,256.27 491.08,256.25 490.41,256.24 489.74,256.22 489.06,256.21 488.39,256.19 487.72,256.18 487.05,256.16 486.38,256.15 485.70,256.13 485.03,256.12 484.36,256.10 483.69,256.09 483.02,256.07 482.34,256.06 481.67,256.04 481.00,256.03 480.33,256.02 479.66,256.00 478.98,255.99 478.31,255.97 477.64,255.96 476.97,255.94 476.30,255.93 475.62,255.92 474.95,255.90 474.28,255.89 473.61,255.87 472.94,255.86 472.26,255.85 471.59,255.83 470.92,255.82 470.25,255.81 469.58,255.79 468.90,255.78 468.23,255.77 467.56,255.75 466.89,255.74 466.22,255.73 465.54,255.71 464.87,255.70 464.20,255.68 463.53,255.67 462.86,255.66 462.18,255.64 461.51,255.63 460.84,255.61 460.17,255.60 459.50,255.59 458.82,255.57 458.15,255.56 457.48,255.54 456.81,255.53 456.14,255.51 455.46,255.49 454.79,255.48 454.12,255.46 453.45,255.45 452.78,255.43 452.10,255.41 451.43,255.40 450.76,255.38 450.09,255.36 449.42,255.34 448.74,255.33 448.07,255.31 447.40,255.29 446.73,255.27 446.06,255.25 445.38,255.23 444.71,255.21 444.04,255.19 443.37,255.17 442.70,255.15 442.02,255.12 441.35,255.10 440.68,255.08 440.01,255.05 439.34,255.03 438.66,255.01 437.99,254.98 437.32,254.96 436.65,254.93 435.98,254.91 435.30,254.88 434.63,254.86 433.96,254.83 433.29,254.80 432.62,254.78 431.94,254.75 431.27,254.72 430.60,254.70 429.93,254.67 429.26,254.64 428.58,254.61 427.91,254.58 427.24,254.56 426.57,254.53 425.90,254.50 425.22,254.47 424.55,254.44 423.88,254.41 423.21,254.38 422.54,254.36 421.86,254.33 421.19,254.30 420.52,254.27 419.85,254.24 419.18,254.21 418.50,254.18 417.83,254.15 417.16,254.12 416.49,254.09 415.82,254.06 415.14,254.03 414.47,254.00 413.80,253.97 413.13,253.93 412.46,253.90 411.78,253.87 411.11,253.83 410.44,253.80 409.77,253.76 409.10,253.73 408.42,253.69 407.75,253.65 407.08,253.61 406.41,253.57 405.74,253.53 405.06,253.49 404.39,253.45 403.72,253.41 403.05,253.36 402.38,253.31 401.70,253.27 401.03,253.22 400.36,253.17 399.69,253.11 399.02,253.06 398.34,253.01 397.67,252.95 397.00,252.89 396.33,252.83 395.66,252.77 394.98,252.71 394.31,252.64 393.64,252.58 392.97,252.51 392.30,252.44 391.62,252.37 390.95,252.30 390.28,252.23 389.61,252.15 388.94,252.08 388.26,252.00 387.59,251.92 386.92,251.84 386.25,251.76 385.58,251.68 384.90,251.59 384.23,251.51 383.56,251.42 382.89,251.33 382.22,251.24 381.54,251.14 380.87,251.04 380.20,250.94 379.53,250.82 378.86,250.71 378.18,250.59 377.51,250.47 376.84,250.34 376.17,250.21 375.50,250.07 374.82,249.94 374.15,249.80 373.48,249.66 372.81,249.52 372.14,249.37 371.46,249.23 370.79,249.08 370.12,248.93 369.45,248.78 368.78,248.64 368.10,248.49 367.43,248.34 366.76,248.20 366.09,248.05 365.42,247.91 364.74,247.76 364.07,247.62 363.40,247.48 362.73,247.35 362.06,247.21 361.38,247.08 360.71,246.94 360.04,246.81 359.37,246.67 358.70,246.54 358.02,246.40 357.35,246.26 356.68,246.12 356.01,245.99 355.34,245.85 354.66,245.71 353.99,245.57 353.32,245.44 352.65,245.30 351.98,245.16 351.30,245.03 350.63,244.89 349.96,244.76 349.29,244.62 348.62,244.49 347.94,244.36 347.27,244.23 346.60,244.09 345.93,243.96 345.26,243.84 344.58,243.71 343.91,243.58 343.24,243.46 342.57,243.34 341.90,243.21 341.22,243.08 340.55,242.95 339.88,242.80 339.21,242.66 338.54,242.51 337.86,242.36 337.19,242.21 336.52,242.06 335.85,241.92 335.18,241.79 334.50,241.67 333.83,241.55 333.16,241.45 332.49,241.37 331.82,241.30 331.14,241.24 330.47,241.21 329.80,241.20" fill="#a5c4de"/>
<polygon points="329.80,241.20 330.47,241.21 331.14,241.24 331.82,241.30 332.49,241.37 333.16,241.45 333.83,241.55 334.50,241.67 335.18,241.79 335.85,241.92 336.52,242.06 337.19,242.21 337.86,242.36 338.54,242.51 339.21,242.66 339.88,242.80 340.55,242.95 341.22,243.08 341.90,243.21 342.57,243.34 343.24,243.46 343.91,243.58 344.58,243.71 345.26,243.84 345.93,243.96 346.60,244.09 347.27,244.23 347.94,244.36 348.62,244.49 349.29,244.62 349.96,244.76 350.63,244.89 351.30,245.03 351.98,245.16 352.65,245.30 353.32,245.44 353.99,245.57 354.66,245.71 355.34,245.85 356.01,245.99 356.68,246.12 357.35,246.26 358.02,246.40 358.70,246.54 359.37,246.67 360.04,246.81 360.71,246.94 361.38,247.08 362.06,247.21 362.73,247.35 363.40,247.48 364.07,247.62 364.74,247.76 365.42,247.91 366.09,248.05 366.76,248.20 367.43,248.34 368.10,248.49 368.78,248.64 369.45,248.78 370.12,248.93 370.79,249.08 371.46,249.23 372.14,249.37 372.81,249.52 373.48,249.66 374.15,249.80 374.82,249.94 375.50,250.07 376.17,250.21 376.84,250.34 377.51,250.47 378.18,250.59 378.86,250.71 379.53,250.82 380.20,250.94 380.87,251.04 381.54,251.14 382.22,251.24 382.89,251.33 383.56,251.42 384.23,251.51 384.90,251.59 385.58,251.68 386.25,251.76 386.92,251.84 387.59,251.92 388.26,252.00 388.94,252.08 389.61,252.15 390.28,252.23 390.95,252.30 391.62,252.37 392.30,252.44 392.97,252.51 393.64,252.58 394.31,252.64 394.98,252.71 395.66,252.77 396.33,252.83 397.00,252.89 397.67,252.95 398.34,253.01 399.02,253.06 399.69,253.11 400.36,253.17 401.03,253.22 401.70,253.27 402.38,253.31 403.05,253.36 403.72,253.41 404.39,253.45 405.06,253.49 405.74,253.53 406.41,253.57 407.08,253.61 407.75,253.65 408.42,253.69 409.10,253.73 409.77,253.76 410.44,253.80 411.11,253.83 411.78,253.87 412.46,253.90 413.13,253.93 413.80,253.97 414.47,254.00 415.14,254.03 415.82,254.06 416.49,254.09 417.16,254.12 417.83,254.15 418.50,254.18 419.18,254.21 419.85,254.24 420.52,254.27 421.19,254.30 421.86,254.33 422.54,254.36 423.21,254.38 423.88,254.41 424.55,254.44 425.22,254.47 425.90,254.50 426.57,254.53 427.24,254.56 427.91,254.58 428.58,254.61 429.26,254.64 429.93,254.67 430.60,254.70 431.27,254.72 431.94,254.75 432.62,254.78 433.29,254.80 433.96,254.83 434.63,254.86 435.30,254.88 435.98,254.91 436.65,254.93 437.32,254.96 437.99,254.98 438.66,255.01 439.34,255.03 440.01,255.05 440.68,255.08 441.35,255.10 442.02,255.12 442.70,255.15 443.37,255.17 444.04,255.19 444.71,255.21 445.38,255.23 446.06,255.25 446.73,255.27 447.40,255.29 448.07,255.31 448.74,255.33 449.42,255.34 450.09,255.36 450.76,255.38 451.43,255.40 452.10,255.41 452.78,255.43 453.45,255.45 454.12,255.46 454.79,255.48 455.46,255.49 456.14,255.51 456.81,255.53 457.48,255.54 458.15,255.56 458.82,255.57 459.50,255.59 460.17,255.60 460.84,255.61 461.51,255.63 462.18,255.64 462.86,255.66 463.53,255.67 464.20,255.68 464.87,255.70 465.54,255.71 466.22,255.73 466.89,255.74 467.56,255.75 468.23,255.77 468.90,255.78 469.58,255.79 470.25,255.81 470.92,255.82 471.59,255.83 472.26,255.85 472.94,255.86 473.61,255.87 474.28,255.89 474.95,255.90 475.62,255.92 476.30,255.93 476.97,255.94 477.64,255.96 478.31,255.97 478.98,255.99 479.66,256.00 480.33,256.02 481.00,256.03 481.67,256.04 482.34,256.06 483.02,256.07 483.69,256.09 484.36,256.10 485.03,256.12 485.70,256.13 486.38,256.15 487.05,256.16 487.72,256.18 488.39,256.19 489.06,256.21 489.74,256.22 490.41,256.24 491.08,256.25 491.75,256.27 492.42,256.28 493.10,256.30 493.77,256.31 494.44,256.33 495.11,256.34 495.78,256.36 496.46,256.37 497.13,256.39 497.80,256.40 498.47,256.42 499.14,256.43 499.82,256.45 500.49,256.46 501.16,256.47 501.83,256.49 502.50,256.50 503.18,256.52 503.85,256.53 504.52,256.55 505.19,256.56 505.86,256.58 506.54,256.59 507.21,256.61 507.88,256.62 508.55,256.64 509.22,256.65 509.90,256.67 510.57,256.68 511.24,256.70 511.91,256.71 512.58,256.73 513.26,256.74 513.93,256.76 514.60,256.77 514.60,298.30 513.93,298.25 513.26,298.20 512.58,298.15 511.91,298.11 511.24,298.06 510.57,298.02 509.90,297.98 509.22,297.93 508.55,297.89 507.88,297.84 507.21,297.79 506.54,297.74 505.86,297.69 505.19,297.64 504.52,297.59 503.85,297.53 503.18,297.47 502.50,297.41 501.83,297.34 501.16,297.26 500.49,297.17 499.82,297.08 499.14,296.98 498.47,296.88 497.80,296.78 497.13,296.67 496.46,296.56 495.78,296.45 495.11,296.34 494.44,296.23 493.77,296.13 493.10,296.02 492.42,295.92 491.75,295.83 491.08,295.74 490.41,295.66 489.74,295.59 489.06,295.52 488.39,295.46 487.72,295.39 487.05,295.33 486.38,295.27 485.70,295.22 485.03,295.16 484.36,295.11 483.69,295.05 483.02,295.00 482.34,294.95 481.67,294.90 481.00,294.85 480.33,294.80 479.66,294.75 478.98,294.70 478.31,294.64 477.64,294.59 476.97,294.53 476.30,294.48 475.62,294.42 474.95,294.36 474.28,294.29 473.61,294.23 472.94,294.16 472.26,294.09 471.59,294.02 470.92,293.95 470.25,293.88 469.58,293.81 468.90,293.74 468.23,293.67 467.56,293.59 466.89,293.52 466.22,293.44 465.54,293.36 464.87,293.28 464.20,293.20 463.53,293.12 462.86,293.04 462.18,292.96 461.51,292.88 460.84,292.79 460.17,292.70 459.50,292.62 458.82,292.53 458.15,292.43 457.48,292.34 456.81,292.24 456.14,292.15 455.46,292.05 454.79,291.95 454.12,291.84 453.45,291.74 452.78,291.63 452.10,291.53 451.43,291.42 450.76,291.31 450.09,291.20 449.42,291.09 448.74,290.98 448.07,290.87 447.40,290.76 446.73,290.65 446.06,290.54 445.38,290.43 444.71,290.31 444.04,290.20 443.37,290.09 442.70,289.98 442.02,289.87 441.35,289.76 440.68,289.65 440.01,289.55 439.34,289.44 438.66,289.33 437.99,289.23 437.32,289.13 436.65,289.03 435.98,288.93 435.30,288.83 434.63,288.73 433.96,288.63 433.29,288.53 432.62,288.44 431.94,288.34 431.27,288.24 430.60,288.14 429.93,288.04 429.26,287.93 428.58,287.83 427.91,287.73 427.24,287.62 426.57,287.51 425.90,287.40 425.22,287.29 424.55,287.17 423.88,287.06 423.21,286.94 422.54,286.81 421.86,286.68 421.19,286.55 420.52,286.42 419.85,286.28 419.18,286.14 418.50,285.99 417.83,285.83 417.16,285.66 416.49,285.49 415.82,285.31 415.14,285.12 414.47,284.94 413.80,284.74 413.13,284.55 412.46,284.35 411.78,284.15 411.11,283.94 410.44,283.74 409.77,283.54 409.10,283.33 408.42,283.13 407.75,282.93 407.08,282.73 406.41,282.53 405.74,282.34 405.06,282.15 404.39,281.96 403.72,281.78 403.05,281.60 402.38,281.43 401.70,281.25 401.03,281.07 400.36,280.89 399.69,280.70 399.02,280.51 398.34,280.31 397.67,280.11 397.00,279.89 396.33,279.67 395.66,279.45 394.98,279.21 394.31,278.97 393.64,278.73 392.97,278.48 392.30,278.22 391.62,277.96 390.95,277.70 390.28,277.44 389.61,277.17 388.94,276.90 388.26,276.63 387.59,276.36 386.92,276.08 386.25,275.80 385.58,275.51 384.90,275.22 384.23,274.92 383.56,274.62 382.89,274.30 382.22,273.98 381.54,273.65 380.87,273.31 380.20,272.95 379.53,272.58 378.86,272.21 378.18,271.82 377.51,271.42 376.84,271.01 376.17,270.60 375.50,270.18 374.82,269.75 374.15,269.32 373.48,268.88 372.81,268.44 372.14,267.99 371.46,267.54 370.79,267.07 370.12,266.61 369.45,266.13 368.78,265.64 368.10,265.15 367.43,264.64 366.76,264.12 366.09,263.59 365.42,263.04 364.74,262.47 364.07,261.88 363.40,261.24 362.73,260.58 362.06,259.90 361.38,259.21 360.71,258.51 360.04,257.81 359.37,257.11 358.70,256.43 358.02,255.78 357.35,255.14 356.68,254.55 356.01,253.97 355.34,253.40 354.66,252.85 353.99,252.30 353.32,251.76 352.65,251.24 351.98,250.74 351.30,250.26 350.63,249.80 349.96,249.36 349.29,248.93 348.62,248.52 347.94,248.13 347.27,247.74 346.60,247.36 345.93,247.00 345.26,246.65 344.58,246.30 343.91,245.98 343.24,245.66 342.57,245.35 341.90,245.06 341.22,244.77 340.55,244.49 339.88,244.22 339.21,243.95 338.54,243.69 337.86,243.44 337.19,243.20 336.52,242.97 335.85,242.75 335.18,242.54 334.50,242.33 333.83,242.14 333.16,241.93 332.49,241.72 331.82,241.52 331.14,241.35 330.47,241.24 329.80,241.20" fill="#c2dfc0"/>
<polygon points="329.80,241.20 330.47,241.24 331.14,241.35 331.82,241.52 332.49,241.72 333.16,241.93 333.83,242.14 334.50,242.33 335.18,242.54 335.85,242.75 336.52,242.97 337.19,243.20 337.86,243.44 338.54,243.69 339.21,243.95 339.88,244.22 340.55,244.49 341.22,244.77 341.90,245.06 342.57,245.35 343.24,245.66 343.91,245.98 344.58,246.30 345.26,246.65 345.93,247.00 346.60,247.36 347.27,247.74 347.94,248.13 348.62,248.52 349.29,248.93 349.96,249.36 350.63,249.80 351.30,250.26 351.98,250.74 352.65,251.24 353.32,251.76 353.99,252.30 354.66,252.85 355.34,253.40 356.01,253.97 356.68,254.55 357.35,255.14 358.02,255.78 358.70,256.43 359.37,257.11 360.04,257.81 360.71,258.51 361.38,259.21 362.06,259.90 362.73,260.58 363.40,261.24 364.07,261.88 364.74,262.47 365.42,263.04 366.09,263.59 366.76,264.12 367.43,264.64 368.10,265.15 368.78,265.64 369.45,266.13 370.12,266.61 370.79,267.07 371.46,267.54 372.14,267.99 372.81,268.44 373.48,268.88 374.15,269.32 374.82,269.75 375.50,270.18 376.17,270.60 376.84,271.01 377.51,271.42 378.18,271.82 378.86,272.21 379.53,272.58 380.20,272.95 380.87,273.31 381.54,273.65 382.22,273.98 382.89,274.30 383.56,274.62 384.23,274.92 384.90,275.22 385.58,275.51 386.25,275.80 386.92,276.08 387.59,276.36 388.26,276.63 388.94,276.90 389.61,277.17 390.28,277.44 390.95,277.70 391.62,277.96 392.30,278.22 392.97,278.48 393.64,278.73 394.31,278.97 394.98,279.21 395.66,279.45 396.33,279.67 397.00,279.89 397.67,280.11 398.34,280.31 399.02,280.51 399.69,280.70 400.36,280.89 401.03,281.07 401.70,281.25 402.38,281.43 403.05,281.60 403.72,281.78 404.39,281.96 405.06,282.15 405.74,282.34 406.41,282.53 407.08,282.73 407.75,282.93 408.42,283.13 409.10,283.33 409.77,283.54 410.44,283.74 411.11,283.94 411.78,284.15 412.46,284.35 413.13,284.55 413.80,284.74 414.47,284.94 415.14,285.12 415.82,285.31 416.49,285.49 417.16,285.66 417.83,285.83 418.50,285.99 419.18,286.14 419.85,286.28 420.52,286.42 421.19,286.55 421.86,286.68 422.54,286.81 423.21,286.94 423.88,287.06 424.55,287.17 425.22,287.29 425.90,287.40 426.57,287.51 427.24,287.62 427.91,287.73 428.58,287.83 429.26,287.93 429.93,288.04 430.60,288.14 431.27,288.24 431.94,288.34 432.62,288.44 433.29,288.53 433.96,288.63 434.63,288.73 435.30,288.83 435.98,288.93 436.65,289.03 437.32,289.13 437.99,289.23 438.66,289.33 439.34,289.44 440.01,289.55 440.68,289.65 441.35,289.76 442.02,289.87 442.70,289.98 443.37,290.09 444.04,290.20 444.71,290.31 445.38,290.43 446.06,290.54 446.73,290.65 447.40,290.76 448.07,290.87 448.74,290.98 449.42,291.09 450.09,291.20 450.76,291.31 451.43,291.42 452.10,291.53 452.78,291.63 453.45,291.74 454.12,291.84 454.79,291.95 455.46,292.05 456.14,292.15 456.81,292.24 457.48,292.34 458.15,292.43 458.82,292.53 459.50,292.62 460.17,292.70 460.84,292.79 461.51,292.88 462.18,292.96 462.86,293.04 463.53,293.12 464.20,293.20 464.87,293.28 465.54,293.36 466.22,293.44 466.89,293.52 467.56,293.59 468.23,293.67 468.90,293.74 469.58,293.81 470.25,293.88 470.92,293.95 471.59,294.02 472.26,294.09 472.94,294.16 473.61,294.23 474.28,294.29 474.95,294.36 475.62,294.42 476.30,294.48 476.97,294.53 477.64,294.59 478.31,294.64 478.98,294.70 479.66,294.75 480.33,294.80 481.00,294.85 481.67,294.90 482.34,294.95 483.02,295.00 483.69,295.05 484.36,295.11 485.03,295.16 485.70,295.22 486.38,295.27 487.05,295.33 487.72,295.39 488.39,295.46 489.06,295.52 489.74,295.59 490.41,295.66 491.08,295.74 491.75,295.83 492.42,295.92 493.10,296.02 493.77,296.13 494.44,296.23 495.11,296.34 495.78,296.45 496.46,296.56 497.13,296.67 497.80,296.78 498.47,296.88 499.14,296.98 499.82,297.08 500.49,297.17 501.16,297.26 501.83,297.34 502.50,297.41 503.18,297.47 503.85,297.53 504.52,297.59 505.19,297.64 505.86,297.69 506.54,297.74 507.21,297.79 507.88,297.84 508.55,297.89 509.22,297.93 509.90,297.98 510.57,298.02 511.24,298.06 511.91,298.11 512.58,298.15 513.26,298.20 513.93,298.25 514.60,298.30 514.60,302.00 513.93,301.96 513.26,301.92 512.58,301.88 511.91,301.84 511.24,301.80 510.57,301.76 509.90,301.73 509.22,301.69 508.55,301.65 507.88,301.61 507.21,301.57 506.54,301.53 505.86,301.49 505.19,301.45 504.52,301.42 503.85,301.38 503.18,301.34 502.50,301.30 501.83,301.26 501.16,301.22 500.49,301.18 499.82,301.14 499.14,301.10 498.47,301.06 497.80,301.02 497.13,300.98 496.46,300.94 495.78,300.90 495.11,300.85 494.44,300.81 493.77,300.77 493.10,300.72 492.42,300.68 491.75,300.64 491.08,300.59 490.41,300.54 489.74,300.50 489.06,300.45 488.39,300.40 487.72,300.35 487.05,300.31 486.38,300.26 485.70,300.21 485.03,300.16 484.36,300.11 483.69,300.06 483.02,300.02 482.34,299.97 481.67,299.92 481.00,299.87 480.33,299.81 479.66,299.76 478.98,299.71 478.31,299.66 477.64,299.61 476.97,299.55 476.30,299.50 475.62,299.45 474.95,299.39 474.28,299.34 473.61,299.28 472.94,299.23 472.26,299.17 471.59,299.11 470.92,299.05 470.25,298.99 469.58,298.94 468.90,298.88 468.23,298.82 467.56,298.75 466.89,298.69 466.22,298.63 465.54,298.57 464.87,298.50 464.20,298.44 463.53,298.37 462.86,298.31 462.18,298.24 461.51,298.17 460.84,298.10 460.17,298.03 459.50,297.96 458.82,297.89 458.15,297.81 457.48,297.73 456.81,297.65 456.14,297.57 455.46,297.48 454.79,297.39 454.12,297.30 453.45,297.21 452.78,297.11 452.10,297.02 451.43,296.92 450.76,296.83 450.09,296.73 449.42,296.63 448.74,296.53 448.07,296.44 447.40,296.34 446.73,296.24 446.06,296.14 445.38,296.05 444.71,295.95 444.04,295.86 443.37,295.77 442.70,295.67 442.02,295.58 441.35,295.50 440.68,295.41 440.01,295.33 439.34,295.25 438.66,295.17 437.99,295.09 437.32,295.01 436.65,294.94 435.98,294.87 435.30,294.79 434.63,294.72 433.96,294.65 433.29,294.58 432.62,294.50 431.94,294.43 431.27,294.36 430.60,294.29 429.93,294.22 429.26,294.15 428.58,294.08 427.91,294.01 427.24,293.94 426.57,293.87 425.90,293.80 425.22,293.73 424.55,293.65 423.88,293.58 423.21,293.50 422.54,293.43 421.86,293.35 421.19,293.27 420.52,293.19 419.85,293.11 419.18,293.02 418.50,292.94 417.83,292.86 417.16,292.77 416.49,292.69 415.82,292.61 415.14,292.52 414.47,292.44 413.80,292.35 413.13,292.27 412.46,292.18 411.78,292.09 411.11,291.99 410.44,291.90 409.77,291.80 409.10,291.70 408.42,291.60 407.75,291.50 407.08,291.39 406.41,291.28 405.74,291.16 405.06,291.04 404.39,290.92 403.72,290.78 403.05,290.64 402.38,290.48 401.70,290.32 401.03,290.16 400.36,289.99 399.69,289.82 399.02,289.65 398.34,289.47 397.67,289.29 397.00,289.12 396.33,288.94 395.66,288.76 394.98,288.57 394.31,288.39 393.64,288.19 392.97,288.00 392.30,287.80 391.62,287.59 390.95,287.38 390.28,287.17 389.61,286.94 388.94,286.71 388.26,286.47 387.59,286.22 386.92,285.96 386.25,285.69 385.58,285.42 384.90,285.14 384.23,284.85 383.56,284.57 382.89,284.28 382.22,284.00 381.54,283.71 380.87,283.43 380.20,283.16 379.53,282.90 378.86,282.63 378.18,282.37 377.51,282.10 376.84,281.82 376.17,281.54 375.50,281.24 374.82,280.93 374.15,280.60 373.48,280.26 372.81,279.88 372.14,279.48 371.46,279.04 370.79,278.58 370.12,278.10 369.45,277.59 368.78,277.05 368.10,276.51 367.43,275.94 366.76,275.37 366.09,274.78 365.42,274.19 364.74,273.58 364.07,272.96 363.40,272.30 362.73,271.63 362.06,270.93 361.38,270.22 360.71,269.49 360.04,268.74 359.37,267.99 358.70,267.23 358.02,266.46 357.35,265.69 356.68,264.93 356.01,264.15 355.34,263.35 354.66,262.53 353.99,261.69 353.32,260.85 352.65,260.02 351.98,259.18 351.30,258.36 350.63,257.55 349.96,256.77 349.29,256.00 348.62,255.22 347.94,254.45 347.27,253.67 346.60,252.89 345.93,252.13 345.26,251.37 344.58,250.62 343.91,249.89 343.24,249.18 342.57,248.48 341.90,247.81 341.22,247.16 340.55,246.54 339.88,245.95 339.21,245.36 338.54,244.76 337.86,244.18 337.19,243.62 336.52,243.12 335.85,242.69 335.18,242.36 334.50,242.13 333.83,241.92 333.16,241.73 332.49,241.56 331.82,241.41 331.14,241.30 330.47,241.23 329.80,241.20" fill="#fcd49e"/>
<line x1="363.4" y1="241.2" x2="363.4" y2="389.5" stroke="#fff" stroke-opacity="0.25" stroke-width="1.6" stroke-dasharray="2,1.5"/>
<line x1="397.0" y1="241.2" x2="397.0" y2="389.5" stroke="#fff" stroke-opacity="0.25" stroke-width="1.6" stroke-dasharray="2,1.5"/>
<line x1="430.6" y1="241.2" x2="430.6" y2="389.5" stroke="#fff" stroke-opacity="0.25" stroke-width="1.6" stroke-dasharray="2,1.5"/>
<line x1="464.2" y1="241.2" x2="464.2" y2="389.5" stroke="#fff" stroke-opacity="0.25" stroke-width="1.6" stroke-dasharray="2,1.5"/>
<line x1="497.8" y1="241.2" x2="497.8" y2="389.5" stroke="#fff" stroke-opacity="0.25" stroke-width="1.6" stroke-dasharray="2,1.5"/>
<line x1="329.6" y1="359.8" x2="514.6" y2="359.8" stroke="#fff" stroke-opacity="0.25" stroke-width="1.6" stroke-dasharray="2,1.5"/>
<line x1="329.6" y1="330.2" x2="514.6" y2="330.2" stroke="#fff" stroke-opacity="0.25" stroke-width="1.6" stroke-dasharray="2,1.5"/>
<line x1="329.6" y1="300.5" x2="514.6" y2="300.5" stroke="#fff" stroke-opacity="0.25" stroke-width="1.6" stroke-dasharray="2,1.5"/>
<line x1="329.6" y1="270.9" x2="514.6" y2="270.9" stroke="#fff" stroke-opacity="0.25" stroke-width="1.6" stroke-dasharray="2,1.5"/>
<polyline points="329.80,241.20 330.47,241.20 331.14,241.21 331.82,241.23 332.49,241.26 333.16,241.29 333.83,241.32 334.50,241.36 335.18,241.40 335.85,241.45 336.52,241.50 337.19,241.56 337.86,241.62 338.54,241.68 339.21,241.77 339.88,241.90 340.55,242.05 341.22,242.23 341.90,242.43 342.57,242.65 343.24,242.89 343.91,243.15 344.58,243.41 345.26,243.69 345.93,243.97 346.60,244.26 347.27,244.54 347.94,244.83 348.62,245.11 349.29,245.39 349.96,245.65 350.63,245.91 351.30,246.17 351.98,246.43 352.65,246.70 353.32,246.97 353.99,247.25 354.66,247.53 355.34,247.81 356.01,248.10 356.68,248.39 357.35,248.69 358.02,248.99 358.70,249.30 359.37,249.61 360.04,249.93 360.71,250.26 361.38,250.59 362.06,250.94 362.73,251.28 363.40,251.65 364.07,252.05 364.74,252.47 365.42,252.91 366.09,253.36 366.76,253.81 367.43,254.26 368.10,254.69 368.78,255.11 369.45,255.51 370.12,255.88 370.79,256.23 371.46,256.57 372.14,256.90 372.81,257.22 373.48,257.53 374.15,257.84 374.82,258.14 375.50,258.44 376.17,258.73 376.84,259.02 377.51,259.30 378.18,259.58 378.86,259.86 379.53,260.14 380.20,260.41 380.87,260.69 381.54,260.96 382.22,261.24 382.89,261.52 383.56,261.80 384.23,262.08 384.90,262.37 385.58,262.66 386.25,262.95 386.92,263.24 387.59,263.54 388.26,263.83 388.94,264.12 389.61,264.41 390.28,264.70 390.95,264.98 391.62,265.27 392.30,265.54 392.97,265.81 393.64,266.08 394.31,266.34 394.98,266.59 395.66,266.84 396.33,267.07 397.00,267.30 397.67,267.52 398.34,267.72 399.02,267.92 399.69,268.10 400.36,268.28 401.03,268.44 401.70,268.60 402.38,268.75 403.05,268.89 403.72,269.03 404.39,269.16 405.06,269.29 405.74,269.41 406.41,269.53 407.08,269.65 407.75,269.77 408.42,269.89 409.10,270.01 409.77,270.12 410.44,270.24 411.11,270.36 411.78,270.48 412.46,270.60 413.13,270.73 413.80,270.86 414.47,270.99 415.14,271.13 415.82,271.27 416.49,271.41 417.16,271.56 417.83,271.70 418.50,271.85 419.18,271.99 419.85,272.14 420.52,272.29 421.19,272.43 421.86,272.58 422.54,272.72 423.21,272.87 423.88,273.01 424.55,273.14 425.22,273.28 425.90,273.41 426.57,273.54 427.24,273.67 427.91,273.79 428.58,273.90 429.26,274.02 429.93,274.12 430.60,274.23 431.27,274.33 431.94,274.42 432.62,274.52 433.29,274.61 433.96,274.71 434.63,274.80 435.30,274.88 435.98,274.97 436.65,275.06 437.32,275.14 437.99,275.22 438.66,275.30 439.34,275.38 440.01,275.46 440.68,275.53 441.35,275.61 442.02,275.68 442.70,275.76 443.37,275.83 444.04,275.90 444.71,275.97 445.38,276.04 446.06,276.11 446.73,276.18 447.40,276.25 448.07,276.32 448.74,276.38 449.42,276.45 450.09,276.51 450.76,276.58 451.43,276.64 452.10,276.70 452.78,276.77 453.45,276.83 454.12,276.89 454.79,276.95 455.46,277.01 456.14,277.07 456.81,277.13 457.48,277.19 458.15,277.25 458.82,277.31 459.50,277.36 460.17,277.42 460.84,277.48 461.51,277.53 462.18,277.59 462.86,277.65 463.53,277.70 464.20,277.76 464.87,277.81 465.54,277.87 466.22,277.92 466.89,277.98 467.56,278.03 468.23,278.09 468.90,278.14 469.58,278.19 470.25,278.25 470.92,278.30 471.59,278.36 472.26,278.41 472.94,278.46 473.61,278.52 474.28,278.57 474.95,278.63 475.62,278.68 476.30,278.73 476.97,278.79 477.64,278.84 478.31,278.90 478.98,278.95 479.66,279.00 480.33,279.06 481.00,279.11 481.67,279.17 482.34,279.22 483.02,279.27 483.69,279.33 484.36,279.38 485.03,279.43 485.70,279.48 486.38,279.54 487.05,279.59 487.72,279.64 488.39,279.69 489.06,279.74 489.74,279.79 490.41,279.84 491.08,279.89 491.75,279.94 492.42,279.99 493.10,280.04 493.77,280.09 494.44,280.13 495.11,280.18 495.78,280.22 496.46,280.27 497.13,280.32 497.80,280.36 498.47,280.40 499.14,280.45 499.82,280.49 500.49,280.53 501.16,280.57 501.83,280.61 502.50,280.65 503.18,280.69 503.85,280.72 504.52,280.76 505.19,280.79 505.86,280.83 506.54,280.86 507.21,280.89 507.88,280.93 508.55,280.96 509.22,280.99 509.90,281.02 510.57,281.05 511.24,281.08 511.91,281.11 512.58,281.14 513.26,281.18 513.93,281.21 514.60,281.24" fill="none" stroke="#000" stroke-width="1.1" stroke-linejoin="round"/>
<polyline points="329.80,241.20 330.47,241.24 331.14,241.35 331.82,241.52 332.49,241.73 333.16,241.98 333.83,242.26 334.50,242.54 335.18,242.84 335.85,243.21 336.52,243.65 337.19,244.15 337.86,244.69 338.54,245.26 339.21,245.83 339.88,246.39 340.55,246.95 341.22,247.51 341.90,248.09 342.57,248.69 343.24,249.29 343.91,249.90 344.58,250.53 345.26,251.17 345.93,251.83 346.60,252.49 347.27,253.17 347.94,253.87 348.62,254.57 349.29,255.29 349.96,256.03 350.63,256.80 351.30,257.61 351.98,258.46 352.65,259.34 353.32,260.24 353.99,261.14 354.66,262.04 355.34,262.93 356.01,263.79 356.68,264.63 357.35,265.45 358.02,266.27 358.70,267.10 359.37,267.92 360.04,268.73 360.71,269.53 361.38,270.32 362.06,271.10 362.73,271.86 363.40,272.60 364.07,273.31 364.74,274.00 365.42,274.67 366.09,275.31 366.76,275.93 367.43,276.54 368.10,277.13 368.78,277.72 369.45,278.28 370.12,278.84 370.79,279.39 371.46,279.94 372.14,280.47 372.81,281.00 373.48,281.53 374.15,282.05 374.82,282.57 375.50,283.08 376.17,283.58 376.84,284.08 377.51,284.57 378.18,285.05 378.86,285.52 379.53,285.99 380.20,286.44 380.87,286.89 381.54,287.32 382.22,287.75 382.89,288.18 383.56,288.59 384.23,289.00 384.90,289.40 385.58,289.80 386.25,290.18 386.92,290.57 387.59,290.94 388.26,291.31 388.94,291.67 389.61,292.02 390.28,292.37 390.95,292.72 391.62,293.06 392.30,293.39 392.97,293.72 393.64,294.04 394.31,294.36 394.98,294.67 395.66,294.97 396.33,295.27 397.00,295.56 397.67,295.84 398.34,296.12 399.02,296.39 399.69,296.65 400.36,296.91 401.03,297.16 401.70,297.41 402.38,297.66 403.05,297.90 403.72,298.14 404.39,298.38 405.06,298.62 405.74,298.85 406.41,299.09 407.08,299.33 407.75,299.57 408.42,299.81 409.10,300.05 409.77,300.29 410.44,300.52 411.11,300.76 411.78,300.99 412.46,301.22 413.13,301.45 413.80,301.67 414.47,301.89 415.14,302.11 415.82,302.32 416.49,302.53 417.16,302.73 417.83,302.93 418.50,303.12 419.18,303.31 419.85,303.49 420.52,303.66 421.19,303.83 421.86,304.00 422.54,304.17 423.21,304.33 423.88,304.50 424.55,304.66 425.22,304.81 425.90,304.97 426.57,305.12 427.24,305.27 427.91,305.42 428.58,305.57 429.26,305.71 429.93,305.85 430.60,305.99 431.27,306.13 431.94,306.27 432.62,306.40 433.29,306.54 433.96,306.67 434.63,306.80 435.30,306.93 435.98,307.05 436.65,307.18 437.32,307.30 437.99,307.43 438.66,307.55 439.34,307.67 440.01,307.79 440.68,307.90 441.35,308.02 442.02,308.13 442.70,308.24 443.37,308.35 444.04,308.46 444.71,308.57 445.38,308.67 446.06,308.78 446.73,308.88 447.40,308.98 448.07,309.08 448.74,309.18 449.42,309.28 450.09,309.38 450.76,309.48 451.43,309.57 452.10,309.67 452.78,309.76 453.45,309.86 454.12,309.95 454.79,310.05 455.46,310.14 456.14,310.24 456.81,310.33 457.48,310.42 458.15,310.52 458.82,310.61 459.50,310.71 460.17,310.80 460.84,310.90 461.51,310.99 462.18,311.09 462.86,311.19 463.53,311.29 464.20,311.39 464.87,311.49 465.54,311.59 466.22,311.69 466.89,311.79 467.56,311.89 468.23,311.99 468.90,312.10 469.58,312.20 470.25,312.30 470.92,312.40 471.59,312.50 472.26,312.60 472.94,312.70 473.61,312.80 474.28,312.90 474.95,312.99 475.62,313.09 476.30,313.18 476.97,313.28 477.64,313.37 478.31,313.46 478.98,313.55 479.66,313.64 480.33,313.73 481.00,313.81 481.67,313.90 482.34,313.98 483.02,314.06 483.69,314.14 484.36,314.21 485.03,314.29 485.70,314.36 486.38,314.43 487.05,314.49 487.72,314.56 488.39,314.62 489.06,314.67 489.74,314.73 490.41,314.78 491.08,314.83 491.75,314.88 492.42,314.92 493.10,314.96 493.77,314.99 494.44,315.03 495.11,315.06 495.78,315.09 496.46,315.12 497.13,315.16 497.80,315.19 498.47,315.23 499.14,315.26 499.82,315.30 500.49,315.35 501.16,315.39 501.83,315.44 502.50,315.50 503.18,315.56 503.85,315.63 504.52,315.71 505.19,315.79 505.86,315.88 506.54,315.98 507.21,316.08 507.88,316.19 508.55,316.29 509.22,316.40 509.90,316.52 510.57,316.63 511.24,316.74 511.91,316.85 512.58,316.96 513.26,317.07 513.93,317.18 514.60,317.28" fill="none" stroke="#000" stroke-width="1.1" stroke-linejoin="round"/>
<polyline points="329.80,241.20 330.47,241.24 331.14,241.35 331.82,241.52 332.49,241.72 333.16,241.93 333.83,242.14 334.50,242.33 335.18,242.54 335.85,242.75 336.52,242.97 337.19,243.20 337.86,243.44 338.54,243.69 339.21,243.95 339.88,244.22 340.55,244.49 341.22,244.77 341.90,245.06 342.57,245.35 343.24,245.66 343.91,245.98 344.58,246.30 345.26,246.65 345.93,247.00 346.60,247.36 347.27,247.74 347.94,248.13 348.62,248.52 349.29,248.93 349.96,249.36 350.63,249.80 351.30,250.26 351.98,250.74 352.65,251.24 353.32,251.76 353.99,252.30 354.66,252.85 355.34,253.40 356.01,253.97 356.68,254.55 357.35,255.14 358.02,255.78 358.70,256.43 359.37,257.11 360.04,257.81 360.71,258.51 361.38,259.21 362.06,259.90 362.73,260.58 363.40,261.24 364.07,261.88 364.74,262.47 365.42,263.04 366.09,263.59 366.76,264.12 367.43,264.64 368.10,265.15 368.78,265.64 369.45,266.13 370.12,266.61 370.79,267.07 371.46,267.54 372.14,267.99 372.81,268.44 373.48,268.88 374.15,269.32 374.82,269.75 375.50,270.18 376.17,270.60 376.84,271.01 377.51,271.42 378.18,271.82 378.86,272.21 379.53,272.58 380.20,272.95 380.87,273.31 381.54,273.65 382.22,273.98 382.89,274.30 383.56,274.62 384.23,274.92 384.90,275.22 385.58,275.51 386.25,275.80 386.92,276.08 387.59,276.36 388.26,276.63 388.94,276.90 389.61,277.17 390.28,277.44 390.95,277.70 391.62,277.96 392.30,278.22 392.97,278.48 393.64,278.73 394.31,278.97 394.98,279.21 395.66,279.45 396.33,279.67 397.00,279.89 397.67,280.11 398.34,280.31 399.02,280.51 399.69,280.70 400.36,280.89 401.03,281.07 401.70,281.25 402.38,281.43 403.05,281.60 403.72,281.78 404.39,281.96 405.06,282.15 405.74,282.34 406.41,282.53 407.08,282.73 407.75,282.93 408.42,283.13 409.10,283.33 409.77,283.54 410.44,283.74 411.11,283.94 411.78,284.15 412.46,284.35 413.13,284.55 413.80,284.74 414.47,284.94 415.14,285.12 415.82,285.31 416.49,285.49 417.16,285.66 417.83,285.83 418.50,285.99 419.18,286.14 419.85,286.28 420.52,286.42 421.19,286.55 421.86,286.68 422.54,286.81 423.21,286.94 423.88,287.06 424.55,287.17 425.22,287.29 425.90,287.40 426.57,287.51 427.24,287.62 427.91,287.73 428.58,287.83 429.26,287.93 429.93,288.04 430.60,288.14 431.27,288.24 431.94,288.34 432.62,288.44 433.29,288.53 433.96,288.63 434.63,288.73 435.30,288.83 435.98,288.93 436.65,289.03 437.32,289.13 437.99,289.23 438.66,289.33 439.34,289.44 440.01,289.55 440.68,289.65 441.35,289.76 442.02,289.87 442.70,289.98 443.37,290.09 444.04,290.20 444.71,290.31 445.38,290.43 446.06,290.54 446.73,290.65 447.40,290.76 448.07,290.87 448.74,290.98 449.42,291.09 450.09,291.20 450.76,291.31 451.43,291.42 452.10,291.53 452.78,291.63 453.45,291.74 454.12,291.84 454.79,291.95 455.46,292.05 456.14,292.15 456.81,292.24 457.48,292.34 458.15,292.43 458.82,292.53 459.50,292.62 460.17,292.70 460.84,292.79 461.51,292.88 462.18,292.96 462.86,293.04 463.53,293.12 464.20,293.20 464.87,293.28 465.54,293.36 466.22,293.44 466.89,293.52 467.56,293.59 468.23,293.67 468.90,293.74 469.58,293.81 470.25,293.88 470.92,293.95 471.59,294.02 472.26,294.09 472.94,294.16 473.61,294.23 474.28,294.29 474.95,294.36 475.62,294.42 476.30,294.48 476.97,294.53 477.64,294.59 478.31,294.64 478.98,294.70 479.66,294.75 480.33,294.80 481.00,294.85 481.67,294.90 482.34,294.95 483.02,295.00 483.69,295.05 484.36,295.11 485.03,295.16 485.70,295.22 486.38,295.27 487.05,295.33 487.72,295.39 488.39,295.46 489.06,295.52 489.74,295.59 490.41,295.66 491.08,295.74 491.75,295.83 492.42,295.92 493.10,296.02 493.77,296.13 494.44,296.23 495.11,296.34 495.78,296.45 496.46,296.56 497.13,296.67 497.80,296.78 498.47,296.88 499.14,296.98 499.82,297.08 500.49,297.17 501.16,297.26 501.83,297.34 502.50,297.41 503.18,297.47 503.85,297.53 504.52,297.59 505.19,297.64 505.86,297.69 506.54,297.74 507.21,297.79 507.88,297.84 508.55,297.89 509.22,297.93 509.90,297.98 510.57,298.02 511.24,298.06 511.91,298.11 512.58,298.15 513.26,298.20 513.93,298.25 514.60,298.30" fill="none" stroke="#000" stroke-width="2.2" stroke-linejoin="round"/>
</g>
<rect x="329.80" y="383.50" width="43.01" height="3.9" fill="#8b55a8"/>
<rect x="372.81" y="383.50" width="12.10" height="3.9" fill="#f0902f"/>
<circle cx="388.76" cy="385.40" r="3" fill="#9fd49a" opacity="0.7"/>
<path d="M384.06,382.20L390.46,388.60M384.06,388.60L390.46,382.20" stroke="#1a2a1a" stroke-width="1.3"/>
<line x1="330.10" y1="241.2" x2="330.10" y2="389.5" stroke="#a494ac" stroke-width="1.5"/>
<line x1="326.30" y1="389.50" x2="329.30" y2="389.50" stroke="#666" stroke-width="0.9"/>
<text x="326.00" y="386.10" font-size="8.5" text-anchor="middle" fill="#000" stroke="#000" stroke-width="0.6" transform="rotate(-90 326.00 386.10)">0.0</text>
<line x1="326.30" y1="359.84" x2="329.30" y2="359.84" stroke="#666" stroke-width="0.9"/>
<text x="326.00" y="356.44" font-size="8.5" text-anchor="middle" fill="#000" stroke="#000" stroke-width="0.6" transform="rotate(-90 326.00 356.44)">0.2</text>
<line x1="326.30" y1="330.18" x2="329.30" y2="330.18" stroke="#666" stroke-width="0.9"/>
<text x="326.00" y="326.78" font-size="8.5" text-anchor="middle" fill="#000" stroke="#000" stroke-width="0.6" transform="rotate(-90 326.00 326.78)">0.4</text>
<line x1="326.30" y1="300.52" x2="329.30" y2="300.52" stroke="#666" stroke-width="0.9"/>
<text x="326.00" y="297.12" font-size="8.5" text-anchor="middle" fill="#000" stroke="#000" stroke-width="0.6" transform="rotate(-90 326.00 297.12)">0.6</text>
<line x1="326.30" y1="270.86" x2="329.30" y2="270.86" stroke="#666" stroke-width="0.9"/>
<text x="326.00" y="267.46" font-size="8.5" text-anchor="middle" fill="#000" stroke="#000" stroke-width="0.6" transform="rotate(-90 326.00 267.46)">0.8</text>
<line x1="326.30" y1="241.20" x2="329.30" y2="241.20" stroke="#666" stroke-width="0.9"/>
<text x="326.00" y="237.80" font-size="8.5" text-anchor="middle" fill="#000" stroke="#000" stroke-width="0.6" transform="rotate(-90 326.00 237.80)">1.0</text>
<line x1="329.80" y1="390.20" x2="497.80" y2="390.20" stroke="#000" stroke-width="0.9"/>
<line x1="329.80" y1="390.20" x2="329.80" y2="393.20" stroke="#000" stroke-width="0.9"/>
<text x="329.80" y="402.00" font-size="8.5" text-anchor="middle" fill="#000" stroke="#000" stroke-width="0.6">0</text>
<line x1="363.40" y1="390.20" x2="363.40" y2="393.20" stroke="#000" stroke-width="0.9"/>
<text x="363.40" y="402.00" font-size="8.5" text-anchor="middle" fill="#000" stroke="#000" stroke-width="0.6">1</text>
<line x1="397.00" y1="390.20" x2="397.00" y2="393.20" stroke="#000" stroke-width="0.9"/>
<text x="397.00" y="402.00" font-size="8.5" text-anchor="middle" fill="#000" stroke="#000" stroke-width="0.6">2</text>
<line x1="430.60" y1="390.20" x2="430.60" y2="393.20" stroke="#000" stroke-width="0.9"/>
<text x="430.60" y="402.00" font-size="8.5" text-anchor="middle" fill="#000" stroke="#000" stroke-width="0.6">3</text>
<line x1="464.20" y1="390.20" x2="464.20" y2="393.20" stroke="#000" stroke-width="0.9"/>
<text x="464.20" y="402.00" font-size="8.5" text-anchor="middle" fill="#000" stroke="#000" stroke-width="0.6">4</text>
<line x1="497.80" y1="390.20" x2="497.80" y2="393.20" stroke="#000" stroke-width="0.9"/>
<text x="497.80" y="402.00" font-size="8.5" text-anchor="middle" fill="#000" stroke="#000" stroke-width="0.6">5</text>
<text x="430.00" y="408.60" font-size="8.5" text-anchor="middle" textLength="56" lengthAdjust="spacingAndGlyphs" fill="#000" stroke="#000" stroke-width="0.6">Years from CR</text>
<text x="315.80" y="305.90" font-size="8.5" text-anchor="middle" fill="#000" stroke="#000" stroke-width="0.6" transform="rotate(-90 315.80 305.90)">Probability</text>
<text x="342.90" y="347.51" font-size="8.5" text-anchor="middle" fill="#000" stroke="#000" stroke-width="0.6">NRD</text>
<text x="367.10" y="347.51" font-size="8.5" text-anchor="middle" fill="#000" stroke="#000" stroke-width="0.6">0.05</text>
<text x="400.70" y="347.51" font-size="8.5" text-anchor="middle" fill="#000" stroke="#000" stroke-width="0.6">0.08</text>
<text x="434.30" y="347.51" font-size="8.5" text-anchor="middle" fill="#000" stroke="#000" stroke-width="0.6">0.09</text>
<text x="467.90" y="347.51" font-size="8.5" text-anchor="middle" fill="#000" stroke="#000" stroke-width="0.6">0.09</text>
<text x="501.50" y="347.51" font-size="8.5" text-anchor="middle" fill="#000" stroke="#000" stroke-width="0.6">0.10</text>
<text x="342.90" y="362.34" font-size="8.5" text-anchor="middle" fill="#000" stroke="#000" stroke-width="0.6">PRD</text>
<text x="367.10" y="362.34" font-size="8.5" text-anchor="middle" fill="#000" stroke="#000" stroke-width="0.6">0.08</text>
<text x="400.70" y="362.34" font-size="8.5" text-anchor="middle" fill="#000" stroke="#000" stroke-width="0.6">0.19</text>
<text x="434.30" y="362.34" font-size="8.5" text-anchor="middle" fill="#000" stroke="#000" stroke-width="0.6">0.23</text>
<text x="467.90" y="362.34" font-size="8.5" text-anchor="middle" fill="#000" stroke="#000" stroke-width="0.6">0.26</text>
<text x="501.50" y="362.34" font-size="8.5" text-anchor="middle" fill="#000" stroke="#000" stroke-width="0.6">0.27</text>
<text x="342.90" y="377.17" font-size="8.5" text-anchor="middle" fill="#000" stroke="#000" stroke-width="0.6">AAR</text>
<text x="367.10" y="377.17" font-size="8.5" text-anchor="middle" fill="#000" stroke="#000" stroke-width="0.6">0.09</text>
<text x="400.70" y="377.17" font-size="8.5" text-anchor="middle" fill="#000" stroke="#000" stroke-width="0.6">0.06</text>
<text x="434.30" y="377.17" font-size="8.5" text-anchor="middle" fill="#000" stroke="#000" stroke-width="0.6">0.05</text>
<text x="467.90" y="377.17" font-size="8.5" text-anchor="middle" fill="#000" stroke="#000" stroke-width="0.6">0.03</text>
<text x="501.50" y="377.17" font-size="8.5" text-anchor="middle" fill="#000" stroke="#000" stroke-width="0.6">0.03</text>
<text x="296.2" y="70.7" font-size="8.5" text-anchor="end" textLength="69.6" lengthAdjust="spacingAndGlyphs" fill="#000" stroke="#000" stroke-width="0.6">non-relapse death</text>
<text x="296" y="80" font-size="8.5" text-anchor="end" fill="#000" stroke="#000" stroke-width="0.6">relapse death</text>
<text x="295.6" y="117.4" font-size="8.5" text-anchor="end" fill="#000" stroke="#000" stroke-width="0.6">alive after relapse</text>
<text x="295.4" y="134.7" font-size="8.5" text-anchor="end" fill="#000" stroke="#000" stroke-width="0.6">alive in CR1</text>
<text x="127.3" y="124.5" font-size="8.5" fill="#000" stroke="#000" stroke-width="0.6">Overall survival</text>
<line x1="183.9" y1="117.4" x2="198.6" y2="86.6" stroke="#111" stroke-width="1.3"/>
<text x="88.6" y="61" font-size="13" font-weight="bold" fill="#000" stroke="#000" stroke-width="0.35">a</text>
<text x="307.8" y="61.2" font-size="13" font-weight="bold" fill="#000" stroke="#000" stroke-width="0.35">b</text>
<text x="86.2" y="244.2" font-size="13" font-weight="bold" fill="#000" stroke="#000" stroke-width="0.35">c</text>
<text x="307.8" y="244.2" font-size="13" font-weight="bold" fill="#000" stroke="#000" stroke-width="0.35">d</text>
<text x="9.6" y="16" font-size="11" textLength="31" lengthAdjust="spacingAndGlyphs" fill="#222" stroke="#222" stroke-width="0.4">Figure</text>
<text x="112.3" y="25" font-size="8.6" textLength="89.7" lengthAdjust="spacingAndGlyphs" fill="#333">Predicted outcome with</text>
<text x="145.4" y="39.3" font-size="8.5" font-weight="bold" textLength="115.4" lengthAdjust="spacingAndGlyphs" fill="#000" stroke="#000" stroke-width="0.35">Standard chemotherapy and</text>
<text x="145.4" y="49.3" font-size="8.5" font-weight="bold" textLength="76.9" lengthAdjust="spacingAndGlyphs" fill="#000" stroke="#000" stroke-width="0.35">HSCT after relapse</text>
<text x="363.5" y="39.8" font-size="8.5" font-weight="bold" textLength="98.8" lengthAdjust="spacingAndGlyphs" fill="#000" stroke="#000" stroke-width="0.35">Allogeneic HSCT in CR1</text>
<text x="13.5" y="101" font-size="8.5" font-weight="bold" textLength="39.5" lengthAdjust="spacingAndGlyphs" fill="#000" stroke="#000" stroke-width="0.5">PD11104a</text>
<text x="13.5" y="121.7" font-size="8.5" fill="#000" stroke="#000" stroke-width="0.6">29yr old</text>
<text x="13.5" y="132.1" font-size="8.5" fill="#000" stroke="#000" stroke-width="0.6">female</text>
<text x="13.5" y="142.6" font-size="8.5" fill="#000" stroke="#000" stroke-width="0.6">t(8;21)</text>
<text x="13.5" y="163.1" font-size="8.5" fill="#000" stroke="#000" stroke-width="0.6">ELN Favourable</text>
<text x="13.5" y="262.8" font-size="8.5" font-weight="bold" textLength="35.3" lengthAdjust="spacingAndGlyphs" fill="#000" stroke="#000" stroke-width="0.5">PD8314a</text>
<text x="13.5" y="283.6" font-size="8.5" fill="#000" stroke="#000" stroke-width="0.6">49yr old</text>
<text x="13.5" y="294" font-size="8.5" fill="#000" stroke="#000" stroke-width="0.6">male</text>
<text x="13.5" y="303.4" font-size="8.5" fill="#000" stroke="#000" stroke-width="0.6">NK</text>
<text x="13.5" y="314.2" font-size="8.5" font-style="italic" fill="#000" stroke="#000" stroke-width="0.6">NPM1,</text>
<text x="13.5" y="325" font-size="8.5" font-style="italic" fill="#000" stroke="#000" stroke-width="0.6">DNMT3A,</text>
<text x="13.5" y="335.6" font-size="8.5" font-style="italic" fill="#000" stroke="#000" stroke-width="0.6">IDH1</text>
<text x="13.5" y="356" font-size="8.5" fill="#000" stroke="#000" stroke-width="0.6">ELN Favourable</text>
<text x="13.5" y="367.2" font-size="8.5" fill="#000" stroke="#000" stroke-width="0.6">alloHSCT in CR2</text>
<text x="108.6" y="446.5" font-size="8.5" font-weight="bold" textLength="98.4" lengthAdjust="spacingAndGlyphs" fill="#000" stroke="#000" stroke-width="0.35">Actual status/treatment:</text>
<rect x="216.2" y="442.5" width="64" height="3" fill="#8b55a8"/>
<rect x="280.2" y="442.5" width="32.8" height="3" fill="#f0902f"/>
<text x="232" y="440.1" font-size="8.5" textLength="35.8" lengthAdjust="spacingAndGlyphs" fill="#000" stroke="#000" stroke-width="0.3">remission</text>
<text x="282.3" y="440.1" font-size="8.5" textLength="27.7" lengthAdjust="spacingAndGlyphs" fill="#000" stroke="#000" stroke-width="0.3">relapse</text>
<text x="321.5" y="446.8" font-size="8.5" textLength="93" lengthAdjust="spacingAndGlyphs" fill="#000" stroke="#000" stroke-width="0.4">patient alive during/after</text>
<rect x="305.2" y="456.1" width="3.8" height="3.9" fill="#8dbf8e"/>
<text x="321.5" y="461" font-size="8.5" textLength="101" lengthAdjust="spacingAndGlyphs" fill="#000" stroke="#000" stroke-width="0.4">patient death after relapse</text>
<path d="M304.6,467.3L311,473.7M304.6,473.7L311,467.3" stroke="#000" stroke-width="1.1"/>
<text x="321.5" y="473.2" font-size="8.5" textLength="64.5" lengthAdjust="spacingAndGlyphs" fill="#000" stroke="#000" stroke-width="0.4">allogeneic HSCT</text>
</g>
<rect x="0" y="0" width="520" height="1" fill="#2b2b2b"/><rect x="0" y="0" width="1.1" height="491" fill="#2b2b2b"/><rect x="518.8" y="0" width="1.2" height="491" fill="#2b2b2b"/><rect x="0" y="489.6" width="520" height="1.4" fill="#2b2b2b"/>
</svg>
</body></html>
